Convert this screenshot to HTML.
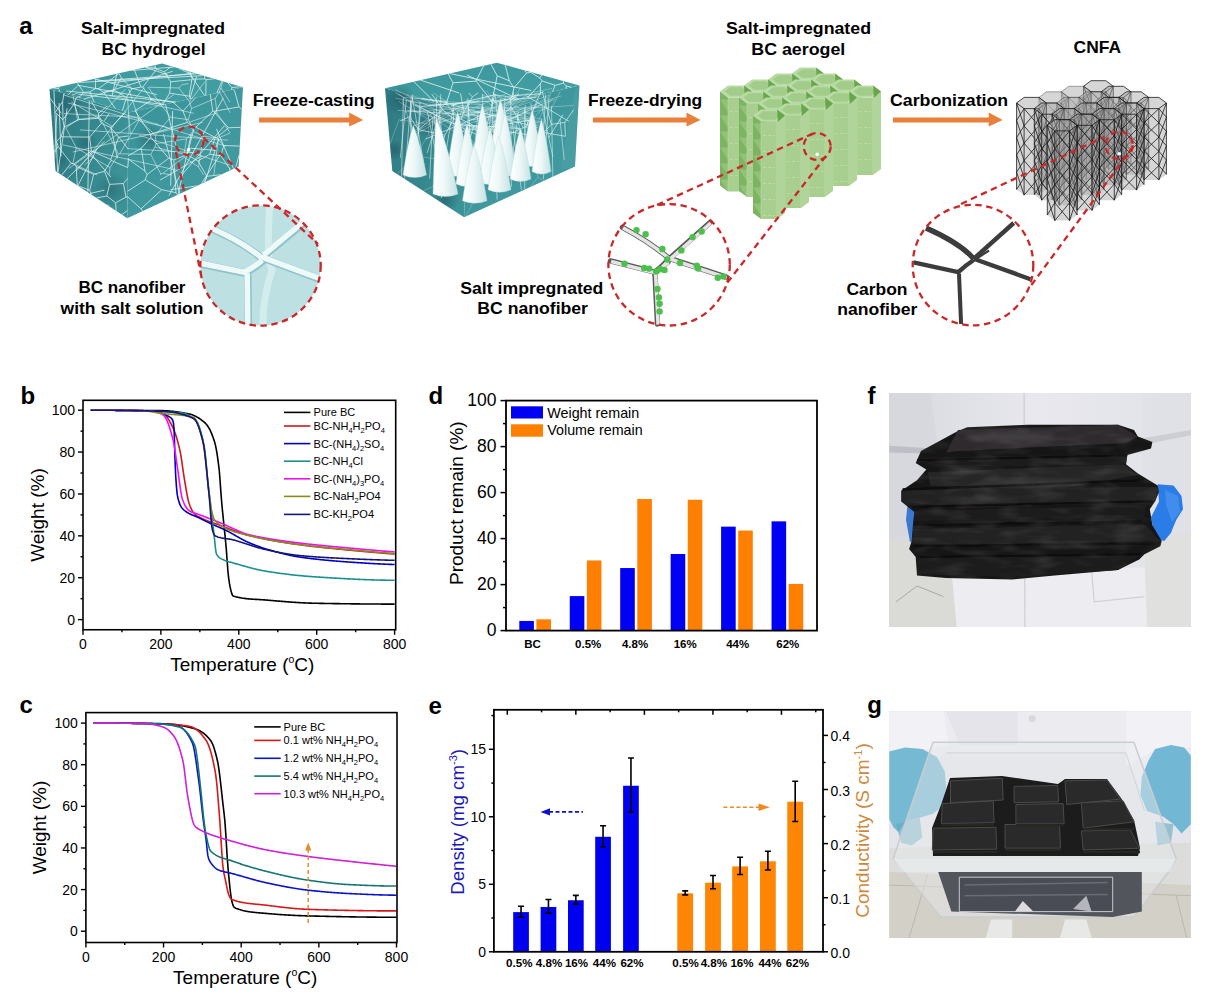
<!DOCTYPE html><html><head><meta charset="utf-8"><style>html,body{margin:0;padding:0;background:#fff;width:1210px;height:998px;overflow:hidden}svg{display:block}text{font-family:"Liberation Sans",sans-serif}</style></head><body>
<svg width="1210" height="998" viewBox="0 0 1210 998">
<rect width="1210" height="998" fill="#fff"/>
<text x="19.2" y="34" font-size="24" text-anchor="start" font-weight="bold" >a</text>
<text x="153.1" y="34" font-size="17" text-anchor="middle" font-weight="bold" textLength="144" lengthAdjust="spacingAndGlyphs">Salt-impregnated</text>
<text x="153.6" y="55" font-size="17" text-anchor="middle" font-weight="bold" textLength="104" lengthAdjust="spacingAndGlyphs">BC hydrogel</text>
<text x="252.7" y="105.7" font-size="17" text-anchor="start" font-weight="bold" textLength="122" lengthAdjust="spacingAndGlyphs">Freeze-casting</text>
<text x="132" y="293" font-size="17" text-anchor="middle" font-weight="bold" textLength="107" lengthAdjust="spacingAndGlyphs">BC nanofiber</text>
<text x="60.6" y="314" font-size="17" text-anchor="start" font-weight="bold" textLength="142.8" lengthAdjust="spacingAndGlyphs">with salt solution</text>
<text x="588" y="105.7" font-size="17" text-anchor="start" font-weight="bold" textLength="114.2" lengthAdjust="spacingAndGlyphs">Freeze-drying</text>
<text x="460.3" y="293.7" font-size="17" text-anchor="start" font-weight="bold" textLength="143.1" lengthAdjust="spacingAndGlyphs">Salt impregnated</text>
<text x="477.3" y="314" font-size="17" text-anchor="start" font-weight="bold" textLength="110.7" lengthAdjust="spacingAndGlyphs">BC nanofiber</text>
<text x="726" y="34" font-size="17" text-anchor="start" font-weight="bold" textLength="145" lengthAdjust="spacingAndGlyphs">Salt-impregnated</text>
<text x="845.3" y="54.5" font-size="17" text-anchor="end" font-weight="bold" textLength="94" lengthAdjust="spacingAndGlyphs">BC aerogel</text>
<text x="1073.6" y="52.7" font-size="17" text-anchor="start" font-weight="bold" textLength="47.4" lengthAdjust="spacingAndGlyphs">CNFA</text>
<text x="890" y="105.5" font-size="17" text-anchor="start" font-weight="bold" textLength="118.2" lengthAdjust="spacingAndGlyphs">Carbonization</text>
<text x="846.4" y="294.5" font-size="17" text-anchor="start" font-weight="bold" textLength="61.1" lengthAdjust="spacingAndGlyphs">Carbon</text>
<text x="837.3" y="314.5" font-size="17" text-anchor="start" font-weight="bold" textLength="80" lengthAdjust="spacingAndGlyphs">nanofiber</text>
<path d="M259.1,117.5 L349.2,117.5 L349.2,112.4 L363.2,120 L349.2,126.6 L349.2,122.5 L259.1,122.5 Z" fill="#e8803a"/>
<path d="M593,117.5 L686.5,117.5 L686.5,112.4 L700.5,120 L686.5,126.6 L686.5,122.5 L593,122.5 Z" fill="#e8803a"/>
<path d="M893,117.5 L988.7,117.5 L988.7,112.4 L1002.7,120 L988.7,126.6 L988.7,122.5 L893,122.5 Z" fill="#e8803a"/>
<defs><linearGradient id="lf1" x1="0" y1="0" x2="1" y2="0.3"><stop offset="0" stop-color="#2f7a83"/><stop offset="0.6" stop-color="#35878e"/><stop offset="1" stop-color="#3b9297"/></linearGradient><linearGradient id="tf1" x1="0" y1="0" x2="1" y2="1"><stop offset="0" stop-color="#3b979b"/><stop offset="1" stop-color="#43a0a4"/></linearGradient><linearGradient id="rf1" x1="0" y1="0" x2="1" y2="1"><stop offset="0" stop-color="#38939a"/><stop offset="1" stop-color="#439ca0"/></linearGradient><radialGradient id="blob1"><stop offset="0" stop-color="#1a4f58" stop-opacity="0.85"/><stop offset="1" stop-color="#1a4f58" stop-opacity="0"/></radialGradient><clipPath id="bclip1"><polygon points="49.5,89.0 162.0,63.5 243.0,87.3 238.6,166.5 127.3,218.2 55.5,171.0"/></clipPath></defs>
<polygon points="49.5,89.0 162.0,63.5 243.0,87.3 128.5,112.5" fill="url(#tf1)"/>
<polygon points="49.5,89.0 128.5,112.5 127.3,218.2 55.5,171.0" fill="url(#lf1)"/>
<polygon points="128.5,112.5 243.0,87.3 238.6,166.5 127.3,218.2" fill="url(#rf1)"/>
<g clip-path="url(#bclip1)">
<circle cx="66" cy="104" r="18" fill="url(#blob1)" opacity="0.45"/>
<circle cx="112" cy="190" r="18" fill="url(#blob1)" opacity="0.45"/>
<circle cx="86" cy="143" r="12" fill="url(#blob1)" opacity="0.45"/>
<circle cx="60" cy="160" r="10" fill="url(#blob1)" opacity="0.45"/>
<circle cx="150" cy="140" r="16" fill="url(#blob1)" opacity="0.45"/>
<path d="M59.4,86.8L58.5,88.5M53.5,88.1L58.5,88.5M76.6,97.0L79.9,96.7M60.2,92.2L58.5,88.5M79.9,96.7L83.7,92.5M77.2,82.7L83.7,92.5M134.2,111.2L151.9,99.9M151.9,99.9L162.1,105.1M190.4,71.9L190.5,73.7M190.5,73.7L178.5,68.3M94.2,102.3L89.8,91.8M79.9,96.7L79.8,98.0M89.8,91.8L83.7,92.5M89.8,91.8L95.5,88.6M95.6,78.5L95.5,88.6M115.5,108.6L103.5,92.1M103.5,92.1L98.4,88.9M98.4,88.9L95.5,88.6M114.2,90.1L126.4,97.5M114.2,90.1L121.4,77.8M121.4,77.8L131.9,88.8M126.4,97.5L131.9,88.8M122.4,110.7L126.4,97.5M103.5,92.1L114.2,90.1M119.0,73.4L98.4,88.9M119.0,73.4L121.4,77.8M151.9,99.9L142.8,87.1M162.4,105.0L169.7,93.2M164.4,71.7L170.7,81.8M164.4,71.7L156.6,69.2M169.7,93.2L170.7,81.8M142.8,87.1L156.6,69.2M131.9,88.8L141.0,87.0M142.8,87.1L141.0,87.0M155.0,65.1L155.4,67.2M164.4,71.7L171.5,66.3M156.6,69.2L155.4,67.2M155.4,67.2L145.0,67.4M119.0,73.4L119.0,73.3M141.0,87.0L134.3,69.8M204.6,76.0L204.7,78.9M190.5,73.7L192.4,79.2M204.7,78.9L192.4,79.2M170.7,81.8L191.8,79.7M192.4,79.2L191.8,79.7M169.7,93.2L189.3,96.2M191.8,79.7L189.3,96.2M204.7,78.9L206.0,79.7M214.2,78.8L206.0,79.7M228.0,82.9L231.9,87.5M222.0,81.1L216.8,93.1M231.7,89.0L231.9,87.5M231.7,89.0L231.2,89.9M241.0,86.7L231.9,87.5M206.0,79.7L205.8,95.5M189.3,96.2L190.8,98.8M164.5,104.6L78.5,94.2M77.3,85.2L174.2,102.5M174.1,67.0L131.0,70.5M197.1,73.8L96.8,81.0M83.6,99.2L172.6,71.3M145.9,67.4L167.7,74.9M94.6,78.8L156.9,94.7M112.3,95.0L116.8,73.7M110.5,82.9L194.2,73.0M66.2,91.0L176.2,102.0M188.0,71.1L204.7,95.7M77.4,86.3L68.2,94.6M189.8,99.0L196.6,76.6M202.3,75.7L78.1,82.5" stroke="#e6f4f4" stroke-width="0.8" fill="none" opacity="0.95"/>
<path d="M56.5,141.5L58.1,146.5M54.1,152.5L58.1,146.5M107.0,106.1L98.5,113.3M98.5,113.3L91.4,101.5M101.4,123.3L98.8,118.3M101.4,123.3L89.6,137.1M98.8,118.3L79.1,119.6M89.6,137.1L61.0,136.8M79.1,119.6L64.1,127.0M61.0,136.8L64.1,127.0M98.5,113.3L98.8,118.3M76.4,97.0L74.4,103.5M74.4,103.5L79.1,119.6M128.2,136.0L118.8,137.2M126.1,111.8L110.8,127.6M110.8,127.6L118.5,137.1M118.5,137.1L118.8,137.2M128.1,148.7L118.8,137.2M101.4,123.3L110.8,127.6M55.3,112.4L62.9,119.9M55.3,112.4L62.6,101.5M62.6,101.5L63.0,119.5M62.9,119.9L63.0,119.5M56.5,141.5L61.0,136.8M64.1,127.0L62.9,119.9M64.1,93.3L62.6,101.5M74.4,103.5L63.0,119.5M123.4,183.5L127.8,178.3M123.4,183.5L126.0,197.1M126.0,197.1L127.5,197.2M127.4,210.4L122.5,214.3M122.5,214.3L121.1,214.1M58.1,146.5L71.2,163.2M71.2,163.2L61.7,175.1M89.6,137.1L91.4,150.9M71.2,163.2L74.1,164.0M91.4,150.9L74.1,164.0M118.5,137.1L110.9,159.5M91.4,150.9L110.9,159.5M127.9,167.7L111.1,160.4M110.9,159.5L111.1,160.4M126.0,197.1L115.6,202.8M115.6,202.8L116.2,210.9M104.5,171.3L93.7,174.3M104.5,171.3L109.6,184.4M93.7,174.3L89.7,190.3M109.6,184.4L106.8,196.0M106.8,196.0L96.6,198.0M89.7,190.3L91.5,194.7M74.1,164.0L76.2,166.5M76.2,166.5L93.7,174.3M111.1,160.4L104.5,171.3M123.4,183.5L109.6,184.4M76.2,166.5L77.3,185.3M77.8,185.7L89.7,190.3M115.6,202.8L106.8,196.0M89.8,193.5L104.5,190.1M97.4,148.1L77.8,185.7M61.0,156.4L59.1,103.0M117.4,158.2L110.8,126.8M61.4,113.4L50.2,98.4M108.8,205.7L107.3,205.0M110.9,177.0L88.9,151.7M104.4,120.7L109.0,113.8M54.6,158.9L56.7,114.4M53.9,90.3L57.7,172.4M104.4,141.3L67.2,178.7M87.9,192.3L89.3,100.8M57.9,172.6L67.1,108.4" stroke="#e6f4f4" stroke-width="0.8" fill="none" opacity="0.95"/>
<path d="M241.8,109.6L239.0,106.9M234.6,91.0L239.0,106.9M233.5,89.4L234.6,91.0M239.7,146.1L223.7,145.5M239.3,154.4L235.6,167.9M220.9,155.7L223.7,145.5M220.9,155.7L230.6,170.2M135.3,111.0L150.5,134.2M150.5,134.2L150.9,137.3M150.9,137.3L141.2,148.3M128.0,155.9L141.2,148.3M239.0,106.9L213.5,111.4M210.3,94.5L212.8,111.2M213.5,111.4L212.8,111.2M240.8,127.3L228.6,127.8M213.5,111.4L228.6,127.8M223.7,145.5L216.5,137.5M228.6,127.8L216.5,137.5M150.5,134.2L187.4,122.4M187.4,122.4L182.9,111.0M173.4,102.6L182.9,111.0M127.6,191.2L145.2,179.9M127.9,167.0L128.4,159.2M128.4,159.2L145.0,171.1M145.2,179.9L147.1,174.5M147.1,174.5L145.0,171.1M128.0,158.0L128.4,159.2M141.2,148.3L145.0,171.1M150.9,137.3L168.7,158.2M168.7,158.2L147.1,174.5M215.2,137.5L195.8,127.2M215.2,137.5L209.6,154.3M209.6,154.3L197.9,161.0M194.2,127.5L195.8,127.2M194.2,127.5L187.2,154.7M187.2,154.7L197.9,161.0M212.8,111.2L195.8,127.2M216.5,137.5L215.2,137.5M220.9,155.7L209.6,154.3M206.9,176.3L221.0,174.7M206.9,176.3L197.9,161.0M173.9,159.9L187.2,154.7M173.9,159.9L168.7,158.2M187.4,122.4L194.2,127.5M182.9,111.0L195.5,97.8M206.9,176.3L204.0,182.5M176.0,192.7L177.6,194.8M176.0,192.7L161.8,189.7M161.8,189.7L141.1,208.8M141.1,208.8L142.6,211.1M173.9,159.9L176.0,192.7M145.2,179.9L161.8,189.7M127.5,196.6L141.1,208.8M176.5,147.6L165.5,104.4M169.0,195.5L223.3,97.9M191.3,133.6L178.2,194.6M220.9,153.7L201.3,183.8M170.7,189.7L196.7,185.9M180.0,177.0L224.2,126.0M215.6,150.4L189.1,148.1M170.7,185.8L172.6,111.0M218.4,139.6L205.0,182.1M202.2,155.9L160.1,180.1M233.6,168.8L216.4,128.9M163.5,134.1L179.8,193.8" stroke="#e6f4f4" stroke-width="0.8" fill="none" opacity="0.95"/>
<path d="M219.4,91.7L220.9,88.0M219.4,91.7L230.0,112.8M220.9,88.0L230.0,102.1M223.1,80.6L220.9,88.0M72.7,93.9L77.5,119.6M65.9,127.9L77.5,119.6M125.4,89.2L99.5,116.7M128.6,89.0L139.2,120.1M139.2,120.1L119.7,153.8M99.5,116.7L118.5,154.1M119.7,153.8L118.5,154.1M77.5,119.6L99.5,116.7M155.4,135.1L139.2,120.1M155.4,135.1L170.6,117.2M170.6,117.2L148.0,87.2M184.3,157.3L184.0,154.3M184.3,157.3L162.6,173.4M184.0,154.3L154.8,147.1M162.6,173.4L160.7,173.9M160.7,173.9L150.8,154.5M154.8,147.1L150.8,154.5M186.6,138.9L184.0,154.3M186.6,138.9L193.0,131.3M193.0,131.3L203.4,136.2M203.4,136.2L198.5,167.0M198.5,167.0L184.3,157.3M203.6,175.0L198.5,167.0M172.0,175.0L162.6,173.4M156.1,143.7L154.8,147.1M156.1,143.7L186.6,138.9M155.4,135.1L156.1,143.7M119.7,153.8L150.8,154.5M215.3,98.4L191.6,108.5M215.3,98.4L216.9,112.9M216.9,112.9L189.7,122.0M191.6,108.5L188.3,119.7M189.7,122.0L188.3,119.7M170.6,117.2L188.3,119.7M193.0,131.3L189.7,122.0M218.4,138.0L230.0,133.1M218.4,138.0L213.9,175.0M229.4,175.0L230.0,167.5M203.4,136.2L218.4,138.0M216.9,112.9L230.0,132.7M160.4,175.0L160.7,173.9M219.4,91.7L215.3,98.4M189.4,101.5L178.9,88.0M189.4,101.5L204.5,82.3M188.6,83.7L182.1,84.5M178.9,88.0L182.1,84.5M148.6,87.2L178.9,88.0M191.6,108.5L189.4,101.5M109.0,175.0L110.1,167.6M97.3,175.0L72.8,163.5M110.1,167.6L76.3,147.8M72.8,163.5L76.3,147.8M118.5,154.1L110.1,167.6M65.9,127.9L76.3,147.8M139.2,135.2L229.7,165.2M84.5,164.9L94.5,156.3M174.2,94.4L69.1,168.3M63.1,94.7L225.7,146.2M155.9,123.1L157.3,124.0M71.2,101.9L113.4,127.1M126.9,148.6L196.6,153.0M138.3,117.3L63.9,113.6M193.8,113.2L108.6,95.5M167.6,127.6L67.8,103.0M73.0,94.6L77.8,93.4M228.2,140.2L80.0,129.9M127.5,98.4L130.2,133.8M76.9,170.7L144.2,87.6M176.5,170.1L62.8,144.8M202.6,122.3L72.9,152.0" stroke="#e6f4f4" stroke-width="0.75" fill="none" opacity="0.75"/>
</g>
<defs><linearGradient id="lf2" x1="0" y1="0" x2="1" y2="0.3"><stop offset="0" stop-color="#2f7a83"/><stop offset="0.6" stop-color="#35878e"/><stop offset="1" stop-color="#3b9297"/></linearGradient><linearGradient id="tf2" x1="0" y1="0" x2="1" y2="1"><stop offset="0" stop-color="#3b979b"/><stop offset="1" stop-color="#43a0a4"/></linearGradient><linearGradient id="rf2" x1="0" y1="0" x2="1" y2="1"><stop offset="0" stop-color="#38939a"/><stop offset="1" stop-color="#439ca0"/></linearGradient><radialGradient id="blob2"><stop offset="0" stop-color="#1a4f58" stop-opacity="0.85"/><stop offset="1" stop-color="#1a4f58" stop-opacity="0"/></radialGradient><clipPath id="bclip2"><polygon points="385.0,88.2 496.8,62.7 579.5,85.5 575.0,166.4 464.1,217.3 392.3,170.9"/></clipPath></defs>
<polygon points="385.0,88.2 496.8,62.7 579.5,85.5 467.7,111.0" fill="url(#tf2)"/>
<polygon points="385.0,88.2 467.7,111.0 464.1,217.3 392.3,170.9" fill="url(#lf2)"/>
<polygon points="467.7,111.0 579.5,85.5 575.0,166.4 464.1,217.3" fill="url(#rf2)"/>
<g clip-path="url(#bclip2)">
<circle cx="400" cy="100" r="16" fill="url(#blob2)" opacity="0.6"/>
<circle cx="430" cy="125" r="14" fill="url(#blob2)" opacity="0.6"/>
<circle cx="445" cy="200" r="14" fill="url(#blob2)" opacity="0.6"/>
<circle cx="395" cy="150" r="10" fill="url(#blob2)" opacity="0.6"/>
<polygon points="575.0,90.0 579.5,85.5 575.0,166.4 560.0,170.0" fill="#5aa6aa" opacity="0.35"/>
<path d="M566.1,88.6L566.3,85.9M566.3,85.9L571.5,87.3M434.1,101.7L413.8,81.6M491.7,105.5L492.9,103.2M492.9,103.2L508.3,99.0M516.2,99.9L511.8,97.7M508.3,99.0L511.8,97.7M445.8,105.0L453.0,82.8M453.0,82.8L448.2,73.8M513.9,87.9L509.3,80.8M513.9,87.9L526.7,72.9M505.2,65.0L509.3,80.8M524.4,70.3L526.7,72.9M566.3,85.9L563.3,83.2M563.3,83.2L563.6,81.1M497.2,75.8L490.8,64.1M497.2,75.8L492.0,101.6M492.0,101.6L476.0,81.1M476.0,81.1L483.7,65.7M509.3,80.8L497.2,75.8M513.9,87.9L511.8,97.7M492.9,103.2L492.0,101.6M453.0,82.8L476.0,81.1M526.7,72.9L531.0,72.5M531.0,72.5L531.1,72.2M531.0,72.5L539.7,77.9M539.7,77.9L541.8,75.1M540.4,94.4L540.3,83.8M552.6,91.6L555.2,85.3M555.2,85.3L542.1,80.9M540.3,83.8L542.1,80.9M527.9,97.3L540.3,83.8M563.3,83.2L555.2,85.3M539.7,77.9L542.1,80.9M451.0,105.3L494.8,94.7M420.5,80.1L459.1,93.0M531.2,90.5L449.5,73.5M467.0,75.1L518.9,99.3M421.5,98.3L447.7,102.6M518.9,93.6L508.4,101.7" stroke="#e6f4f4" stroke-width="0.85" fill="none" opacity="0.95"/>
<path d="M453.8,119.0L444.9,135.1M453.8,119.0L461.0,119.0M461.0,119.0L473.7,125.7M473.7,125.7L469.7,140.0M443.5,140.0L444.9,135.1M535.0,133.4L538.9,135.3M535.0,133.4L531.4,140.0M412.9,94.5L410.3,116.4M400.3,120.9L410.3,116.4M418.5,129.7L418.5,129.5M418.5,129.5L411.5,119.7M444.9,135.1L418.5,129.7M442.5,109.7L418.5,129.5M442.5,109.7L453.8,119.0M442.5,109.7L431.8,94.0M410.3,116.4L411.5,119.7M461.0,119.0L463.9,111.8M463.9,111.8L460.5,93.2M500.5,140.0L500.4,138.7M500.4,138.7L490.0,129.0M473.7,125.7L486.5,126.7M486.5,126.7L490.0,129.0M526.2,127.0L539.8,93.9M526.2,127.0L523.3,127.5M523.3,127.5L510.8,106.7M539.8,93.9L513.7,95.6M510.8,106.7L510.9,97.0M513.7,95.6L510.9,97.0M535.0,133.4L526.2,127.0M500.4,138.7L523.3,127.5M490.0,129.0L510.8,106.7M543.4,90.9L542.3,92.1M542.3,92.1L539.8,93.9M513.1,91.7L513.7,95.6M486.5,126.7L494.7,94.9M494.7,94.9L510.9,97.0M551.3,124.4L564.8,122.4M551.3,124.4L543.8,132.5M543.8,132.5L565.4,136.3M564.8,122.4L565.4,136.3M573.8,109.6L564.8,122.4M542.3,92.1L551.3,124.4M538.9,135.3L543.8,132.5M472.4,96.9L468.7,93.0M472.4,96.9L478.3,92.7M463.9,111.8L472.4,96.9M494.7,94.9L492.7,92.3M563.1,114.6L548.5,137.9M470.0,120.3L501.8,114.0M479.4,101.1L428.8,105.4M501.6,123.0L542.5,104.3M487.8,112.7L425.7,139.1M455.4,124.5L519.5,128.5M545.0,137.3L452.8,123.4M452.0,104.9L537.7,127.5M526.7,96.1L569.1,121.4M478.7,135.6L415.1,105.1M420.8,106.4L536.6,97.5M532.0,119.9L454.3,132.5" stroke="#e6f4f4" stroke-width="0.8" fill="none" opacity="0.85"/>
<path d="M532.1,157.8L524.2,152.1M524.2,152.1L551.4,91.9M530.6,186.8L538.0,177.3M543.7,180.8L538.0,177.3M532.1,157.8L538.0,177.3M489.1,172.8L512.3,156.1M489.1,172.8L475.3,128.2M512.3,156.1L496.9,117.0M475.3,128.2L496.9,117.0M465.5,216.7L489.1,172.8M524.2,152.1L512.3,156.1M467.3,124.0L475.3,128.2M507.3,102.0L496.9,117.0" stroke="#e6f4f4" stroke-width="0.6" fill="none" opacity="0.45"/>
<path d="M423.4,191.0L442.0,181.9M440.8,103.6L442.6,110.4M442.6,110.4L467.4,119.0M442.6,110.4L428.8,124.0M428.8,124.0L399.0,119.7M399.0,119.7L390.0,144.4M428.6,134.3L415.3,156.3M428.6,134.3L449.5,154.7M415.3,156.3L446.3,159.9M449.5,154.7L446.3,159.9M428.8,124.0L428.6,134.3M397.2,174.1L415.3,156.3M466.4,149.2L449.5,154.7M442.0,181.9L446.3,159.9" stroke="#e6f4f4" stroke-width="0.6" fill="none" opacity="0.45"/>
<defs><linearGradient id="cone" x1="0" y1="0" x2="1" y2="0"><stop offset="0" stop-color="#ffffff"/><stop offset="0.45" stop-color="#eef8f8"/><stop offset="1" stop-color="#c5e2e4"/></linearGradient></defs>
<path d="M539.9,107.4L482.4,107.4M404.7,97.2L481.9,105.0M403.8,112.0L482.9,106.8M473.3,111.4L483.9,112.9M465.6,99.8L483.0,105.1M495.0,94.5L502.0,99.6M517.3,108.9L499.4,108.0M552.0,88.4L501.3,99.0M485.6,98.5L499.3,102.2M540.1,95.6L499.1,106.0M475.7,107.2L531.2,113.2M539.0,100.2L532.3,112.4M397.6,110.4L530.6,118.4M461.2,110.8L531.9,119.4M495.1,93.8L533.3,116.7M518.2,99.1L456.6,118.2M414.3,104.6L458.2,115.6M538.7,92.7L457.3,119.8M463.5,105.1L458.2,121.2M573.5,105.4L458.9,113.3M523.3,108.3L504.6,117.5M481.3,111.0L504.3,116.0M395.2,98.1L505.5,121.3M561.3,95.9L507.0,113.9M543.2,91.8L504.6,112.7M549.4,107.9L465.6,129.3M441.5,99.8L467.2,125.1M550.6,94.7L466.8,124.6M395.5,92.7L466.4,133.3M555.2,99.5L466.8,130.7M549.6,96.1L491.2,132.0M501.9,105.7L490.0,134.9M520.5,88.1L488.2,129.5M433.5,92.9L488.2,130.2M503.2,109.3L489.4,131.7M470.0,104.3L414.3,134.9M462.6,105.0L412.6,133.7M436.5,108.9L413.2,132.8M491.3,95.6L413.2,126.0M402.7,100.7L413.1,133.8M398.6,101.4L436.0,124.0M526.3,100.6L436.3,122.9M505.7,94.0L436.2,124.7M429.4,111.8L437.0,127.6M447.9,98.6L435.0,118.5M398.0,93.9L475.4,146.1M519.1,94.0L472.3,146.4M517.0,100.0L474.2,149.0M444.4,99.7L475.7,146.5M526.9,94.0L472.8,147.7M411.7,110.4L498.1,137.3M395.0,89.5L497.5,139.7M503.3,111.5L500.2,137.9M505.1,110.1L497.0,144.0M466.3,106.8L497.9,141.8M486.3,90.5L521.5,136.4M481.9,97.3L522.3,131.9M553.3,98.0L520.0,131.8M405.8,94.7L519.4,128.8M492.5,98.6L518.6,129.8M560.4,91.2L540.9,128.5M415.4,97.8L542.6,119.2M407.2,110.3L542.1,121.6M481.4,94.0L543.0,128.5M407.8,100.6L540.1,123.0" stroke="#e8f6f6" stroke-width="0.6" opacity="0.55" fill="none"/>
<line x1="518.6" y1="112.0" x2="511.1" y2="166.6" stroke="#e8f6f6" stroke-width="0.7" opacity="0.8"/>
<line x1="468.0" y1="102.8" x2="472.4" y2="189.4" stroke="#e8f6f6" stroke-width="0.7" opacity="0.8"/>
<line x1="453.7" y1="104.4" x2="443.3" y2="168.3" stroke="#e8f6f6" stroke-width="0.7" opacity="0.8"/>
<line x1="551.5" y1="106.1" x2="552.9" y2="180.3" stroke="#e8f6f6" stroke-width="0.7" opacity="0.8"/>
<line x1="490.7" y1="114.5" x2="485.0" y2="165.8" stroke="#e8f6f6" stroke-width="0.7" opacity="0.8"/>
<line x1="541.9" y1="106.0" x2="552.9" y2="156.9" stroke="#e8f6f6" stroke-width="0.7" opacity="0.8"/>
<line x1="525.3" y1="105.2" x2="524.7" y2="194.1" stroke="#e8f6f6" stroke-width="0.7" opacity="0.8"/>
<line x1="420.9" y1="106.4" x2="414.9" y2="167.1" stroke="#e8f6f6" stroke-width="0.7" opacity="0.8"/>
<line x1="530.8" y1="103.1" x2="537.6" y2="150.7" stroke="#e8f6f6" stroke-width="0.7" opacity="0.8"/>
<line x1="559.9" y1="118.7" x2="564.2" y2="159.8" stroke="#e8f6f6" stroke-width="0.7" opacity="0.8"/>
<line x1="505.1" y1="97.3" x2="502.1" y2="151.7" stroke="#e8f6f6" stroke-width="0.7" opacity="0.8"/>
<line x1="411.2" y1="96.4" x2="403.6" y2="191.9" stroke="#e8f6f6" stroke-width="0.7" opacity="0.8"/>
<line x1="439.0" y1="115.1" x2="427.2" y2="152.9" stroke="#e8f6f6" stroke-width="0.7" opacity="0.8"/>
<line x1="409.7" y1="118.1" x2="417.4" y2="150.8" stroke="#e8f6f6" stroke-width="0.7" opacity="0.8"/>
<line x1="549.0" y1="98.3" x2="543.4" y2="179.2" stroke="#e8f6f6" stroke-width="0.7" opacity="0.8"/>
<line x1="432.8" y1="119.3" x2="429.6" y2="178.6" stroke="#e8f6f6" stroke-width="0.7" opacity="0.8"/>
<line x1="491.6" y1="99.9" x2="497.2" y2="199.6" stroke="#e8f6f6" stroke-width="0.7" opacity="0.8"/>
<line x1="495.3" y1="94.3" x2="502.7" y2="183.3" stroke="#e8f6f6" stroke-width="0.7" opacity="0.8"/>
<line x1="478.4" y1="110.3" x2="472.6" y2="165.2" stroke="#e8f6f6" stroke-width="0.7" opacity="0.8"/>
<line x1="482.5" y1="93.9" x2="484.6" y2="159.1" stroke="#e8f6f6" stroke-width="0.7" opacity="0.8"/>
<line x1="440.6" y1="117.2" x2="442.7" y2="162.2" stroke="#e8f6f6" stroke-width="0.7" opacity="0.8"/>
<line x1="511.8" y1="119.9" x2="521.4" y2="189.9" stroke="#e8f6f6" stroke-width="0.7" opacity="0.8"/>
<line x1="453.2" y1="108.3" x2="455.2" y2="154.4" stroke="#e8f6f6" stroke-width="0.7" opacity="0.8"/>
<line x1="510.8" y1="106.6" x2="511.4" y2="186.9" stroke="#e8f6f6" stroke-width="0.7" opacity="0.8"/>
<line x1="412.4" y1="98.0" x2="424.1" y2="165.0" stroke="#e8f6f6" stroke-width="0.7" opacity="0.8"/>
<line x1="440.8" y1="94.0" x2="436.3" y2="178.0" stroke="#e8f6f6" stroke-width="0.7" opacity="0.8"/>
<line x1="406.3" y1="100.1" x2="400.4" y2="157.7" stroke="#e8f6f6" stroke-width="0.7" opacity="0.8"/>
<line x1="526.7" y1="118.9" x2="536.7" y2="172.0" stroke="#e8f6f6" stroke-width="0.7" opacity="0.8"/>
<line x1="410.6" y1="101.8" x2="411.2" y2="169.0" stroke="#e8f6f6" stroke-width="0.7" opacity="0.8"/>
<line x1="517.0" y1="112.8" x2="526.5" y2="173.5" stroke="#e8f6f6" stroke-width="0.7" opacity="0.8"/>
<line x1="438.2" y1="117.5" x2="447.4" y2="156.3" stroke="#e8f6f6" stroke-width="0.7" opacity="0.8"/>
<line x1="433.8" y1="110.5" x2="441.5" y2="198.0" stroke="#e8f6f6" stroke-width="0.7" opacity="0.8"/>
<line x1="403.4" y1="97.3" x2="401.5" y2="177.5" stroke="#e8f6f6" stroke-width="0.7" opacity="0.8"/>
<line x1="524.5" y1="107.6" x2="525.0" y2="162.0" stroke="#e8f6f6" stroke-width="0.7" opacity="0.8"/>
<line x1="504.0" y1="108.3" x2="514.7" y2="159.5" stroke="#e8f6f6" stroke-width="0.7" opacity="0.8"/>
<line x1="420.0" y1="101.9" x2="415.8" y2="172.7" stroke="#e8f6f6" stroke-width="0.7" opacity="0.8"/>
<line x1="427.4" y1="111.8" x2="435.2" y2="150.3" stroke="#e8f6f6" stroke-width="0.7" opacity="0.8"/>
<line x1="545.6" y1="94.5" x2="541.0" y2="174.3" stroke="#e8f6f6" stroke-width="0.7" opacity="0.8"/>
<line x1="467.8" y1="98.0" x2="473.3" y2="192.0" stroke="#e8f6f6" stroke-width="0.7" opacity="0.8"/>
<line x1="436.4" y1="96.6" x2="436.9" y2="157.4" stroke="#e8f6f6" stroke-width="0.7" opacity="0.8"/>
<path d="M482.3,104.5 Q477.15,123.55 472,166 Q483.0,171 494,166 Q488.15,123.55 482.3,104.5 Z" fill="url(#cone)" stroke="#b8d8da" stroke-width="0.4"/>
<path d="M500.5,99 Q495.25,117.3 490,158 Q500.5,163 511,158 Q505.75,117.3 500.5,99 Z" fill="url(#cone)" stroke="#b8d8da" stroke-width="0.4"/>
<path d="M532.3,110 Q527.15,126.8 522,164 Q532.0,169 542,164 Q537.15,126.8 532.3,110 Z" fill="url(#cone)" stroke="#b8d8da" stroke-width="0.4"/>
<path d="M457.7,111.8 Q452.35,131.06 447,174 Q458.0,179 469,174 Q463.35,131.06 457.7,111.8 Z" fill="url(#cone)" stroke="#b8d8da" stroke-width="0.4"/>
<path d="M505,112 Q500.0,131.2 495,174 Q505.5,179 516,174 Q510.5,131.2 505,112 Z" fill="url(#cone)" stroke="#b8d8da" stroke-width="0.4"/>
<path d="M467,124 Q461.5,142.6 456,184 Q467.5,189 479,184 Q473.0,142.6 467,124 Z" fill="url(#cone)" stroke="#b8d8da" stroke-width="0.4"/>
<path d="M490,128 Q484.5,144.8 479,182 Q490.0,187 501,182 Q495.5,144.8 490,128 Z" fill="url(#cone)" stroke="#b8d8da" stroke-width="0.4"/>
<path d="M413.2,125.5 Q408.1,140.95 403,175 Q414.75,180 426.5,175 Q419.85,140.95 413.2,125.5 Z" fill="url(#cone)" stroke="#b8d8da" stroke-width="0.4"/>
<path d="M436,118 Q434.5,141.4 433,194 Q445.5,199 458,194 Q447.0,141.4 436,118 Z" fill="url(#cone)" stroke="#b8d8da" stroke-width="0.4"/>
<path d="M474,144.5 Q468.25,161.96 462.5,200.7 Q474.75,205.7 487,200.7 Q480.5,161.96 474,144.5 Z" fill="url(#cone)" stroke="#b8d8da" stroke-width="0.4"/>
<path d="M498.6,135.5 Q493.3,152.39000000000001 488,189.8 Q499.5,194.8 511,189.8 Q504.8,152.39000000000001 498.6,135.5 Z" fill="url(#cone)" stroke="#b8d8da" stroke-width="0.4"/>
<path d="M520.5,128.2 Q515.25,144.01 510,178.9 Q520.5,183.9 531,178.9 Q525.75,144.01 520.5,128.2 Z" fill="url(#cone)" stroke="#b8d8da" stroke-width="0.4"/>
<path d="M541.4,119 Q536.7,135.38 532,171.6 Q541.5,176.6 551,171.6 Q546.2,135.38 541.4,119 Z" fill="url(#cone)" stroke="#b8d8da" stroke-width="0.4"/>
</g>
<polygon points="792.0,73.5 800.0,79.5 800.0,158.5 792.0,152.5" fill="#7db462"/>
<polygon points="800.0,79.5 816.0,79.5 816.0,158.5 800.0,158.5" fill="#a8cf90"/>
<polygon points="816.0,79.5 824.0,73.5 824.0,152.5 816.0,158.5" fill="#b0d49a"/>
<path d="M792.0,81.5L800.0,81.5L800.0,93.5ZM792.0,97.5L800.0,97.5L800.0,109.5ZM792.0,113.5L800.0,113.5L800.0,125.5ZM792.0,129.5L800.0,129.5L800.0,141.5ZM792.0,145.5L800.0,145.5L800.0,157.5Z" fill="#9ac880" opacity="0.7"/>
<path d="M800.0,79.5V158.5M816.0,79.5V158.5" stroke="#c6e2b4" stroke-width="0.6" opacity="0.7"/>
<path d="M802.0,93.5h12.0M802.0,109.5h12.0M802.0,125.5h12.0M802.0,141.5h12.0M802.0,157.5h12.0" stroke="#cfe6c0" stroke-width="0.6" stroke-dasharray="3,2" opacity="0.8"/>
<polygon points="792.0,73.5 800.0,67.5 816.0,67.5 824.0,73.5 816.0,79.5 800.0,79.5" fill="#b9dba6"/>
<polygon points="796.5,73.5 802.2,69.2 813.8,69.2 819.5,73.5 813.8,77.8 802.2,77.8" fill="#a2cc89"/>
<polygon points="816.0,67.5 824.0,73.5 816.8,80.1" fill="#68a64c"/>
<polygon points="768.0,79.5 776.0,85.5 776.0,169.5 768.0,163.5" fill="#7db462"/>
<polygon points="776.0,85.5 792.0,85.5 792.0,169.5 776.0,169.5" fill="#a8cf90"/>
<polygon points="792.0,85.5 800.0,79.5 800.0,163.5 792.0,169.5" fill="#b0d49a"/>
<path d="M768.0,87.5L776.0,87.5L776.0,99.5ZM768.0,103.5L776.0,103.5L776.0,115.5ZM768.0,119.5L776.0,119.5L776.0,131.5ZM768.0,135.5L776.0,135.5L776.0,147.5ZM768.0,151.5L776.0,151.5L776.0,163.5Z" fill="#9ac880" opacity="0.7"/>
<path d="M776.0,85.5V169.5M792.0,85.5V169.5" stroke="#c6e2b4" stroke-width="0.6" opacity="0.7"/>
<path d="M778.0,99.5h12.0M778.0,115.5h12.0M778.0,131.5h12.0M778.0,147.5h12.0M778.0,163.5h12.0" stroke="#cfe6c0" stroke-width="0.6" stroke-dasharray="3,2" opacity="0.8"/>
<polygon points="768.0,79.5 776.0,73.5 792.0,73.5 800.0,79.5 792.0,85.5 776.0,85.5" fill="#b9dba6"/>
<polygon points="772.5,79.5 778.2,75.2 789.8,75.2 795.5,79.5 789.8,83.8 778.2,83.8" fill="#a2cc89"/>
<polygon points="792.0,73.5 800.0,79.5 792.8,86.1" fill="#68a64c"/>
<polygon points="811.0,79.5 819.0,85.5 819.0,164.0 811.0,158.0" fill="#7db462"/>
<polygon points="819.0,85.5 835.0,85.5 835.0,164.0 819.0,164.0" fill="#a8cf90"/>
<polygon points="835.0,85.5 843.0,79.5 843.0,158.0 835.0,164.0" fill="#b0d49a"/>
<path d="M811.0,87.5L819.0,87.5L819.0,99.5ZM811.0,103.5L819.0,103.5L819.0,115.5ZM811.0,119.5L819.0,119.5L819.0,131.5ZM811.0,135.5L819.0,135.5L819.0,147.5ZM811.0,151.5L819.0,151.5L819.0,163.5Z" fill="#9ac880" opacity="0.7"/>
<path d="M819.0,85.5V164.0M835.0,85.5V164.0" stroke="#c6e2b4" stroke-width="0.6" opacity="0.7"/>
<path d="M821.0,99.5h12.0M821.0,115.5h12.0M821.0,131.5h12.0M821.0,147.5h12.0" stroke="#cfe6c0" stroke-width="0.6" stroke-dasharray="3,2" opacity="0.8"/>
<polygon points="811.0,79.5 819.0,73.5 835.0,73.5 843.0,79.5 835.0,85.5 819.0,85.5" fill="#b9dba6"/>
<polygon points="815.5,79.5 821.2,75.2 832.8,75.2 838.5,79.5 832.8,83.8 821.2,83.8" fill="#a2cc89"/>
<polygon points="835.0,73.5 843.0,79.5 835.8,86.1" fill="#68a64c"/>
<polygon points="744.0,85.5 752.0,91.5 752.0,180.5 744.0,174.5" fill="#7db462"/>
<polygon points="752.0,91.5 768.0,91.5 768.0,180.5 752.0,180.5" fill="#a8cf90"/>
<polygon points="768.0,91.5 776.0,85.5 776.0,174.5 768.0,180.5" fill="#b0d49a"/>
<path d="M744.0,93.5L752.0,93.5L752.0,105.5ZM744.0,109.5L752.0,109.5L752.0,121.5ZM744.0,125.5L752.0,125.5L752.0,137.5ZM744.0,141.5L752.0,141.5L752.0,153.5ZM744.0,157.5L752.0,157.5L752.0,169.5Z" fill="#9ac880" opacity="0.7"/>
<path d="M752.0,91.5V180.5M768.0,91.5V180.5" stroke="#c6e2b4" stroke-width="0.6" opacity="0.7"/>
<path d="M754.0,105.5h12.0M754.0,121.5h12.0M754.0,137.5h12.0M754.0,153.5h12.0M754.0,169.5h12.0" stroke="#cfe6c0" stroke-width="0.6" stroke-dasharray="3,2" opacity="0.8"/>
<polygon points="744.0,85.5 752.0,79.5 768.0,79.5 776.0,85.5 768.0,91.5 752.0,91.5" fill="#b9dba6"/>
<polygon points="748.5,85.5 754.2,81.2 765.8,81.2 771.5,85.5 765.8,89.8 754.2,89.8" fill="#a2cc89"/>
<polygon points="768.0,79.5 776.0,85.5 768.8,92.1" fill="#68a64c"/>
<polygon points="787.0,85.5 795.0,91.5 795.0,175.0 787.0,169.0" fill="#7db462"/>
<polygon points="795.0,91.5 811.0,91.5 811.0,175.0 795.0,175.0" fill="#a8cf90"/>
<polygon points="811.0,91.5 819.0,85.5 819.0,169.0 811.0,175.0" fill="#b0d49a"/>
<path d="M787.0,93.5L795.0,93.5L795.0,105.5ZM787.0,109.5L795.0,109.5L795.0,121.5ZM787.0,125.5L795.0,125.5L795.0,137.5ZM787.0,141.5L795.0,141.5L795.0,153.5ZM787.0,157.5L795.0,157.5L795.0,169.5Z" fill="#9ac880" opacity="0.7"/>
<path d="M795.0,91.5V175.0M811.0,91.5V175.0" stroke="#c6e2b4" stroke-width="0.6" opacity="0.7"/>
<path d="M797.0,105.5h12.0M797.0,121.5h12.0M797.0,137.5h12.0M797.0,153.5h12.0M797.0,169.5h12.0" stroke="#cfe6c0" stroke-width="0.6" stroke-dasharray="3,2" opacity="0.8"/>
<polygon points="787.0,85.5 795.0,79.5 811.0,79.5 819.0,85.5 811.0,91.5 795.0,91.5" fill="#b9dba6"/>
<polygon points="791.5,85.5 797.2,81.2 808.8,81.2 814.5,85.5 808.8,89.8 797.2,89.8" fill="#a2cc89"/>
<polygon points="811.0,79.5 819.0,85.5 811.8,92.1" fill="#68a64c"/>
<polygon points="830.0,85.5 838.0,91.5 838.0,169.5 830.0,163.5" fill="#7db462"/>
<polygon points="838.0,91.5 854.0,91.5 854.0,169.5 838.0,169.5" fill="#a8cf90"/>
<polygon points="854.0,91.5 862.0,85.5 862.0,163.5 854.0,169.5" fill="#b0d49a"/>
<path d="M830.0,93.5L838.0,93.5L838.0,105.5ZM830.0,109.5L838.0,109.5L838.0,121.5ZM830.0,125.5L838.0,125.5L838.0,137.5ZM830.0,141.5L838.0,141.5L838.0,153.5ZM830.0,157.5L838.0,157.5L838.0,169.5Z" fill="#9ac880" opacity="0.7"/>
<path d="M838.0,91.5V169.5M854.0,91.5V169.5" stroke="#c6e2b4" stroke-width="0.6" opacity="0.7"/>
<path d="M840.0,105.5h12.0M840.0,121.5h12.0M840.0,137.5h12.0M840.0,153.5h12.0" stroke="#cfe6c0" stroke-width="0.6" stroke-dasharray="3,2" opacity="0.8"/>
<polygon points="830.0,85.5 838.0,79.5 854.0,79.5 862.0,85.5 854.0,91.5 838.0,91.5" fill="#b9dba6"/>
<polygon points="834.5,85.5 840.2,81.2 851.8,81.2 857.5,85.5 851.8,89.8 840.2,89.8" fill="#a2cc89"/>
<polygon points="854.0,79.5 862.0,85.5 854.8,92.1" fill="#68a64c"/>
<polygon points="720.0,91.5 728.0,97.5 728.0,191.5 720.0,185.5" fill="#7db462"/>
<polygon points="728.0,97.5 744.0,97.5 744.0,191.5 728.0,191.5" fill="#a8cf90"/>
<polygon points="744.0,97.5 752.0,91.5 752.0,185.5 744.0,191.5" fill="#b0d49a"/>
<path d="M720.0,99.5L728.0,99.5L728.0,111.5ZM720.0,115.5L728.0,115.5L728.0,127.5ZM720.0,131.5L728.0,131.5L728.0,143.5ZM720.0,147.5L728.0,147.5L728.0,159.5ZM720.0,163.5L728.0,163.5L728.0,175.5ZM720.0,179.5L728.0,179.5L728.0,191.5Z" fill="#9ac880" opacity="0.7"/>
<path d="M728.0,97.5V191.5M744.0,97.5V191.5" stroke="#c6e2b4" stroke-width="0.6" opacity="0.7"/>
<path d="M730.0,111.5h12.0M730.0,127.5h12.0M730.0,143.5h12.0M730.0,159.5h12.0M730.0,175.5h12.0" stroke="#cfe6c0" stroke-width="0.6" stroke-dasharray="3,2" opacity="0.8"/>
<polygon points="720.0,91.5 728.0,85.5 744.0,85.5 752.0,91.5 744.0,97.5 728.0,97.5" fill="#b9dba6"/>
<polygon points="724.5,91.5 730.2,87.2 741.8,87.2 747.5,91.5 741.8,95.8 730.2,95.8" fill="#a2cc89"/>
<polygon points="744.0,85.5 752.0,91.5 744.8,98.1" fill="#68a64c"/>
<polygon points="763.0,91.5 771.0,97.5 771.0,186.0 763.0,180.0" fill="#7db462"/>
<polygon points="771.0,97.5 787.0,97.5 787.0,186.0 771.0,186.0" fill="#a8cf90"/>
<polygon points="787.0,97.5 795.0,91.5 795.0,180.0 787.0,186.0" fill="#b0d49a"/>
<path d="M763.0,99.5L771.0,99.5L771.0,111.5ZM763.0,115.5L771.0,115.5L771.0,127.5ZM763.0,131.5L771.0,131.5L771.0,143.5ZM763.0,147.5L771.0,147.5L771.0,159.5ZM763.0,163.5L771.0,163.5L771.0,175.5Z" fill="#9ac880" opacity="0.7"/>
<path d="M771.0,97.5V186.0M787.0,97.5V186.0" stroke="#c6e2b4" stroke-width="0.6" opacity="0.7"/>
<path d="M773.0,111.5h12.0M773.0,127.5h12.0M773.0,143.5h12.0M773.0,159.5h12.0M773.0,175.5h12.0" stroke="#cfe6c0" stroke-width="0.6" stroke-dasharray="3,2" opacity="0.8"/>
<polygon points="763.0,91.5 771.0,85.5 787.0,85.5 795.0,91.5 787.0,97.5 771.0,97.5" fill="#b9dba6"/>
<polygon points="767.5,91.5 773.2,87.2 784.8,87.2 790.5,91.5 784.8,95.8 773.2,95.8" fill="#a2cc89"/>
<polygon points="787.0,85.5 795.0,91.5 787.8,98.1" fill="#68a64c"/>
<polygon points="806.0,91.5 814.0,97.5 814.0,180.5 806.0,174.5" fill="#7db462"/>
<polygon points="814.0,97.5 830.0,97.5 830.0,180.5 814.0,180.5" fill="#a8cf90"/>
<polygon points="830.0,97.5 838.0,91.5 838.0,174.5 830.0,180.5" fill="#b0d49a"/>
<path d="M806.0,99.5L814.0,99.5L814.0,111.5ZM806.0,115.5L814.0,115.5L814.0,127.5ZM806.0,131.5L814.0,131.5L814.0,143.5ZM806.0,147.5L814.0,147.5L814.0,159.5ZM806.0,163.5L814.0,163.5L814.0,175.5Z" fill="#9ac880" opacity="0.7"/>
<path d="M814.0,97.5V180.5M830.0,97.5V180.5" stroke="#c6e2b4" stroke-width="0.6" opacity="0.7"/>
<path d="M816.0,111.5h12.0M816.0,127.5h12.0M816.0,143.5h12.0M816.0,159.5h12.0M816.0,175.5h12.0" stroke="#cfe6c0" stroke-width="0.6" stroke-dasharray="3,2" opacity="0.8"/>
<polygon points="806.0,91.5 814.0,85.5 830.0,85.5 838.0,91.5 830.0,97.5 814.0,97.5" fill="#b9dba6"/>
<polygon points="810.5,91.5 816.2,87.2 827.8,87.2 833.5,91.5 827.8,95.8 816.2,95.8" fill="#a2cc89"/>
<polygon points="830.0,85.5 838.0,91.5 830.8,98.1" fill="#68a64c"/>
<polygon points="849.0,91.5 857.0,97.5 857.0,175.0 849.0,169.0" fill="#7db462"/>
<polygon points="857.0,97.5 873.0,97.5 873.0,175.0 857.0,175.0" fill="#a8cf90"/>
<polygon points="873.0,97.5 881.0,91.5 881.0,169.0 873.0,175.0" fill="#b0d49a"/>
<path d="M849.0,99.5L857.0,99.5L857.0,111.5ZM849.0,115.5L857.0,115.5L857.0,127.5ZM849.0,131.5L857.0,131.5L857.0,143.5ZM849.0,147.5L857.0,147.5L857.0,159.5ZM849.0,163.5L857.0,163.5L857.0,175.5Z" fill="#9ac880" opacity="0.7"/>
<path d="M857.0,97.5V175.0M873.0,97.5V175.0" stroke="#c6e2b4" stroke-width="0.6" opacity="0.7"/>
<path d="M859.0,111.5h12.0M859.0,127.5h12.0M859.0,143.5h12.0M859.0,159.5h12.0" stroke="#cfe6c0" stroke-width="0.6" stroke-dasharray="3,2" opacity="0.8"/>
<polygon points="849.0,91.5 857.0,85.5 873.0,85.5 881.0,91.5 873.0,97.5 857.0,97.5" fill="#b9dba6"/>
<polygon points="853.5,91.5 859.2,87.2 870.8,87.2 876.5,91.5 870.8,95.8 859.2,95.8" fill="#a2cc89"/>
<polygon points="873.0,85.5 881.0,91.5 873.8,98.1" fill="#68a64c"/>
<polygon points="739.0,97.5 747.0,103.5 747.0,197.0 739.0,191.0" fill="#7db462"/>
<polygon points="747.0,103.5 763.0,103.5 763.0,197.0 747.0,197.0" fill="#a8cf90"/>
<polygon points="763.0,103.5 771.0,97.5 771.0,191.0 763.0,197.0" fill="#b0d49a"/>
<path d="M739.0,105.5L747.0,105.5L747.0,117.5ZM739.0,121.5L747.0,121.5L747.0,133.5ZM739.0,137.5L747.0,137.5L747.0,149.5ZM739.0,153.5L747.0,153.5L747.0,165.5ZM739.0,169.5L747.0,169.5L747.0,181.5ZM739.0,185.5L747.0,185.5L747.0,197.5Z" fill="#9ac880" opacity="0.7"/>
<path d="M747.0,103.5V197.0M763.0,103.5V197.0" stroke="#c6e2b4" stroke-width="0.6" opacity="0.7"/>
<path d="M749.0,117.5h12.0M749.0,133.5h12.0M749.0,149.5h12.0M749.0,165.5h12.0M749.0,181.5h12.0" stroke="#cfe6c0" stroke-width="0.6" stroke-dasharray="3,2" opacity="0.8"/>
<polygon points="739.0,97.5 747.0,91.5 763.0,91.5 771.0,97.5 763.0,103.5 747.0,103.5" fill="#b9dba6"/>
<polygon points="743.5,97.5 749.2,93.2 760.8,93.2 766.5,97.5 760.8,101.8 749.2,101.8" fill="#a2cc89"/>
<polygon points="763.0,91.5 771.0,97.5 763.8,104.1" fill="#68a64c"/>
<polygon points="782.0,97.5 790.0,103.5 790.0,191.5 782.0,185.5" fill="#7db462"/>
<polygon points="790.0,103.5 806.0,103.5 806.0,191.5 790.0,191.5" fill="#a8cf90"/>
<polygon points="806.0,103.5 814.0,97.5 814.0,185.5 806.0,191.5" fill="#b0d49a"/>
<path d="M782.0,105.5L790.0,105.5L790.0,117.5ZM782.0,121.5L790.0,121.5L790.0,133.5ZM782.0,137.5L790.0,137.5L790.0,149.5ZM782.0,153.5L790.0,153.5L790.0,165.5ZM782.0,169.5L790.0,169.5L790.0,181.5Z" fill="#9ac880" opacity="0.7"/>
<path d="M790.0,103.5V191.5M806.0,103.5V191.5" stroke="#c6e2b4" stroke-width="0.6" opacity="0.7"/>
<path d="M792.0,117.5h12.0M792.0,133.5h12.0M792.0,149.5h12.0M792.0,165.5h12.0M792.0,181.5h12.0" stroke="#cfe6c0" stroke-width="0.6" stroke-dasharray="3,2" opacity="0.8"/>
<polygon points="782.0,97.5 790.0,91.5 806.0,91.5 814.0,97.5 806.0,103.5 790.0,103.5" fill="#b9dba6"/>
<polygon points="786.5,97.5 792.2,93.2 803.8,93.2 809.5,97.5 803.8,101.8 792.2,101.8" fill="#a2cc89"/>
<polygon points="806.0,91.5 814.0,97.5 806.8,104.1" fill="#68a64c"/>
<polygon points="825.0,97.5 833.0,103.5 833.0,186.0 825.0,180.0" fill="#7db462"/>
<polygon points="833.0,103.5 849.0,103.5 849.0,186.0 833.0,186.0" fill="#a8cf90"/>
<polygon points="849.0,103.5 857.0,97.5 857.0,180.0 849.0,186.0" fill="#b0d49a"/>
<path d="M825.0,105.5L833.0,105.5L833.0,117.5ZM825.0,121.5L833.0,121.5L833.0,133.5ZM825.0,137.5L833.0,137.5L833.0,149.5ZM825.0,153.5L833.0,153.5L833.0,165.5ZM825.0,169.5L833.0,169.5L833.0,181.5Z" fill="#9ac880" opacity="0.7"/>
<path d="M833.0,103.5V186.0M849.0,103.5V186.0" stroke="#c6e2b4" stroke-width="0.6" opacity="0.7"/>
<path d="M835.0,117.5h12.0M835.0,133.5h12.0M835.0,149.5h12.0M835.0,165.5h12.0M835.0,181.5h12.0" stroke="#cfe6c0" stroke-width="0.6" stroke-dasharray="3,2" opacity="0.8"/>
<polygon points="825.0,97.5 833.0,91.5 849.0,91.5 857.0,97.5 849.0,103.5 833.0,103.5" fill="#b9dba6"/>
<polygon points="829.5,97.5 835.2,93.2 846.8,93.2 852.5,97.5 846.8,101.8 835.2,101.8" fill="#a2cc89"/>
<polygon points="849.0,91.5 857.0,97.5 849.8,104.1" fill="#68a64c"/>
<polygon points="758.0,103.5 766.0,109.5 766.0,202.5 758.0,196.5" fill="#7db462"/>
<polygon points="766.0,109.5 782.0,109.5 782.0,202.5 766.0,202.5" fill="#a8cf90"/>
<polygon points="782.0,109.5 790.0,103.5 790.0,196.5 782.0,202.5" fill="#b0d49a"/>
<path d="M758.0,111.5L766.0,111.5L766.0,123.5ZM758.0,127.5L766.0,127.5L766.0,139.5ZM758.0,143.5L766.0,143.5L766.0,155.5ZM758.0,159.5L766.0,159.5L766.0,171.5ZM758.0,175.5L766.0,175.5L766.0,187.5ZM758.0,191.5L766.0,191.5L766.0,203.5Z" fill="#9ac880" opacity="0.7"/>
<path d="M766.0,109.5V202.5M782.0,109.5V202.5" stroke="#c6e2b4" stroke-width="0.6" opacity="0.7"/>
<path d="M768.0,123.5h12.0M768.0,139.5h12.0M768.0,155.5h12.0M768.0,171.5h12.0M768.0,187.5h12.0" stroke="#cfe6c0" stroke-width="0.6" stroke-dasharray="3,2" opacity="0.8"/>
<polygon points="758.0,103.5 766.0,97.5 782.0,97.5 790.0,103.5 782.0,109.5 766.0,109.5" fill="#b9dba6"/>
<polygon points="762.5,103.5 768.2,99.2 779.8,99.2 785.5,103.5 779.8,107.8 768.2,107.8" fill="#a2cc89"/>
<polygon points="782.0,97.5 790.0,103.5 782.8,110.1" fill="#68a64c"/>
<polygon points="801.0,103.5 809.0,109.5 809.0,197.0 801.0,191.0" fill="#7db462"/>
<polygon points="809.0,109.5 825.0,109.5 825.0,197.0 809.0,197.0" fill="#a8cf90"/>
<polygon points="825.0,109.5 833.0,103.5 833.0,191.0 825.0,197.0" fill="#b0d49a"/>
<path d="M801.0,111.5L809.0,111.5L809.0,123.5ZM801.0,127.5L809.0,127.5L809.0,139.5ZM801.0,143.5L809.0,143.5L809.0,155.5ZM801.0,159.5L809.0,159.5L809.0,171.5ZM801.0,175.5L809.0,175.5L809.0,187.5Z" fill="#9ac880" opacity="0.7"/>
<path d="M809.0,109.5V197.0M825.0,109.5V197.0" stroke="#c6e2b4" stroke-width="0.6" opacity="0.7"/>
<path d="M811.0,123.5h12.0M811.0,139.5h12.0M811.0,155.5h12.0M811.0,171.5h12.0M811.0,187.5h12.0" stroke="#cfe6c0" stroke-width="0.6" stroke-dasharray="3,2" opacity="0.8"/>
<polygon points="801.0,103.5 809.0,97.5 825.0,97.5 833.0,103.5 825.0,109.5 809.0,109.5" fill="#b9dba6"/>
<polygon points="805.5,103.5 811.2,99.2 822.8,99.2 828.5,103.5 822.8,107.8 811.2,107.8" fill="#a2cc89"/>
<polygon points="825.0,97.5 833.0,103.5 825.8,110.1" fill="#68a64c"/>
<polygon points="777.0,109.5 785.0,115.5 785.0,208.0 777.0,202.0" fill="#7db462"/>
<polygon points="785.0,115.5 801.0,115.5 801.0,208.0 785.0,208.0" fill="#a8cf90"/>
<polygon points="801.0,115.5 809.0,109.5 809.0,202.0 801.0,208.0" fill="#b0d49a"/>
<path d="M777.0,117.5L785.0,117.5L785.0,129.5ZM777.0,133.5L785.0,133.5L785.0,145.5ZM777.0,149.5L785.0,149.5L785.0,161.5ZM777.0,165.5L785.0,165.5L785.0,177.5ZM777.0,181.5L785.0,181.5L785.0,193.5ZM777.0,197.5L785.0,197.5L785.0,209.5Z" fill="#9ac880" opacity="0.7"/>
<path d="M785.0,115.5V208.0M801.0,115.5V208.0" stroke="#c6e2b4" stroke-width="0.6" opacity="0.7"/>
<path d="M787.0,129.5h12.0M787.0,145.5h12.0M787.0,161.5h12.0M787.0,177.5h12.0M787.0,193.5h12.0" stroke="#cfe6c0" stroke-width="0.6" stroke-dasharray="3,2" opacity="0.8"/>
<polygon points="777.0,109.5 785.0,103.5 801.0,103.5 809.0,109.5 801.0,115.5 785.0,115.5" fill="#b9dba6"/>
<polygon points="781.5,109.5 787.2,105.2 798.8,105.2 804.5,109.5 798.8,113.8 787.2,113.8" fill="#a2cc89"/>
<polygon points="801.0,103.5 809.0,109.5 801.8,116.1" fill="#68a64c"/>
<polygon points="753.0,115.5 761.0,121.5 761.0,219.0 753.0,213.0" fill="#7db462"/>
<polygon points="761.0,121.5 777.0,121.5 777.0,219.0 761.0,219.0" fill="#a8cf90"/>
<polygon points="777.0,121.5 785.0,115.5 785.0,213.0 777.0,219.0" fill="#b0d49a"/>
<path d="M753.0,123.5L761.0,123.5L761.0,135.5ZM753.0,139.5L761.0,139.5L761.0,151.5ZM753.0,155.5L761.0,155.5L761.0,167.5ZM753.0,171.5L761.0,171.5L761.0,183.5ZM753.0,187.5L761.0,187.5L761.0,199.5ZM753.0,203.5L761.0,203.5L761.0,215.5Z" fill="#9ac880" opacity="0.7"/>
<path d="M761.0,121.5V219.0M777.0,121.5V219.0" stroke="#c6e2b4" stroke-width="0.6" opacity="0.7"/>
<path d="M763.0,135.5h12.0M763.0,151.5h12.0M763.0,167.5h12.0M763.0,183.5h12.0M763.0,199.5h12.0M763.0,215.5h12.0" stroke="#cfe6c0" stroke-width="0.6" stroke-dasharray="3,2" opacity="0.8"/>
<polygon points="753.0,115.5 761.0,109.5 777.0,109.5 785.0,115.5 777.0,121.5 761.0,121.5" fill="#b9dba6"/>
<polygon points="757.5,115.5 763.2,111.2 774.8,111.2 780.5,115.5 774.8,119.8 763.2,119.8" fill="#a2cc89"/>
<polygon points="777.0,109.5 785.0,115.5 777.8,122.1" fill="#68a64c"/>
<polygon points="1083.6,86.3 1091.0,80.7 1105.9,80.7 1113.3,86.3 1113.3,158.9 1105.9,164.5 1091.0,164.5 1083.6,158.9" fill="#a4a4a4" opacity="0.45"/>
<path d="M1083.6,86.3L1091.0,80.7L1105.9,80.7L1113.3,86.3L1105.9,91.8L1091.0,91.8ZM1083.6,86.3V158.9M1091.0,91.8V164.5M1105.9,91.8V164.5M1113.3,86.3V158.9M1083.6,86.3L1091.0,106.4M1091.0,91.8L1083.6,100.8M1083.6,100.8L1091.0,120.9M1091.0,106.4L1083.6,115.3M1083.6,115.3L1091.0,135.4M1091.0,120.9L1083.6,129.9M1083.6,129.9L1091.0,150.0M1091.0,135.4L1083.6,144.4M1083.6,144.4L1091.0,164.5M1091.0,150.0L1083.6,158.9M1091.0,91.8L1105.9,106.4M1105.9,91.8L1091.0,106.4M1091.0,106.4L1105.9,120.9M1105.9,106.4L1091.0,120.9M1091.0,120.9L1105.9,135.4M1105.9,120.9L1091.0,135.4M1091.0,135.4L1105.9,150.0M1105.9,135.4L1091.0,150.0M1091.0,150.0L1105.9,164.5M1105.9,150.0L1091.0,164.5M1105.9,91.8L1113.3,100.8M1113.3,86.3L1105.9,106.4M1105.9,106.4L1113.3,115.3M1113.3,100.8L1105.9,120.9M1105.9,120.9L1113.3,129.9M1113.3,115.3L1105.9,135.4M1105.9,135.4L1113.3,144.4M1113.3,129.9L1105.9,150.0M1105.9,150.0L1113.3,158.9M1113.3,144.4L1105.9,164.5" stroke="#111" stroke-width="0.85" fill="none" opacity="0.9"/>
<polygon points="1101.2,91.8 1108.7,86.3 1123.6,86.3 1131.0,91.8 1131.0,164.1 1123.6,169.6 1108.7,169.6 1101.2,164.1" fill="#a4a4a4" opacity="0.45"/>
<path d="M1101.2,91.8L1108.7,86.3L1123.6,86.3L1131.0,91.8L1123.6,97.4L1108.7,97.4ZM1101.2,91.8V164.1M1108.7,97.4V169.6M1123.6,97.4V169.6M1131.0,91.8V164.1M1101.2,91.8L1108.7,111.9M1108.7,97.4L1101.2,106.3M1101.2,106.3L1108.7,126.3M1108.7,111.9L1101.2,120.7M1101.2,120.7L1108.7,140.8M1108.7,126.3L1101.2,135.2M1101.2,135.2L1108.7,155.2M1108.7,140.8L1101.2,149.6M1101.2,149.6L1108.7,169.6M1108.7,155.2L1101.2,164.1M1108.7,97.4L1123.6,111.9M1123.6,97.4L1108.7,111.9M1108.7,111.9L1123.6,126.3M1123.6,111.9L1108.7,126.3M1108.7,126.3L1123.6,140.8M1123.6,126.3L1108.7,140.8M1108.7,140.8L1123.6,155.2M1123.6,140.8L1108.7,155.2M1108.7,155.2L1123.6,169.6M1123.6,155.2L1108.7,169.6M1123.6,97.4L1131.0,106.3M1131.0,91.8L1123.6,111.9M1123.6,111.9L1131.0,120.7M1131.0,106.3L1123.6,126.3M1123.6,126.3L1131.0,135.2M1131.0,120.7L1123.6,140.8M1123.6,140.8L1131.0,149.6M1131.0,135.2L1123.6,155.2M1123.6,155.2L1131.0,164.1M1131.0,149.6L1123.6,169.6" stroke="#111" stroke-width="0.85" fill="none" opacity="0.9"/>
<polygon points="1061.3,91.8 1068.7,86.3 1083.6,86.3 1091.0,91.8 1091.0,169.1 1083.6,174.7 1068.7,174.7 1061.3,169.1" fill="#a4a4a4" opacity="0.45"/>
<path d="M1061.3,91.8L1068.7,86.3L1083.6,86.3L1091.0,91.8L1083.6,97.4L1068.7,97.4ZM1061.3,91.8V169.1M1068.7,97.4V174.7M1083.6,97.4V174.7M1091.0,91.8V169.1M1061.3,91.8L1068.7,112.9M1068.7,97.4L1061.3,107.3M1061.3,107.3L1068.7,128.3M1068.7,112.9L1061.3,122.8M1061.3,122.8L1068.7,143.8M1068.7,128.3L1061.3,138.2M1061.3,138.2L1068.7,159.2M1068.7,143.8L1061.3,153.7M1061.3,153.7L1068.7,174.7M1068.7,159.2L1061.3,169.1M1068.7,97.4L1083.6,112.9M1083.6,97.4L1068.7,112.9M1068.7,112.9L1083.6,128.3M1083.6,112.9L1068.7,128.3M1068.7,128.3L1083.6,143.8M1083.6,128.3L1068.7,143.8M1068.7,143.8L1083.6,159.2M1083.6,143.8L1068.7,159.2M1068.7,159.2L1083.6,174.7M1083.6,159.2L1068.7,174.7M1083.6,97.4L1091.0,107.3M1091.0,91.8L1083.6,112.9M1083.6,112.9L1091.0,122.8M1091.0,107.3L1083.6,128.3M1083.6,128.3L1091.0,138.2M1091.0,122.8L1083.6,143.8M1083.6,143.8L1091.0,153.7M1091.0,138.2L1083.6,159.2M1083.6,159.2L1091.0,169.1M1091.0,153.7L1083.6,174.7" stroke="#111" stroke-width="0.6" fill="none" opacity="0.6"/>
<polygon points="1118.9,97.4 1126.4,91.8 1141.2,91.8 1148.7,97.4 1148.7,169.2 1141.2,174.8 1126.4,174.8 1118.9,169.2" fill="#a4a4a4" opacity="0.45"/>
<path d="M1118.9,97.4L1126.4,91.8L1141.2,91.8L1148.7,97.4L1141.2,103.0L1126.4,103.0ZM1118.9,97.4V169.2M1126.4,103.0V174.8M1141.2,103.0V174.8M1148.7,97.4V169.2M1118.9,97.4L1126.4,117.4M1126.4,103.0L1118.9,111.8M1118.9,111.8L1126.4,131.7M1126.4,117.4L1118.9,126.1M1118.9,126.1L1126.4,146.1M1126.4,131.7L1118.9,140.5M1118.9,140.5L1126.4,160.4M1126.4,146.1L1118.9,154.8M1118.9,154.8L1126.4,174.8M1126.4,160.4L1118.9,169.2M1126.4,103.0L1141.2,117.4M1141.2,103.0L1126.4,117.4M1126.4,117.4L1141.2,131.7M1141.2,117.4L1126.4,131.7M1126.4,131.7L1141.2,146.1M1141.2,131.7L1126.4,146.1M1126.4,146.1L1141.2,160.4M1141.2,146.1L1126.4,160.4M1126.4,160.4L1141.2,174.8M1141.2,160.4L1126.4,174.8M1141.2,103.0L1148.7,111.8M1148.7,97.4L1141.2,117.4M1141.2,117.4L1148.7,126.1M1148.7,111.8L1141.2,131.7M1141.2,131.7L1148.7,140.5M1148.7,126.1L1141.2,146.1M1141.2,146.1L1148.7,154.8M1148.7,140.5L1141.2,160.4M1141.2,160.4L1148.7,169.2M1148.7,154.8L1141.2,174.8" stroke="#111" stroke-width="0.85" fill="none" opacity="0.9"/>
<polygon points="1038.9,97.4 1046.4,91.8 1061.3,91.8 1068.7,97.4 1068.7,179.3 1061.3,184.9 1046.4,184.9 1038.9,179.3" fill="#a4a4a4" opacity="0.45"/>
<path d="M1038.9,97.4L1046.4,91.8L1061.3,91.8L1068.7,97.4L1061.3,103.0L1046.4,103.0ZM1038.9,97.4V179.3M1046.4,103.0V184.9M1061.3,103.0V184.9M1068.7,97.4V179.3M1038.9,97.4L1046.4,119.4M1046.4,103.0L1038.9,113.8M1038.9,113.8L1046.4,135.8M1046.4,119.4L1038.9,130.2M1038.9,130.2L1046.4,152.1M1046.4,135.8L1038.9,146.5M1038.9,146.5L1046.4,168.5M1046.4,152.1L1038.9,162.9M1038.9,162.9L1046.4,184.9M1046.4,168.5L1038.9,179.3M1046.4,103.0L1061.3,119.4M1061.3,103.0L1046.4,119.4M1046.4,119.4L1061.3,135.8M1061.3,119.4L1046.4,135.8M1046.4,135.8L1061.3,152.1M1061.3,135.8L1046.4,152.1M1046.4,152.1L1061.3,168.5M1061.3,152.1L1046.4,168.5M1046.4,168.5L1061.3,184.9M1061.3,168.5L1046.4,184.9M1061.3,103.0L1068.7,113.8M1068.7,97.4L1061.3,119.4M1061.3,119.4L1068.7,130.2M1068.7,113.8L1061.3,135.8M1061.3,135.8L1068.7,146.5M1068.7,130.2L1061.3,152.1M1061.3,152.1L1068.7,162.9M1068.7,146.5L1061.3,168.5M1061.3,168.5L1068.7,179.3M1068.7,162.9L1061.3,184.9" stroke="#111" stroke-width="0.6" fill="none" opacity="0.6"/>
<polygon points="1078.9,97.4 1086.4,91.8 1101.3,91.8 1108.7,97.4 1108.7,174.2 1101.3,179.8 1086.4,179.8 1078.9,174.2" fill="#a4a4a4" opacity="0.45"/>
<path d="M1078.9,97.4L1086.4,91.8L1101.3,91.8L1108.7,97.4L1101.3,103.0L1086.4,103.0ZM1078.9,97.4V174.2M1086.4,103.0V179.8M1101.3,103.0V179.8M1108.7,97.4V174.2M1078.9,97.4L1086.4,118.4M1086.4,103.0L1078.9,112.8M1078.9,112.8L1086.4,133.7M1086.4,118.4L1078.9,128.1M1078.9,128.1L1086.4,149.1M1086.4,133.7L1078.9,143.5M1078.9,143.5L1086.4,164.5M1086.4,149.1L1078.9,158.9M1078.9,158.9L1086.4,179.8M1086.4,164.5L1078.9,174.2M1086.4,103.0L1101.3,118.4M1101.3,103.0L1086.4,118.4M1086.4,118.4L1101.3,133.7M1101.3,118.4L1086.4,133.7M1086.4,133.7L1101.3,149.1M1101.3,133.7L1086.4,149.1M1086.4,149.1L1101.3,164.5M1101.3,149.1L1086.4,164.5M1086.4,164.5L1101.3,179.8M1101.3,164.5L1086.4,179.8M1101.3,103.0L1108.7,112.8M1108.7,97.4L1101.3,118.4M1101.3,118.4L1108.7,128.1M1108.7,112.8L1101.3,133.7M1101.3,133.7L1108.7,143.5M1108.7,128.1L1101.3,149.1M1101.3,149.1L1108.7,158.9M1108.7,143.5L1101.3,164.5M1101.3,164.5L1108.7,174.2M1108.7,158.9L1101.3,179.8" stroke="#111" stroke-width="0.6" fill="none" opacity="0.6"/>
<polygon points="1016.6,103.0 1024.1,97.4 1038.9,97.4 1046.4,103.0 1046.4,189.5 1038.9,195.1 1024.1,195.1 1016.6,189.5" fill="#a4a4a4" opacity="0.45"/>
<path d="M1016.6,103.0L1024.1,97.4L1038.9,97.4L1046.4,103.0L1038.9,108.6L1024.1,108.6ZM1016.6,103.0V189.5M1024.1,108.6V195.1M1038.9,108.6V195.1M1046.4,103.0V189.5M1016.6,103.0L1024.1,125.9M1024.1,108.6L1016.6,120.3M1016.6,120.3L1024.1,143.2M1024.1,125.9L1016.6,137.6M1016.6,137.6L1024.1,160.5M1024.1,143.2L1016.6,154.9M1016.6,154.9L1024.1,177.8M1024.1,160.5L1016.6,172.2M1016.6,172.2L1024.1,195.1M1024.1,177.8L1016.6,189.5M1024.1,108.6L1038.9,125.9M1038.9,108.6L1024.1,125.9M1024.1,125.9L1038.9,143.2M1038.9,125.9L1024.1,143.2M1024.1,143.2L1038.9,160.5M1038.9,143.2L1024.1,160.5M1024.1,160.5L1038.9,177.8M1038.9,160.5L1024.1,177.8M1024.1,177.8L1038.9,195.1M1038.9,177.8L1024.1,195.1M1038.9,108.6L1046.4,120.3M1046.4,103.0L1038.9,125.9M1038.9,125.9L1046.4,137.6M1046.4,120.3L1038.9,143.2M1038.9,143.2L1046.4,154.9M1046.4,137.6L1038.9,160.5M1038.9,160.5L1046.4,172.2M1046.4,154.9L1038.9,177.8M1038.9,177.8L1046.4,189.5M1046.4,172.2L1038.9,195.1" stroke="#111" stroke-width="0.85" fill="none" opacity="0.9"/>
<polygon points="1056.6,103.0 1064.0,97.4 1078.9,97.4 1086.4,103.0 1086.4,184.4 1078.9,190.0 1064.0,190.0 1056.6,184.4" fill="#a4a4a4" opacity="0.45"/>
<path d="M1056.6,103.0L1064.0,97.4L1078.9,97.4L1086.4,103.0L1078.9,108.6L1064.0,108.6ZM1056.6,103.0V184.4M1064.0,108.6V190.0M1078.9,108.6V190.0M1086.4,103.0V184.4M1056.6,103.0L1064.0,124.9M1064.0,108.6L1056.6,119.3M1056.6,119.3L1064.0,141.1M1064.0,124.9L1056.6,135.6M1056.6,135.6L1064.0,157.4M1064.0,141.1L1056.6,151.9M1056.6,151.9L1064.0,173.7M1064.0,157.4L1056.6,168.1M1056.6,168.1L1064.0,190.0M1064.0,173.7L1056.6,184.4M1064.0,108.6L1078.9,124.9M1078.9,108.6L1064.0,124.9M1064.0,124.9L1078.9,141.1M1078.9,124.9L1064.0,141.1M1064.0,141.1L1078.9,157.4M1078.9,141.1L1064.0,157.4M1064.0,157.4L1078.9,173.7M1078.9,157.4L1064.0,173.7M1064.0,173.7L1078.9,190.0M1078.9,173.7L1064.0,190.0M1078.9,108.6L1086.4,119.3M1086.4,103.0L1078.9,124.9M1078.9,124.9L1086.4,135.6M1086.4,119.3L1078.9,141.1M1078.9,141.1L1086.4,151.9M1086.4,135.6L1078.9,157.4M1078.9,157.4L1086.4,168.1M1086.4,151.9L1078.9,173.7M1078.9,173.7L1086.4,184.4M1086.4,168.1L1078.9,190.0" stroke="#111" stroke-width="0.6" fill="none" opacity="0.6"/>
<polygon points="1096.6,103.0 1104.0,97.4 1118.9,97.4 1126.4,103.0 1126.4,179.4 1118.9,184.9 1104.0,184.9 1096.6,179.4" fill="#a4a4a4" opacity="0.45"/>
<path d="M1096.6,103.0L1104.0,97.4L1118.9,97.4L1126.4,103.0L1118.9,108.6L1104.0,108.6ZM1096.6,103.0V179.4M1104.0,108.6V184.9M1118.9,108.6V184.9M1126.4,103.0V179.4M1096.6,103.0L1104.0,123.9M1104.0,108.6L1096.6,118.3M1096.6,118.3L1104.0,139.1M1104.0,123.9L1096.6,133.5M1096.6,133.5L1104.0,154.4M1104.0,139.1L1096.6,148.8M1096.6,148.8L1104.0,169.7M1104.0,154.4L1096.6,164.1M1096.6,164.1L1104.0,184.9M1104.0,169.7L1096.6,179.4M1104.0,108.6L1118.9,123.9M1118.9,108.6L1104.0,123.9M1104.0,123.9L1118.9,139.1M1118.9,123.9L1104.0,139.1M1104.0,139.1L1118.9,154.4M1118.9,139.1L1104.0,154.4M1104.0,154.4L1118.9,169.7M1118.9,154.4L1104.0,169.7M1104.0,169.7L1118.9,184.9M1118.9,169.7L1104.0,184.9M1118.9,108.6L1126.4,118.3M1126.4,103.0L1118.9,123.9M1118.9,123.9L1126.4,133.5M1126.4,118.3L1118.9,139.1M1118.9,139.1L1126.4,148.8M1126.4,133.5L1118.9,154.4M1118.9,154.4L1126.4,164.1M1126.4,148.8L1118.9,169.7M1118.9,169.7L1126.4,179.4M1126.4,164.1L1118.9,184.9" stroke="#111" stroke-width="0.85" fill="none" opacity="0.9"/>
<polygon points="1136.6,103.0 1144.0,97.4 1158.9,97.4 1166.4,103.0 1166.4,174.3 1158.9,179.9 1144.0,179.9 1136.6,174.3" fill="#a4a4a4" opacity="0.45"/>
<path d="M1136.6,103.0L1144.0,97.4L1158.9,97.4L1166.4,103.0L1158.9,108.6L1144.0,108.6ZM1136.6,103.0V174.3M1144.0,108.6V179.9M1158.9,108.6V179.9M1166.4,103.0V174.3M1136.6,103.0L1144.0,122.8M1144.0,108.6L1136.6,117.3M1136.6,117.3L1144.0,137.1M1144.0,122.8L1136.6,131.5M1136.6,131.5L1144.0,151.4M1144.0,137.1L1136.6,145.8M1136.6,145.8L1144.0,165.6M1144.0,151.4L1136.6,160.0M1136.6,160.0L1144.0,179.9M1144.0,165.6L1136.6,174.3M1144.0,108.6L1158.9,122.8M1158.9,108.6L1144.0,122.8M1144.0,122.8L1158.9,137.1M1158.9,122.8L1144.0,137.1M1144.0,137.1L1158.9,151.4M1158.9,137.1L1144.0,151.4M1144.0,151.4L1158.9,165.6M1158.9,151.4L1144.0,165.6M1144.0,165.6L1158.9,179.9M1158.9,165.6L1144.0,179.9M1158.9,108.6L1166.4,117.3M1166.4,103.0L1158.9,122.8M1158.9,122.8L1166.4,131.5M1166.4,117.3L1158.9,137.1M1158.9,137.1L1166.4,145.8M1166.4,131.5L1158.9,151.4M1158.9,151.4L1166.4,160.0M1166.4,145.8L1158.9,165.6M1158.9,165.6L1166.4,174.3M1166.4,160.0L1158.9,179.9" stroke="#111" stroke-width="0.85" fill="none" opacity="0.9"/>
<polygon points="1034.3,108.6 1041.7,103.0 1056.6,103.0 1064.1,108.6 1064.1,194.6 1056.6,200.2 1041.7,200.2 1034.3,194.6" fill="#a4a4a4" opacity="0.45"/>
<path d="M1034.3,108.6L1041.7,103.0L1056.6,103.0L1064.1,108.6L1056.6,114.2L1041.7,114.2ZM1034.3,108.6V194.6M1041.7,114.2V200.2M1056.6,114.2V200.2M1064.1,108.6V194.6M1034.3,108.6L1041.7,131.4M1041.7,114.2L1034.3,125.8M1034.3,125.8L1041.7,148.6M1041.7,131.4L1034.3,143.0M1034.3,143.0L1041.7,165.8M1041.7,148.6L1034.3,160.2M1034.3,160.2L1041.7,183.0M1041.7,165.8L1034.3,177.4M1034.3,177.4L1041.7,200.2M1041.7,183.0L1034.3,194.6M1041.7,114.2L1056.6,131.4M1056.6,114.2L1041.7,131.4M1041.7,131.4L1056.6,148.6M1056.6,131.4L1041.7,148.6M1041.7,148.6L1056.6,165.8M1056.6,148.6L1041.7,165.8M1041.7,165.8L1056.6,183.0M1056.6,165.8L1041.7,183.0M1041.7,183.0L1056.6,200.2M1056.6,183.0L1041.7,200.2M1056.6,114.2L1064.1,125.8M1064.1,108.6L1056.6,131.4M1056.6,131.4L1064.1,143.0M1064.1,125.8L1056.6,148.6M1056.6,148.6L1064.1,160.2M1064.1,143.0L1056.6,165.8M1056.6,165.8L1064.1,177.4M1064.1,160.2L1056.6,183.0M1056.6,183.0L1064.1,194.6M1064.1,177.4L1056.6,200.2" stroke="#111" stroke-width="0.85" fill="none" opacity="0.9"/>
<polygon points="1074.3,108.6 1081.7,103.0 1096.6,103.0 1104.0,108.6 1104.0,189.5 1096.6,195.1 1081.7,195.1 1074.3,189.5" fill="#a4a4a4" opacity="0.45"/>
<path d="M1074.3,108.6L1081.7,103.0L1096.6,103.0L1104.0,108.6L1096.6,114.2L1081.7,114.2ZM1074.3,108.6V189.5M1081.7,114.2V195.1M1096.6,114.2V195.1M1104.0,108.6V189.5M1074.3,108.6L1081.7,130.4M1081.7,114.2L1074.3,124.8M1074.3,124.8L1081.7,146.5M1081.7,130.4L1074.3,141.0M1074.3,141.0L1081.7,162.7M1081.7,146.5L1074.3,157.2M1074.3,157.2L1081.7,178.9M1081.7,162.7L1074.3,173.3M1074.3,173.3L1081.7,195.1M1081.7,178.9L1074.3,189.5M1081.7,114.2L1096.6,130.4M1096.6,114.2L1081.7,130.4M1081.7,130.4L1096.6,146.5M1096.6,130.4L1081.7,146.5M1081.7,146.5L1096.6,162.7M1096.6,146.5L1081.7,162.7M1081.7,162.7L1096.6,178.9M1096.6,162.7L1081.7,178.9M1081.7,178.9L1096.6,195.1M1096.6,178.9L1081.7,195.1M1096.6,114.2L1104.0,124.8M1104.0,108.6L1096.6,130.4M1096.6,130.4L1104.0,141.0M1104.0,124.8L1096.6,146.5M1096.6,146.5L1104.0,157.2M1104.0,141.0L1096.6,162.7M1096.6,162.7L1104.0,173.3M1104.0,157.2L1096.6,178.9M1096.6,178.9L1104.0,189.5M1104.0,173.3L1096.6,195.1" stroke="#111" stroke-width="0.85" fill="none" opacity="0.9"/>
<polygon points="1114.3,108.6 1121.7,103.0 1136.6,103.0 1144.0,108.6 1144.0,184.5 1136.6,190.1 1121.7,190.1 1114.3,184.5" fill="#a4a4a4" opacity="0.45"/>
<path d="M1114.3,108.6L1121.7,103.0L1136.6,103.0L1144.0,108.6L1136.6,114.2L1121.7,114.2ZM1114.3,108.6V184.5M1121.7,114.2V190.1M1136.6,114.2V190.1M1144.0,108.6V184.5M1114.3,108.6L1121.7,129.3M1121.7,114.2L1114.3,123.8M1114.3,123.8L1121.7,144.5M1121.7,129.3L1114.3,138.9M1114.3,138.9L1121.7,159.7M1121.7,144.5L1114.3,154.1M1114.3,154.1L1121.7,174.9M1121.7,159.7L1114.3,169.3M1114.3,169.3L1121.7,190.1M1121.7,174.9L1114.3,184.5M1121.7,114.2L1136.6,129.3M1136.6,114.2L1121.7,129.3M1121.7,129.3L1136.6,144.5M1136.6,129.3L1121.7,144.5M1121.7,144.5L1136.6,159.7M1136.6,144.5L1121.7,159.7M1121.7,159.7L1136.6,174.9M1136.6,159.7L1121.7,174.9M1121.7,174.9L1136.6,190.1M1136.6,174.9L1121.7,190.1M1136.6,114.2L1144.0,123.8M1144.0,108.6L1136.6,129.3M1136.6,129.3L1144.0,138.9M1144.0,123.8L1136.6,144.5M1136.6,144.5L1144.0,154.1M1144.0,138.9L1136.6,159.7M1136.6,159.7L1144.0,169.3M1144.0,154.1L1136.6,174.9M1136.6,174.9L1144.0,184.5M1144.0,169.3L1136.6,190.1" stroke="#111" stroke-width="0.85" fill="none" opacity="0.9"/>
<polygon points="1052.0,114.2 1059.4,108.6 1074.3,108.6 1081.7,114.2 1081.7,199.7 1074.3,205.3 1059.4,205.3 1052.0,199.7" fill="#a4a4a4" opacity="0.45"/>
<path d="M1052.0,114.2L1059.4,108.6L1074.3,108.6L1081.7,114.2L1074.3,119.7L1059.4,119.7ZM1052.0,114.2V199.7M1059.4,119.7V205.3M1074.3,119.7V205.3M1081.7,114.2V199.7M1052.0,114.2L1059.4,136.9M1059.4,119.7L1052.0,131.3M1052.0,131.3L1059.4,154.0M1059.4,136.9L1052.0,148.4M1052.0,148.4L1059.4,171.1M1059.4,154.0L1052.0,165.5M1052.0,165.5L1059.4,188.2M1059.4,171.1L1052.0,182.6M1052.0,182.6L1059.4,205.3M1059.4,188.2L1052.0,199.7M1059.4,119.7L1074.3,136.9M1074.3,119.7L1059.4,136.9M1059.4,136.9L1074.3,154.0M1074.3,136.9L1059.4,154.0M1059.4,154.0L1074.3,171.1M1074.3,154.0L1059.4,171.1M1059.4,171.1L1074.3,188.2M1074.3,171.1L1059.4,188.2M1059.4,188.2L1074.3,205.3M1074.3,188.2L1059.4,205.3M1074.3,119.7L1081.7,131.3M1081.7,114.2L1074.3,136.9M1074.3,136.9L1081.7,148.4M1081.7,131.3L1074.3,154.0M1074.3,154.0L1081.7,165.5M1081.7,148.4L1074.3,171.1M1074.3,171.1L1081.7,182.6M1081.7,165.5L1074.3,188.2M1074.3,188.2L1081.7,199.7M1081.7,182.6L1074.3,205.3" stroke="#111" stroke-width="0.85" fill="none" opacity="0.9"/>
<polygon points="1091.9,114.2 1099.4,108.6 1114.3,108.6 1121.7,114.2 1121.7,194.7 1114.3,200.2 1099.4,200.2 1091.9,194.7" fill="#a4a4a4" opacity="0.45"/>
<path d="M1091.9,114.2L1099.4,108.6L1114.3,108.6L1121.7,114.2L1114.3,119.7L1099.4,119.7ZM1091.9,114.2V194.7M1099.4,119.7V200.2M1114.3,119.7V200.2M1121.7,114.2V194.7M1091.9,114.2L1099.4,135.8M1099.4,119.7L1091.9,130.3M1091.9,130.3L1099.4,151.9M1099.4,135.8L1091.9,146.4M1091.9,146.4L1099.4,168.0M1099.4,151.9L1091.9,162.5M1091.9,162.5L1099.4,184.1M1099.4,168.0L1091.9,178.6M1091.9,178.6L1099.4,200.2M1099.4,184.1L1091.9,194.7M1099.4,119.7L1114.3,135.8M1114.3,119.7L1099.4,135.8M1099.4,135.8L1114.3,151.9M1114.3,135.8L1099.4,151.9M1099.4,151.9L1114.3,168.0M1114.3,151.9L1099.4,168.0M1099.4,168.0L1114.3,184.1M1114.3,168.0L1099.4,184.1M1099.4,184.1L1114.3,200.2M1114.3,184.1L1099.4,200.2M1114.3,119.7L1121.7,130.3M1121.7,114.2L1114.3,135.8M1114.3,135.8L1121.7,146.4M1121.7,130.3L1114.3,151.9M1114.3,151.9L1121.7,162.5M1121.7,146.4L1114.3,168.0M1114.3,168.0L1121.7,178.6M1121.7,162.5L1114.3,184.1M1114.3,184.1L1121.7,194.7M1121.7,178.6L1114.3,200.2" stroke="#111" stroke-width="0.85" fill="none" opacity="0.9"/>
<polygon points="1069.6,119.7 1077.1,114.2 1092.0,114.2 1099.4,119.7 1099.4,204.8 1092.0,210.4 1077.1,210.4 1069.6,204.8" fill="#a4a4a4" opacity="0.45"/>
<path d="M1069.6,119.7L1077.1,114.2L1092.0,114.2L1099.4,119.7L1092.0,125.3L1077.1,125.3ZM1069.6,119.7V204.8M1077.1,125.3V210.4M1092.0,125.3V210.4M1099.4,119.7V204.8M1069.6,119.7L1077.1,142.3M1077.1,125.3L1069.6,136.8M1069.6,136.8L1077.1,159.4M1077.1,142.3L1069.6,153.8M1069.6,153.8L1077.1,176.4M1077.1,159.4L1069.6,170.8M1069.6,170.8L1077.1,193.4M1077.1,176.4L1069.6,187.8M1069.6,187.8L1077.1,210.4M1077.1,193.4L1069.6,204.8M1077.1,125.3L1092.0,142.3M1092.0,125.3L1077.1,142.3M1077.1,142.3L1092.0,159.4M1092.0,142.3L1077.1,159.4M1077.1,159.4L1092.0,176.4M1092.0,159.4L1077.1,176.4M1077.1,176.4L1092.0,193.4M1092.0,176.4L1077.1,193.4M1077.1,193.4L1092.0,210.4M1092.0,193.4L1077.1,210.4M1092.0,125.3L1099.4,136.8M1099.4,119.7L1092.0,142.3M1092.0,142.3L1099.4,153.8M1099.4,136.8L1092.0,159.4M1092.0,159.4L1099.4,170.8M1099.4,153.8L1092.0,176.4M1092.0,176.4L1099.4,187.8M1099.4,170.8L1092.0,193.4M1092.0,193.4L1099.4,204.8M1099.4,187.8L1092.0,210.4" stroke="#111" stroke-width="0.85" fill="none" opacity="0.9"/>
<polygon points="1047.3,125.3 1054.8,119.7 1069.6,119.7 1077.1,125.3 1077.1,215.0 1069.6,220.6 1054.8,220.6 1047.3,215.0" fill="#a4a4a4" opacity="0.45"/>
<path d="M1047.3,125.3L1054.8,119.7L1069.6,119.7L1077.1,125.3L1069.6,130.9L1054.8,130.9ZM1047.3,125.3V215.0M1054.8,130.9V220.6M1069.6,130.9V220.6M1077.1,125.3V215.0M1047.3,125.3L1054.8,148.8M1054.8,130.9L1047.3,143.3M1047.3,143.3L1054.8,166.8M1054.8,148.8L1047.3,161.2M1047.3,161.2L1054.8,184.7M1054.8,166.8L1047.3,179.1M1047.3,179.1L1054.8,202.7M1054.8,184.7L1047.3,197.1M1047.3,197.1L1054.8,220.6M1054.8,202.7L1047.3,215.0M1054.8,130.9L1069.6,148.8M1069.6,130.9L1054.8,148.8M1054.8,148.8L1069.6,166.8M1069.6,148.8L1054.8,166.8M1054.8,166.8L1069.6,184.7M1069.6,166.8L1054.8,184.7M1054.8,184.7L1069.6,202.7M1069.6,184.7L1054.8,202.7M1054.8,202.7L1069.6,220.6M1069.6,202.7L1054.8,220.6M1069.6,130.9L1077.1,143.3M1077.1,125.3L1069.6,148.8M1069.6,148.8L1077.1,161.2M1077.1,143.3L1069.6,166.8M1069.6,166.8L1077.1,179.1M1077.1,161.2L1069.6,184.7M1069.6,184.7L1077.1,197.1M1077.1,179.1L1069.6,202.7M1069.6,202.7L1077.1,215.0M1077.1,197.1L1069.6,220.6" stroke="#111" stroke-width="0.85" fill="none" opacity="0.9"/>
<defs><clipPath id="c1"><circle cx="260.5" cy="265.5" r="60"/></clipPath></defs>
<circle cx="260.5" cy="265.5" r="60" fill="#bde0e3"/>
<g clip-path="url(#c1)">
<path d="M270,200 Q266,260 272,270 Q262,300 263,330" stroke="#d3ecee" stroke-width="7" fill="none"/>
<path d="M205,226 Q240,240 262.7,259" stroke="#8fc3c8" stroke-width="7.5" fill="none" stroke-linecap="round"/>
<path d="M306,221 L264,256" stroke="#8fc3c8" stroke-width="7.5" fill="none" stroke-linecap="round"/>
<path d="M262.7,258 L322,280" stroke="#8fc3c8" stroke-width="7.5" fill="none" stroke-linecap="round"/>
<path d="M196,263 Q230,270 244.5,273 Q255,268 262.7,261" stroke="#8fc3c8" stroke-width="7.5" fill="none" stroke-linecap="round"/>
<path d="M247.8,274 L248.4,330" stroke="#8fc3c8" stroke-width="7.5" fill="none" stroke-linecap="round"/>
<path d="M205,226 Q240,240 262.7,259" stroke="#eefafa" stroke-width="5.5" fill="none" transform="translate(-0.6,-0.8)"/>
<path d="M306,221 L264,256" stroke="#eefafa" stroke-width="5.5" fill="none" transform="translate(-0.6,-0.8)"/>
<path d="M262.7,258 L322,280" stroke="#eefafa" stroke-width="5.5" fill="none" transform="translate(-0.6,-0.8)"/>
<path d="M196,263 Q230,270 244.5,273 Q255,268 262.7,261" stroke="#eefafa" stroke-width="5.5" fill="none" transform="translate(-0.6,-0.8)"/>
<path d="M247.8,274 L248.4,330" stroke="#eefafa" stroke-width="5.5" fill="none" transform="translate(-0.6,-0.8)"/>
</g>
<circle cx="669.1" cy="264.8" r="60.5" fill="#fff"/>
<path d="M622.4,227.3 Q650,242 668.7,258.1" stroke="#5a5a5a" stroke-width="5.4" fill="none" stroke-linecap="round"/>
<path d="M710.1,222.4 L669,259 L654.7,273.6" stroke="#5a5a5a" stroke-width="5.4" fill="none" stroke-linecap="round"/>
<path d="M668.7,258.1 L726.2,277.1" stroke="#5a5a5a" stroke-width="5.4" fill="none" stroke-linecap="round"/>
<path d="M610.5,260.9 L654.7,272.1 L668,262" stroke="#5a5a5a" stroke-width="5.4" fill="none" stroke-linecap="round"/>
<path d="M655,273.6 L657.5,324" stroke="#5a5a5a" stroke-width="5.4" fill="none" stroke-linecap="round"/>
<path d="M622.4,227.3 Q650,242 668.7,258.1" stroke="#e4e4e4" stroke-width="3.6" fill="none" transform="translate(0.6,0.6)"/>
<path d="M710.1,222.4 L669,259 L654.7,273.6" stroke="#e4e4e4" stroke-width="3.6" fill="none" transform="translate(0.6,0.6)"/>
<path d="M668.7,258.1 L726.2,277.1" stroke="#e4e4e4" stroke-width="3.6" fill="none" transform="translate(0.6,0.6)"/>
<path d="M610.5,260.9 L654.7,272.1 L668,262" stroke="#e4e4e4" stroke-width="3.6" fill="none" transform="translate(0.6,0.6)"/>
<path d="M655,273.6 L657.5,324" stroke="#e4e4e4" stroke-width="3.6" fill="none" transform="translate(0.6,0.6)"/>
<circle cx="636.5" cy="230.1" r="3.2" fill="#4cbf4c"/>
<circle cx="645.6" cy="234.3" r="3.2" fill="#4cbf4c"/>
<circle cx="662.4" cy="249.0" r="3.2" fill="#4cbf4c"/>
<circle cx="667.3" cy="259.5" r="3.2" fill="#4cbf4c"/>
<circle cx="692.6" cy="237.1" r="3.2" fill="#4cbf4c"/>
<circle cx="701.7" cy="231.5" r="3.2" fill="#4cbf4c"/>
<circle cx="681.4" cy="250.4" r="3.2" fill="#4cbf4c"/>
<circle cx="680.0" cy="263.0" r="3.2" fill="#4cbf4c"/>
<circle cx="696.8" cy="265.8" r="3.2" fill="#4cbf4c"/>
<circle cx="698.2" cy="268.6" r="3.2" fill="#4cbf4c"/>
<circle cx="717.8" cy="277.8" r="3.2" fill="#4cbf4c"/>
<circle cx="723.4" cy="276.4" r="3.2" fill="#4cbf4c"/>
<circle cx="644.2" cy="267.9" r="3.2" fill="#4cbf4c"/>
<circle cx="660.3" cy="269.3" r="3.2" fill="#4cbf4c"/>
<circle cx="664.5" cy="270.0" r="3.2" fill="#4cbf4c"/>
<circle cx="657.5" cy="289.0" r="3.2" fill="#4cbf4c"/>
<circle cx="658.9" cy="297.4" r="3.2" fill="#4cbf4c"/>
<circle cx="659.6" cy="303.7" r="3.2" fill="#4cbf4c"/>
<circle cx="659.6" cy="311.4" r="3.2" fill="#4cbf4c"/>
<circle cx="624.5" cy="263.7" r="3.2" fill="#4cbf4c"/>
<circle cx="649.1" cy="268.6" r="3.2" fill="#4cbf4c"/>
<circle cx="656.1" cy="271.4" r="3.2" fill="#4cbf4c"/>
<path d="M926,228 Q960,243 973.7,258.8" stroke="#3c3c3c" stroke-width="5.2" fill="none"/>
<path d="M1013.7,223 L973.7,258.8" stroke="#3c3c3c" stroke-width="4.4" fill="none"/>
<path d="M973.7,258.8 L1030.5,279.2" stroke="#3c3c3c" stroke-width="4.4" fill="none"/>
<path d="M913.4,262.3 L958.3,272.1 Q966,265 973.7,260" stroke="#3c3c3c" stroke-width="4.4" fill="none"/>
<path d="M959,273.6 L961.1,324" stroke="#3c3c3c" stroke-width="4.0" fill="none"/>
<path d="M989,250.5 L976,259" stroke="#3c3c3c" stroke-width="2.2" fill="none"/>
<circle cx="260.5" cy="265.5" r="60.2" stroke="#cc2626" stroke-width="2.3" fill="none" stroke-dasharray="6.5,4.5"/>
<circle cx="669.1" cy="264.8" r="60.7" stroke="#cc2626" stroke-width="2.3" fill="none" stroke-dasharray="6.5,4.5"/>
<circle cx="973" cy="265.1" r="60.3" stroke="#cc2626" stroke-width="2.3" fill="none" stroke-dasharray="6.5,4.5"/>
<circle cx="189.2" cy="140.9" r="14.2" stroke="#cc2626" stroke-width="2.3" fill="none" stroke-dasharray="6.5,4.5"/>
<circle cx="817.2" cy="146.5" r="13.5" stroke="#cc2626" stroke-width="2.3" fill="none" stroke-dasharray="6.5,4.5"/>
<circle cx="1119.2" cy="145.2" r="13.6" stroke="#cc2626" stroke-width="2.3" fill="none" stroke-dasharray="6.5,4.5"/>
<path d="M176,152 L200.9,274 M203.3,137.6 L318,244" stroke="#cc2626" stroke-width="2.3" fill="none" stroke-dasharray="6.5,4.5"/>
<path d="M657,205 L812,134 M826,156 L727,283" stroke="#cc2626" stroke-width="2.3" fill="none" stroke-dasharray="6.5,4.5"/>
<path d="M961,204 L1104,137 M1132.8,146.9 L1030,287" stroke="#cc2626" stroke-width="2.3" fill="none" stroke-dasharray="6.5,4.5"/>
<circle cx="188.5" cy="149.7" r="1.8" fill="#fff"/>
<circle cx="817.2" cy="154.2" r="1.8" fill="#fff"/>
<circle cx="1119.2" cy="153.7" r="1.8" fill="#fff"/>
<g>
<path d="M90.79,410.20L91.57,410.20L92.35,410.20L93.13,410.20L93.91,410.20L94.69,410.20L95.46,410.20L96.24,410.20L97.02,410.20L97.80,410.20L98.58,410.20L99.36,410.21L100.14,410.21L100.92,410.21L101.70,410.21L102.47,410.21L103.25,410.21L104.03,410.21L104.81,410.21L105.59,410.22L106.37,410.22L107.15,410.22L107.93,410.22L108.71,410.22L109.49,410.23L110.27,410.23L111.04,410.23L111.82,410.23L112.60,410.24L113.38,410.24L114.16,410.24L114.94,410.24L115.72,410.25L116.50,410.25L117.28,410.25L118.06,410.26L118.83,410.26L119.61,410.26L120.39,410.27L121.17,410.27L121.95,410.27L122.73,410.28L123.51,410.28L124.29,410.29L125.07,410.29L125.84,410.29L126.62,410.30L127.40,410.30L128.18,410.31L128.96,410.31L129.74,410.32L130.52,410.32L131.30,410.33L132.08,410.33L132.86,410.34L133.63,410.34L134.41,410.35L135.19,410.36L135.97,410.36L136.75,410.37L137.53,410.37L138.31,410.38L139.09,410.39L139.87,410.39L140.65,410.40L141.43,410.41L142.20,410.41L142.98,410.42L143.76,410.43L144.54,410.44L145.32,410.44L146.10,410.45L146.88,410.46L147.66,410.47L148.44,410.47L149.22,410.48L149.99,410.49L150.77,410.50L151.55,410.51L152.33,410.52L153.11,410.52L153.89,410.53L154.67,410.54L155.45,410.55L156.23,410.56L157.00,410.57L157.78,410.58L158.56,410.59L159.34,410.60L160.12,410.61L160.90,410.62L161.68,410.63L162.46,410.65L163.24,410.67L164.02,410.70L164.80,410.74L165.57,410.77L166.35,410.82L167.13,410.87L167.91,410.92L168.69,410.98L169.47,411.04L170.25,411.11L171.03,411.18L171.81,411.26L172.58,411.34L173.36,411.42L174.14,411.51L174.92,411.61L175.70,411.71L176.48,411.81L177.26,411.91L178.04,412.03L178.82,412.14L179.60,412.26L180.38,412.38L181.15,412.51L181.93,412.64L182.71,412.77L183.49,412.91L184.27,413.05L185.05,413.20L185.83,413.34L186.61,413.50L187.39,413.65L188.17,413.81L188.94,413.97L189.72,414.14L190.50,414.35L191.28,414.57L192.06,414.83L192.84,415.10L193.62,415.41L194.40,415.74L195.18,416.10L195.95,416.48L196.73,416.89L197.51,417.33L198.29,417.79L199.07,418.28L199.85,418.80L200.63,419.34L201.41,419.91L202.19,420.51L202.97,421.14L203.75,421.79L204.52,422.47L205.30,423.18L206.08,423.97L206.86,424.89L207.64,425.95L208.42,427.15L209.20,428.48L209.98,429.97L210.76,431.60L211.54,433.39L212.31,435.33L213.09,437.42L213.87,439.68L214.65,442.12L215.43,445.15L216.21,448.95L216.99,453.47L217.77,458.69L218.55,464.56L219.33,471.24L220.10,480.95L220.88,492.12L221.66,502.02L222.44,510.41L223.22,518.17L224.00,525.64L224.78,533.16L225.56,541.05L226.34,549.66L227.12,560.28L227.89,571.00L228.67,578.11L229.45,583.43L230.23,587.58L231.01,590.77L231.79,593.63L232.57,595.57L233.35,596.06L234.13,596.30L234.91,596.52L235.68,596.74L236.46,596.94L237.24,597.13L238.02,597.31L238.80,597.48L239.58,597.63L240.36,597.78L241.14,597.92L241.92,598.05L242.70,598.18L243.47,598.29L244.25,598.40L245.03,598.50L245.81,598.59L246.59,598.67L247.37,598.76L248.15,598.83L248.93,598.90L249.71,598.97L250.49,599.03L251.26,599.08L252.04,599.14L252.82,599.19L253.60,599.24L254.38,599.29L255.16,599.33L255.94,599.37L256.72,599.42L257.50,599.46L258.27,599.50L259.05,599.55L259.83,599.59L260.61,599.63L261.39,599.68L262.17,599.73L262.95,599.78L263.73,599.84L264.51,599.89L265.29,599.96L266.06,600.02L266.84,600.09L267.62,600.16L268.40,600.23L269.18,600.29L269.96,600.36L270.74,600.43L271.52,600.50L272.30,600.57L273.08,600.63L273.86,600.70L274.63,600.77L275.41,600.83L276.19,600.90L276.97,600.97L277.75,601.03L278.53,601.10L279.31,601.17L280.09,601.23L280.87,601.29L281.64,601.36L282.42,601.42L283.20,601.48L283.98,601.55L284.76,601.61L285.54,601.67L286.32,601.73L287.10,601.79L287.88,601.85L288.66,601.91L289.44,601.97L290.21,602.02L290.99,602.08L291.77,602.13L292.55,602.19L293.33,602.24L294.11,602.29L294.89,602.35L295.67,602.40L296.45,602.45L297.23,602.50L298.00,602.54L298.78,602.59L299.56,602.63L300.34,602.68L301.12,602.72L301.90,602.76L302.68,602.80L303.46,602.84L304.24,602.88L305.01,602.92L305.79,602.95L306.57,602.99L307.35,603.02L308.13,603.05L308.91,603.08L309.69,603.11L310.47,603.13L311.25,603.16L312.03,603.18L312.81,603.20L313.58,603.22L314.36,603.24L315.14,603.26L315.92,603.27L316.70,603.29L317.48,603.30L318.26,603.32L319.04,603.33L319.82,603.35L320.60,603.36L321.37,603.38L322.15,603.39L322.93,603.40L323.71,603.42L324.49,603.43L325.27,603.45L326.05,603.46L326.83,603.47L327.61,603.49L328.38,603.50L329.16,603.51L329.94,603.53L330.72,603.54L331.50,603.55L332.28,603.56L333.06,603.58L333.84,603.59L334.62,603.60L335.40,603.61L336.18,603.63L336.95,603.64L337.73,603.65L338.51,603.66L339.29,603.67L340.07,603.68L340.85,603.70L341.63,603.71L342.41,603.72L343.19,603.73L343.97,603.74L344.74,603.75L345.52,603.76L346.30,603.77L347.08,603.78L347.86,603.79L348.64,603.80L349.42,603.81L350.20,603.82L350.98,603.83L351.76,603.84L352.53,603.85L353.31,603.86L354.09,603.87L354.87,603.87L355.65,603.88L356.43,603.89L357.21,603.90L357.99,603.91L358.77,603.92L359.55,603.92L360.32,603.93L361.10,603.94L361.88,603.95L362.66,603.95L363.44,603.96L364.22,603.97L365.00,603.97L365.78,603.98L366.56,603.99L367.34,603.99L368.11,604.00L368.89,604.01L369.67,604.01L370.45,604.02L371.23,604.02L372.01,604.03L372.79,604.03L373.57,604.04L374.35,604.04L375.13,604.05L375.90,604.05L376.68,604.06L377.46,604.06L378.24,604.06L379.02,604.07L379.80,604.07L380.58,604.07L381.36,604.08L382.14,604.08L382.92,604.08L383.69,604.09L384.47,604.09L385.25,604.09L386.03,604.09L386.81,604.09L387.59,604.10L388.37,604.10L389.15,604.10L389.93,604.10L390.71,604.10L391.48,604.10L392.26,604.10L393.04,604.10L393.82,604.10L394.60,604.10" fill="none" stroke="#000000" stroke-width="1.6" stroke-linejoin="round"/>
<path d="M90.79,410.20L91.57,410.20L92.35,410.20L93.13,410.20L93.91,410.20L94.69,410.20L95.46,410.20L96.24,410.21L97.02,410.21L97.80,410.21L98.58,410.21L99.36,410.21L100.14,410.22L100.92,410.22L101.70,410.22L102.47,410.23L103.25,410.23L104.03,410.23L104.81,410.24L105.59,410.24L106.37,410.25L107.15,410.25L107.93,410.26L108.71,410.26L109.49,410.27L110.27,410.28L111.04,410.28L111.82,410.29L112.60,410.30L113.38,410.30L114.16,410.31L114.94,410.32L115.72,410.33L116.50,410.34L117.28,410.35L118.06,410.36L118.83,410.37L119.61,410.38L120.39,410.39L121.17,410.40L121.95,410.41L122.73,410.43L123.51,410.44L124.29,410.45L125.07,410.46L125.84,410.48L126.62,410.49L127.40,410.51L128.18,410.52L128.96,410.54L129.74,410.55L130.52,410.57L131.30,410.58L132.08,410.60L132.86,410.62L133.63,410.64L134.41,410.66L135.19,410.67L135.97,410.69L136.75,410.71L137.53,410.73L138.31,410.75L139.09,410.78L139.87,410.80L140.65,410.82L141.43,410.84L142.20,410.87L142.98,410.89L143.76,410.91L144.54,410.94L145.32,410.96L146.10,410.99L146.88,411.02L147.66,411.04L148.44,411.07L149.22,411.10L149.99,411.13L150.77,411.16L151.55,411.19L152.33,411.22L153.11,411.25L153.89,411.29L154.67,411.37L155.45,411.47L156.23,411.59L157.00,411.75L157.78,411.92L158.56,412.13L159.34,412.35L160.12,412.60L160.90,412.87L161.68,413.16L162.46,413.47L163.24,413.80L164.02,414.17L164.80,414.70L165.57,415.40L166.35,416.25L167.13,417.25L167.91,418.37L168.69,419.61L169.47,420.94L170.25,422.36L171.03,423.85L171.81,425.39L172.58,426.98L173.36,428.63L174.14,430.46L174.92,432.51L175.70,434.77L176.48,437.24L177.26,439.91L178.04,442.78L178.82,445.85L179.60,449.12L180.38,452.70L181.15,457.18L181.93,462.36L182.71,467.86L183.49,473.35L184.27,478.46L185.05,483.00L185.83,487.54L186.61,492.03L187.39,496.24L188.17,499.95L188.94,502.96L189.72,505.21L190.50,507.19L191.28,508.95L192.06,510.47L192.84,511.76L193.62,512.79L194.40,513.62L195.18,514.35L195.95,514.99L196.73,515.56L197.51,516.08L198.29,516.55L199.07,516.99L199.85,517.41L200.63,517.83L201.41,518.22L202.19,518.60L202.97,518.97L203.75,519.32L204.52,519.67L205.30,520.00L206.08,520.32L206.86,520.63L207.64,520.93L208.42,521.22L209.20,521.51L209.98,521.79L210.76,522.07L211.54,522.35L212.31,522.62L213.09,522.89L213.87,523.16L214.65,523.43L215.43,523.70L216.21,523.97L216.99,524.24L217.77,524.52L218.55,524.81L219.33,525.10L220.10,525.39L220.88,525.68L221.66,525.98L222.44,526.27L223.22,526.57L224.00,526.87L224.78,527.17L225.56,527.47L226.34,527.77L227.12,528.07L227.89,528.37L228.67,528.67L229.45,528.97L230.23,529.27L231.01,529.56L231.79,529.86L232.57,530.15L233.35,530.44L234.13,530.73L234.91,531.01L235.68,531.30L236.46,531.58L237.24,531.86L238.02,532.13L238.80,532.40L239.58,532.67L240.36,532.93L241.14,533.19L241.92,533.44L242.70,533.69L243.47,533.93L244.25,534.17L245.03,534.40L245.81,534.62L246.59,534.84L247.37,535.06L248.15,535.27L248.93,535.47L249.71,535.66L250.49,535.85L251.26,536.04L252.04,536.22L252.82,536.41L253.60,536.59L254.38,536.77L255.16,536.94L255.94,537.12L256.72,537.29L257.50,537.47L258.27,537.64L259.05,537.81L259.83,537.97L260.61,538.14L261.39,538.30L262.17,538.46L262.95,538.62L263.73,538.78L264.51,538.94L265.29,539.10L266.06,539.25L266.84,539.40L267.62,539.55L268.40,539.70L269.18,539.85L269.96,540.00L270.74,540.14L271.52,540.28L272.30,540.43L273.08,540.57L273.86,540.71L274.63,540.85L275.41,540.98L276.19,541.12L276.97,541.25L277.75,541.38L278.53,541.52L279.31,541.65L280.09,541.78L280.87,541.90L281.64,542.03L282.42,542.16L283.20,542.28L283.98,542.41L284.76,542.53L285.54,542.65L286.32,542.77L287.10,542.89L287.88,543.01L288.66,543.13L289.44,543.24L290.21,543.36L290.99,543.47L291.77,543.59L292.55,543.70L293.33,543.81L294.11,543.93L294.89,544.04L295.67,544.15L296.45,544.26L297.23,544.37L298.00,544.47L298.78,544.58L299.56,544.69L300.34,544.79L301.12,544.90L301.90,545.00L302.68,545.11L303.46,545.21L304.24,545.31L305.01,545.41L305.79,545.51L306.57,545.61L307.35,545.70L308.13,545.80L308.91,545.90L309.69,545.99L310.47,546.09L311.25,546.18L312.03,546.27L312.81,546.36L313.58,546.46L314.36,546.55L315.14,546.64L315.92,546.73L316.70,546.81L317.48,546.90L318.26,546.99L319.04,547.08L319.82,547.16L320.60,547.25L321.37,547.33L322.15,547.42L322.93,547.50L323.71,547.59L324.49,547.67L325.27,547.75L326.05,547.83L326.83,547.91L327.61,548.00L328.38,548.08L329.16,548.16L329.94,548.24L330.72,548.32L331.50,548.39L332.28,548.47L333.06,548.55L333.84,548.63L334.62,548.71L335.40,548.79L336.18,548.86L336.95,548.94L337.73,549.02L338.51,549.09L339.29,549.17L340.07,549.25L340.85,549.32L341.63,549.40L342.41,549.48L343.19,549.55L343.97,549.63L344.74,549.70L345.52,549.78L346.30,549.85L347.08,549.93L347.86,550.00L348.64,550.08L349.42,550.15L350.20,550.23L350.98,550.30L351.76,550.38L352.53,550.45L353.31,550.53L354.09,550.60L354.87,550.67L355.65,550.75L356.43,550.82L357.21,550.89L357.99,550.97L358.77,551.04L359.55,551.11L360.32,551.18L361.10,551.25L361.88,551.32L362.66,551.40L363.44,551.47L364.22,551.54L365.00,551.61L365.78,551.68L366.56,551.75L367.34,551.82L368.11,551.88L368.89,551.95L369.67,552.02L370.45,552.09L371.23,552.16L372.01,552.23L372.79,552.29L373.57,552.36L374.35,552.43L375.13,552.49L375.90,552.56L376.68,552.63L377.46,552.69L378.24,552.76L379.02,552.82L379.80,552.89L380.58,552.95L381.36,553.02L382.14,553.08L382.92,553.14L383.69,553.21L384.47,553.27L385.25,553.33L386.03,553.39L386.81,553.46L387.59,553.52L388.37,553.58L389.15,553.64L389.93,553.70L390.71,553.76L391.48,553.82L392.26,553.88L393.04,553.94L393.82,554.00L394.60,554.06" fill="none" stroke="#d01818" stroke-width="1.6" stroke-linejoin="round"/>
<path d="M90.79,410.20L91.57,410.20L92.35,410.20L93.13,410.20L93.91,410.20L94.69,410.20L95.46,410.20L96.24,410.21L97.02,410.21L97.80,410.21L98.58,410.21L99.36,410.21L100.14,410.22L100.92,410.22L101.70,410.22L102.47,410.23L103.25,410.23L104.03,410.23L104.81,410.24L105.59,410.24L106.37,410.25L107.15,410.25L107.93,410.26L108.71,410.27L109.49,410.27L110.27,410.28L111.04,410.29L111.82,410.29L112.60,410.30L113.38,410.31L114.16,410.32L114.94,410.33L115.72,410.33L116.50,410.34L117.28,410.35L118.06,410.36L118.83,410.37L119.61,410.38L120.39,410.40L121.17,410.41L121.95,410.42L122.73,410.43L123.51,410.44L124.29,410.46L125.07,410.47L125.84,410.48L126.62,410.50L127.40,410.51L128.18,410.53L128.96,410.54L129.74,410.56L130.52,410.57L131.30,410.59L132.08,410.61L132.86,410.63L133.63,410.64L134.41,410.66L135.19,410.68L135.97,410.70L136.75,410.72L137.53,410.74L138.31,410.76L139.09,410.78L139.87,410.80L140.65,410.83L141.43,410.85L142.20,410.87L142.98,410.89L143.76,410.92L144.54,410.94L145.32,410.97L146.10,410.99L146.88,411.02L147.66,411.05L148.44,411.07L149.22,411.10L149.99,411.13L150.77,411.16L151.55,411.19L152.33,411.22L153.11,411.25L153.89,411.29L154.67,411.37L155.45,411.47L156.23,411.60L157.00,411.76L157.78,411.94L158.56,412.14L159.34,412.37L160.12,412.62L160.90,412.89L161.68,413.18L162.46,413.49L163.24,413.81L164.02,414.15L164.80,414.51L165.57,414.88L166.35,415.26L167.13,415.66L167.91,416.07L168.69,416.47L169.47,416.87L170.25,417.33L171.03,417.94L171.81,418.78L172.58,419.94L173.36,422.34L174.14,430.09L174.92,456.86L175.70,475.88L176.48,487.09L177.26,494.64L178.04,498.53L178.82,501.36L179.60,503.65L180.38,505.47L181.15,506.89L181.93,507.97L182.71,508.81L183.49,509.56L184.27,510.25L185.05,510.89L185.83,511.48L186.61,512.02L187.39,512.52L188.17,512.99L188.94,513.42L189.72,513.82L190.50,514.20L191.28,514.56L192.06,514.90L192.84,515.23L193.62,515.54L194.40,515.86L195.18,516.17L195.95,516.48L196.73,516.81L197.51,517.14L198.29,517.49L199.07,517.86L199.85,518.25L200.63,518.65L201.41,519.05L202.19,519.45L202.97,519.84L203.75,520.23L204.52,520.62L205.30,521.00L206.08,521.38L206.86,521.76L207.64,522.13L208.42,522.50L209.20,522.87L209.98,523.24L210.76,523.60L211.54,523.96L212.31,524.32L213.09,524.68L213.87,525.03L214.65,525.37L215.43,525.70L216.21,526.04L216.99,526.37L217.77,526.70L218.55,527.02L219.33,527.35L220.10,527.68L220.88,528.02L221.66,528.35L222.44,528.70L223.22,529.05L224.00,529.40L224.78,529.77L225.56,530.14L226.34,530.53L227.12,530.92L227.89,531.33L228.67,531.74L229.45,532.16L230.23,532.59L231.01,533.02L231.79,533.46L232.57,533.90L233.35,534.34L234.13,534.79L234.91,535.24L235.68,535.69L236.46,536.13L237.24,536.58L238.02,537.03L238.80,537.48L239.58,537.92L240.36,538.35L241.14,538.79L241.92,539.22L242.70,539.64L243.47,540.05L244.25,540.46L245.03,540.85L245.81,541.24L246.59,541.62L247.37,541.98L248.15,542.34L248.93,542.68L249.71,543.01L250.49,543.33L251.26,543.64L252.04,543.96L252.82,544.27L253.60,544.57L254.38,544.87L255.16,545.17L255.94,545.46L256.72,545.75L257.50,546.03L258.27,546.32L259.05,546.59L259.83,546.87L260.61,547.14L261.39,547.41L262.17,547.67L262.95,547.93L263.73,548.19L264.51,548.44L265.29,548.69L266.06,548.94L266.84,549.18L267.62,549.42L268.40,549.66L269.18,549.89L269.96,550.12L270.74,550.35L271.52,550.58L272.30,550.80L273.08,551.01L273.86,551.23L274.63,551.44L275.41,551.65L276.19,551.86L276.97,552.07L277.75,552.28L278.53,552.49L279.31,552.70L280.09,552.90L280.87,553.10L281.64,553.30L282.42,553.50L283.20,553.70L283.98,553.89L284.76,554.09L285.54,554.28L286.32,554.46L287.10,554.65L287.88,554.83L288.66,555.00L289.44,555.18L290.21,555.35L290.99,555.51L291.77,555.67L292.55,555.83L293.33,555.99L294.11,556.14L294.89,556.28L295.67,556.42L296.45,556.56L297.23,556.69L298.00,556.81L298.78,556.93L299.56,557.05L300.34,557.16L301.12,557.27L301.90,557.38L302.68,557.49L303.46,557.60L304.24,557.70L305.01,557.81L305.79,557.91L306.57,558.01L307.35,558.11L308.13,558.21L308.91,558.31L309.69,558.40L310.47,558.50L311.25,558.59L312.03,558.69L312.81,558.78L313.58,558.87L314.36,558.96L315.14,559.05L315.92,559.14L316.70,559.22L317.48,559.31L318.26,559.39L319.04,559.47L319.82,559.56L320.60,559.64L321.37,559.72L322.15,559.80L322.93,559.87L323.71,559.95L324.49,560.03L325.27,560.10L326.05,560.18L326.83,560.25L327.61,560.32L328.38,560.39L329.16,560.47L329.94,560.54L330.72,560.60L331.50,560.67L332.28,560.74L333.06,560.81L333.84,560.87L334.62,560.94L335.40,561.00L336.18,561.07L336.95,561.13L337.73,561.20L338.51,561.26L339.29,561.32L340.07,561.38L340.85,561.44L341.63,561.50L342.41,561.56L343.19,561.62L343.97,561.68L344.74,561.73L345.52,561.79L346.30,561.85L347.08,561.90L347.86,561.96L348.64,562.01L349.42,562.07L350.20,562.12L350.98,562.18L351.76,562.23L352.53,562.29L353.31,562.34L354.09,562.39L354.87,562.45L355.65,562.50L356.43,562.55L357.21,562.60L357.99,562.66L358.77,562.71L359.55,562.76L360.32,562.81L361.10,562.86L361.88,562.91L362.66,562.96L363.44,563.01L364.22,563.06L365.00,563.10L365.78,563.15L366.56,563.20L367.34,563.25L368.11,563.29L368.89,563.34L369.67,563.38L370.45,563.43L371.23,563.47L372.01,563.52L372.79,563.56L373.57,563.60L374.35,563.64L375.13,563.69L375.90,563.73L376.68,563.77L377.46,563.81L378.24,563.85L379.02,563.89L379.80,563.92L380.58,563.96L381.36,564.00L382.14,564.04L382.92,564.07L383.69,564.11L384.47,564.14L385.25,564.18L386.03,564.21L386.81,564.24L387.59,564.27L388.37,564.30L389.15,564.33L389.93,564.36L390.71,564.39L391.48,564.42L392.26,564.45L393.04,564.48L393.82,564.50L394.60,564.53" fill="none" stroke="#0000c0" stroke-width="1.6" stroke-linejoin="round"/>
<path d="M90.79,410.20L91.57,410.20L92.35,410.20L93.13,410.20L93.91,410.20L94.69,410.20L95.46,410.20L96.24,410.21L97.02,410.21L97.80,410.21L98.58,410.21L99.36,410.22L100.14,410.22L100.92,410.22L101.70,410.22L102.47,410.23L103.25,410.23L104.03,410.24L104.81,410.24L105.59,410.25L106.37,410.25L107.15,410.26L107.93,410.26L108.71,410.27L109.49,410.28L110.27,410.28L111.04,410.29L111.82,410.30L112.60,410.31L113.38,410.31L114.16,410.32L114.94,410.33L115.72,410.34L116.50,410.35L117.28,410.36L118.06,410.37L118.83,410.38L119.61,410.39L120.39,410.41L121.17,410.42L121.95,410.43L122.73,410.44L123.51,410.46L124.29,410.47L125.07,410.48L125.84,410.50L126.62,410.51L127.40,410.53L128.18,410.54L128.96,410.56L129.74,410.57L130.52,410.59L131.30,410.61L132.08,410.63L132.86,410.64L133.63,410.66L134.41,410.68L135.19,410.70L135.97,410.72L136.75,410.74L137.53,410.76L138.31,410.78L139.09,410.81L139.87,410.83L140.65,410.85L141.43,410.87L142.20,410.90L142.98,410.92L143.76,410.95L144.54,410.97L145.32,411.00L146.10,411.02L146.88,411.05L147.66,411.08L148.44,411.11L149.22,411.13L149.99,411.16L150.77,411.19L151.55,411.22L152.33,411.25L153.11,411.28L153.89,411.31L154.67,411.35L155.45,411.38L156.23,411.41L157.00,411.45L157.78,411.48L158.56,411.52L159.34,411.55L160.12,411.59L160.90,411.62L161.68,411.66L162.46,411.70L163.24,411.74L164.02,411.78L164.80,411.82L165.57,411.86L166.35,411.90L167.13,411.94L167.91,411.98L168.69,412.02L169.47,412.07L170.25,412.11L171.03,412.15L171.81,412.20L172.58,412.25L173.36,412.29L174.14,412.34L174.92,412.39L175.70,412.43L176.48,412.48L177.26,412.53L178.04,412.58L178.82,412.63L179.60,412.69L180.38,412.74L181.15,412.83L181.93,412.95L182.71,413.10L183.49,413.28L184.27,413.50L185.05,413.74L185.83,414.03L186.61,414.34L187.39,414.69L188.17,415.07L188.94,415.48L189.72,415.92L190.50,416.40L191.28,416.91L192.06,417.46L192.84,418.03L193.62,418.64L194.40,419.29L195.18,419.96L195.95,420.67L196.73,421.58L197.51,422.84L198.29,424.44L199.07,426.37L199.85,428.62L200.63,431.17L201.41,434.01L202.19,437.12L202.97,440.49L203.75,444.11L204.52,448.29L205.30,454.64L206.08,462.70L206.86,471.60L207.64,480.52L208.42,488.61L209.20,495.09L209.98,500.85L210.76,507.10L211.54,513.56L212.31,520.12L213.09,526.68L213.87,533.12L214.65,540.44L215.43,548.02L216.21,553.25L216.99,554.87L217.77,555.95L218.55,556.83L219.33,557.55L220.10,558.14L220.88,558.62L221.66,559.03L222.44,559.39L223.22,559.74L224.00,560.10L224.78,560.43L225.56,560.72L226.34,561.00L227.12,561.25L227.89,561.48L228.67,561.70L229.45,561.91L230.23,562.12L231.01,562.32L231.79,562.53L232.57,562.74L233.35,562.96L234.13,563.19L234.91,563.41L235.68,563.64L236.46,563.86L237.24,564.09L238.02,564.31L238.80,564.54L239.58,564.76L240.36,564.99L241.14,565.21L241.92,565.44L242.70,565.66L243.47,565.88L244.25,566.10L245.03,566.32L245.81,566.54L246.59,566.76L247.37,566.97L248.15,567.19L248.93,567.40L249.71,567.61L250.49,567.81L251.26,568.02L252.04,568.22L252.82,568.42L253.60,568.61L254.38,568.81L255.16,569.00L255.94,569.18L256.72,569.37L257.50,569.55L258.27,569.72L259.05,569.89L259.83,570.06L260.61,570.22L261.39,570.38L262.17,570.53L262.95,570.68L263.73,570.83L264.51,570.97L265.29,571.10L266.06,571.23L266.84,571.35L267.62,571.48L268.40,571.60L269.18,571.72L269.96,571.84L270.74,571.96L271.52,572.08L272.30,572.20L273.08,572.32L273.86,572.43L274.63,572.55L275.41,572.66L276.19,572.77L276.97,572.88L277.75,572.99L278.53,573.10L279.31,573.21L280.09,573.31L280.87,573.42L281.64,573.52L282.42,573.63L283.20,573.73L283.98,573.83L284.76,573.93L285.54,574.03L286.32,574.12L287.10,574.22L287.88,574.31L288.66,574.41L289.44,574.50L290.21,574.59L290.99,574.68L291.77,574.77L292.55,574.86L293.33,574.94L294.11,575.03L294.89,575.11L295.67,575.19L296.45,575.28L297.23,575.36L298.00,575.44L298.78,575.51L299.56,575.59L300.34,575.66L301.12,575.74L301.90,575.81L302.68,575.88L303.46,575.95L304.24,576.02L305.01,576.09L305.79,576.16L306.57,576.22L307.35,576.29L308.13,576.35L308.91,576.41L309.69,576.47L310.47,576.53L311.25,576.59L312.03,576.64L312.81,576.70L313.58,576.75L314.36,576.81L315.14,576.86L315.92,576.91L316.70,576.96L317.48,577.01L318.26,577.06L319.04,577.11L319.82,577.16L320.60,577.21L321.37,577.26L322.15,577.31L322.93,577.35L323.71,577.40L324.49,577.45L325.27,577.50L326.05,577.55L326.83,577.60L327.61,577.65L328.38,577.70L329.16,577.75L329.94,577.79L330.72,577.84L331.50,577.89L332.28,577.94L333.06,577.98L333.84,578.03L334.62,578.08L335.40,578.12L336.18,578.17L336.95,578.22L337.73,578.26L338.51,578.31L339.29,578.35L340.07,578.40L340.85,578.44L341.63,578.49L342.41,578.53L343.19,578.57L343.97,578.62L344.74,578.66L345.52,578.70L346.30,578.75L347.08,578.79L347.86,578.83L348.64,578.87L349.42,578.91L350.20,578.95L350.98,578.99L351.76,579.03L352.53,579.07L353.31,579.11L354.09,579.14L354.87,579.18L355.65,579.22L356.43,579.26L357.21,579.29L357.99,579.33L358.77,579.36L359.55,579.40L360.32,579.43L361.10,579.46L361.88,579.50L362.66,579.53L363.44,579.56L364.22,579.59L365.00,579.62L365.78,579.65L366.56,579.68L367.34,579.71L368.11,579.73L368.89,579.76L369.67,579.79L370.45,579.81L371.23,579.84L372.01,579.86L372.79,579.89L373.57,579.91L374.35,579.93L375.13,579.95L375.90,579.98L376.68,580.00L377.46,580.02L378.24,580.03L379.02,580.05L379.80,580.07L380.58,580.09L381.36,580.10L382.14,580.12L382.92,580.13L383.69,580.14L384.47,580.15L385.25,580.17L386.03,580.18L386.81,580.19L387.59,580.19L388.37,580.20L389.15,580.21L389.93,580.22L390.71,580.22L391.48,580.23L392.26,580.23L393.04,580.23L393.82,580.23L394.60,580.23" fill="none" stroke="#1a9090" stroke-width="1.6" stroke-linejoin="round"/>
<path d="M90.79,410.20L91.57,410.20L92.35,410.20L93.13,410.20L93.91,410.20L94.69,410.20L95.46,410.20L96.24,410.20L97.02,410.21L97.80,410.21L98.58,410.21L99.36,410.21L100.14,410.21L100.92,410.22L101.70,410.22L102.47,410.22L103.25,410.23L104.03,410.23L104.81,410.23L105.59,410.24L106.37,410.24L107.15,410.25L107.93,410.25L108.71,410.26L109.49,410.26L110.27,410.27L111.04,410.28L111.82,410.28L112.60,410.29L113.38,410.30L114.16,410.31L114.94,410.31L115.72,410.32L116.50,410.33L117.28,410.34L118.06,410.35L118.83,410.36L119.61,410.37L120.39,410.38L121.17,410.39L121.95,410.40L122.73,410.41L123.51,410.43L124.29,410.44L125.07,410.45L125.84,410.47L126.62,410.48L127.40,410.49L128.18,410.51L128.96,410.52L129.74,410.54L130.52,410.56L131.30,410.57L132.08,410.59L132.86,410.61L133.63,410.62L134.41,410.64L135.19,410.66L135.97,410.68L136.75,410.70L137.53,410.72L138.31,410.74L139.09,410.76L139.87,410.79L140.65,410.81L141.43,410.83L142.20,410.86L142.98,410.88L143.76,410.90L144.54,410.93L145.32,410.96L146.10,410.98L146.88,411.01L147.66,411.04L148.44,411.07L149.22,411.09L149.99,411.12L150.77,411.15L151.55,411.18L152.33,411.22L153.11,411.25L153.89,411.30L154.67,411.40L155.45,411.55L156.23,411.74L157.00,411.97L157.78,412.25L158.56,412.56L159.34,412.91L160.12,413.29L160.90,413.71L161.68,414.16L162.46,414.65L163.24,415.17L164.02,415.75L164.80,416.61L165.57,417.76L166.35,419.18L167.13,420.86L167.91,422.77L168.69,424.90L169.47,427.21L170.25,429.71L171.03,432.35L171.81,435.14L172.58,438.03L173.36,441.16L174.14,445.26L174.92,450.16L175.70,455.54L176.48,461.09L177.26,466.49L178.04,471.63L178.82,477.29L179.60,483.20L180.38,488.88L181.15,493.87L181.93,497.67L182.71,500.05L183.49,502.02L184.27,503.80L185.05,505.38L185.83,506.78L186.61,507.98L187.39,509.01L188.17,509.85L188.94,510.52L189.72,511.04L190.50,511.49L191.28,511.90L192.06,512.25L192.84,512.58L193.62,512.87L194.40,513.13L195.18,513.38L195.95,513.62L196.73,513.86L197.51,514.10L198.29,514.35L199.07,514.61L199.85,514.90L200.63,515.20L201.41,515.50L202.19,515.80L202.97,516.10L203.75,516.40L204.52,516.70L205.30,517.00L206.08,517.29L206.86,517.59L207.64,517.88L208.42,518.18L209.20,518.48L209.98,518.77L210.76,519.07L211.54,519.36L212.31,519.66L213.09,519.96L213.87,520.26L214.65,520.56L215.43,520.86L216.21,521.16L216.99,521.46L217.77,521.77L218.55,522.08L219.33,522.38L220.10,522.70L220.88,523.02L221.66,523.35L222.44,523.69L223.22,524.03L224.00,524.37L224.78,524.72L225.56,525.07L226.34,525.43L227.12,525.79L227.89,526.15L228.67,526.51L229.45,526.87L230.23,527.23L231.01,527.59L231.79,527.96L232.57,528.32L233.35,528.68L234.13,529.03L234.91,529.39L235.68,529.74L236.46,530.08L237.24,530.42L238.02,530.76L238.80,531.09L239.58,531.42L240.36,531.73L241.14,532.04L241.92,532.35L242.70,532.64L243.47,532.93L244.25,533.20L245.03,533.47L245.81,533.72L246.59,533.97L247.37,534.20L248.15,534.42L248.93,534.63L249.71,534.82L250.49,535.01L251.26,535.19L252.04,535.38L252.82,535.55L253.60,535.73L254.38,535.91L255.16,536.08L255.94,536.24L256.72,536.41L257.50,536.57L258.27,536.74L259.05,536.89L259.83,537.05L260.61,537.21L261.39,537.36L262.17,537.51L262.95,537.66L263.73,537.80L264.51,537.94L265.29,538.09L266.06,538.23L266.84,538.36L267.62,538.50L268.40,538.63L269.18,538.76L269.96,538.90L270.74,539.02L271.52,539.15L272.30,539.28L273.08,539.40L273.86,539.52L274.63,539.64L275.41,539.76L276.19,539.88L276.97,540.00L277.75,540.11L278.53,540.23L279.31,540.34L280.09,540.45L280.87,540.56L281.64,540.67L282.42,540.78L283.20,540.89L283.98,541.00L284.76,541.10L285.54,541.21L286.32,541.31L287.10,541.42L287.88,541.52L288.66,541.62L289.44,541.72L290.21,541.82L290.99,541.92L291.77,542.02L292.55,542.12L293.33,542.22L294.11,542.32L294.89,542.42L295.67,542.52L296.45,542.62L297.23,542.71L298.00,542.81L298.78,542.91L299.56,543.01L300.34,543.11L301.12,543.20L301.90,543.30L302.68,543.39L303.46,543.48L304.24,543.58L305.01,543.67L305.79,543.76L306.57,543.85L307.35,543.94L308.13,544.03L308.91,544.11L309.69,544.20L310.47,544.29L311.25,544.37L312.03,544.46L312.81,544.54L313.58,544.62L314.36,544.70L315.14,544.79L315.92,544.87L316.70,544.95L317.48,545.03L318.26,545.11L319.04,545.19L319.82,545.27L320.60,545.34L321.37,545.42L322.15,545.50L322.93,545.58L323.71,545.65L324.49,545.73L325.27,545.80L326.05,545.88L326.83,545.95L327.61,546.03L328.38,546.10L329.16,546.18L329.94,546.25L330.72,546.32L331.50,546.40L332.28,546.47L333.06,546.54L333.84,546.62L334.62,546.69L335.40,546.76L336.18,546.83L336.95,546.90L337.73,546.98L338.51,547.05L339.29,547.12L340.07,547.19L340.85,547.26L341.63,547.34L342.41,547.41L343.19,547.48L343.97,547.55L344.74,547.62L345.52,547.70L346.30,547.77L347.08,547.84L347.86,547.91L348.64,547.99L349.42,548.06L350.20,548.13L350.98,548.20L351.76,548.27L352.53,548.35L353.31,548.42L354.09,548.49L354.87,548.56L355.65,548.63L356.43,548.70L357.21,548.78L357.99,548.85L358.77,548.92L359.55,548.99L360.32,549.06L361.10,549.13L361.88,549.20L362.66,549.27L363.44,549.34L364.22,549.41L365.00,549.47L365.78,549.54L366.56,549.61L367.34,549.68L368.11,549.75L368.89,549.82L369.67,549.89L370.45,549.95L371.23,550.02L372.01,550.09L372.79,550.16L373.57,550.22L374.35,550.29L375.13,550.36L375.90,550.42L376.68,550.49L377.46,550.56L378.24,550.62L379.02,550.69L379.80,550.75L380.58,550.82L381.36,550.88L382.14,550.95L382.92,551.01L383.69,551.08L384.47,551.14L385.25,551.21L386.03,551.27L386.81,551.34L387.59,551.40L388.37,551.46L389.15,551.53L389.93,551.59L390.71,551.65L391.48,551.72L392.26,551.78L393.04,551.84L393.82,551.90L394.60,551.96" fill="none" stroke="#ee10ee" stroke-width="1.6" stroke-linejoin="round"/>
<path d="M90.79,410.20L91.57,410.20L92.35,410.20L93.13,410.20L93.91,410.20L94.69,410.20L95.46,410.20L96.24,410.20L97.02,410.21L97.80,410.21L98.58,410.21L99.36,410.21L100.14,410.21L100.92,410.21L101.70,410.22L102.47,410.22L103.25,410.22L104.03,410.22L104.81,410.23L105.59,410.23L106.37,410.23L107.15,410.24L107.93,410.24L108.71,410.25L109.49,410.25L110.27,410.26L111.04,410.26L111.82,410.26L112.60,410.27L113.38,410.28L114.16,410.28L114.94,410.29L115.72,410.29L116.50,410.30L117.28,410.31L118.06,410.31L118.83,410.32L119.61,410.33L120.39,410.33L121.17,410.34L121.95,410.35L122.73,410.36L123.51,410.36L124.29,410.37L125.07,410.38L125.84,410.39L126.62,410.40L127.40,410.41L128.18,410.42L128.96,410.43L129.74,410.44L130.52,410.45L131.30,410.46L132.08,410.47L132.86,410.48L133.63,410.49L134.41,410.50L135.19,410.52L135.97,410.53L136.75,410.54L137.53,410.55L138.31,410.56L139.09,410.58L139.87,410.59L140.65,410.60L141.43,410.62L142.20,410.64L142.98,410.68L143.76,410.73L144.54,410.79L145.32,410.86L146.10,410.95L146.88,411.04L147.66,411.15L148.44,411.26L149.22,411.38L149.99,411.50L150.77,411.63L151.55,411.76L152.33,411.90L153.11,412.04L153.89,412.18L154.67,412.32L155.45,412.46L156.23,412.60L157.00,412.73L157.78,412.87L158.56,412.99L159.34,413.12L160.12,413.23L160.90,413.34L161.68,413.44L162.46,413.54L163.24,413.63L164.02,413.71L164.80,413.79L165.57,413.87L166.35,413.94L167.13,414.01L167.91,414.07L168.69,414.13L169.47,414.19L170.25,414.25L171.03,414.31L171.81,414.37L172.58,414.42L173.36,414.48L174.14,414.54L174.92,414.60L175.70,414.66L176.48,414.72L177.26,414.79L178.04,414.85L178.82,414.92L179.60,415.00L180.38,415.08L181.15,415.16L181.93,415.25L182.71,415.35L183.49,415.45L184.27,415.56L185.05,415.67L185.83,415.79L186.61,415.92L187.39,416.06L188.17,416.21L188.94,416.37L189.72,416.53L190.50,416.71L191.28,416.90L192.06,417.10L192.84,417.31L193.62,417.53L194.40,417.95L195.18,418.74L195.95,419.88L196.73,421.35L197.51,423.10L198.29,425.13L199.07,427.41L199.85,429.91L200.63,432.60L201.41,435.46L202.19,438.48L202.97,441.61L203.75,445.67L204.52,451.22L205.30,457.83L206.08,465.10L206.86,472.62L207.64,479.97L208.42,486.73L209.20,492.75L209.98,498.98L210.76,505.00L211.54,510.18L212.31,513.85L213.09,516.39L213.87,518.52L214.65,520.15L215.43,521.18L216.21,521.86L216.99,522.51L217.77,523.14L218.55,523.74L219.33,524.32L220.10,524.87L220.88,525.40L221.66,525.91L222.44,526.39L223.22,526.86L224.00,527.31L224.78,527.73L225.56,528.14L226.34,528.53L227.12,528.91L227.89,529.26L228.67,529.61L229.45,529.93L230.23,530.25L231.01,530.55L231.79,530.83L232.57,531.11L233.35,531.37L234.13,531.63L234.91,531.87L235.68,532.11L236.46,532.33L237.24,532.55L238.02,532.77L238.80,532.97L239.58,533.17L240.36,533.37L241.14,533.57L241.92,533.76L242.70,533.95L243.47,534.13L244.25,534.32L245.03,534.50L245.81,534.69L246.59,534.88L247.37,535.07L248.15,535.26L248.93,535.46L249.71,535.66L250.49,535.86L251.26,536.06L252.04,536.26L252.82,536.45L253.60,536.64L254.38,536.83L255.16,537.02L255.94,537.20L256.72,537.38L257.50,537.56L258.27,537.74L259.05,537.91L259.83,538.09L260.61,538.26L261.39,538.42L262.17,538.59L262.95,538.75L263.73,538.92L264.51,539.08L265.29,539.23L266.06,539.39L266.84,539.54L267.62,539.70L268.40,539.85L269.18,539.99L269.96,540.14L270.74,540.29L271.52,540.43L272.30,540.57L273.08,540.71L273.86,540.85L274.63,540.98L275.41,541.12L276.19,541.25L276.97,541.38L277.75,541.51L278.53,541.64L279.31,541.77L280.09,541.90L280.87,542.02L281.64,542.14L282.42,542.27L283.20,542.39L283.98,542.51L284.76,542.62L285.54,542.74L286.32,542.86L287.10,542.97L287.88,543.09L288.66,543.20L289.44,543.31L290.21,543.42L290.99,543.53L291.77,543.64L292.55,543.75L293.33,543.86L294.11,543.96L294.89,544.07L295.67,544.17L296.45,544.28L297.23,544.38L298.00,544.48L298.78,544.58L299.56,544.69L300.34,544.79L301.12,544.88L301.90,544.98L302.68,545.08L303.46,545.18L304.24,545.27L305.01,545.36L305.79,545.46L306.57,545.55L307.35,545.64L308.13,545.73L308.91,545.82L309.69,545.90L310.47,545.99L311.25,546.08L312.03,546.16L312.81,546.25L313.58,546.33L314.36,546.41L315.14,546.50L315.92,546.58L316.70,546.66L317.48,546.74L318.26,546.82L319.04,546.90L319.82,546.97L320.60,547.05L321.37,547.13L322.15,547.21L322.93,547.28L323.71,547.36L324.49,547.43L325.27,547.51L326.05,547.58L326.83,547.65L327.61,547.73L328.38,547.80L329.16,547.87L329.94,547.95L330.72,548.02L331.50,548.09L332.28,548.16L333.06,548.23L333.84,548.31L334.62,548.38L335.40,548.45L336.18,548.52L336.95,548.59L337.73,548.66L338.51,548.73L339.29,548.80L340.07,548.87L340.85,548.94L341.63,549.01L342.41,549.09L343.19,549.16L343.97,549.23L344.74,549.30L345.52,549.37L346.30,549.44L347.08,549.52L347.86,549.59L348.64,549.66L349.42,549.73L350.20,549.81L350.98,549.88L351.76,549.95L352.53,550.02L353.31,550.09L354.09,550.17L354.87,550.24L355.65,550.31L356.43,550.38L357.21,550.45L357.99,550.52L358.77,550.59L359.55,550.66L360.32,550.73L361.10,550.80L361.88,550.87L362.66,550.94L363.44,551.01L364.22,551.08L365.00,551.15L365.78,551.22L366.56,551.29L367.34,551.36L368.11,551.42L368.89,551.49L369.67,551.56L370.45,551.63L371.23,551.70L372.01,551.76L372.79,551.83L373.57,551.90L374.35,551.97L375.13,552.03L375.90,552.10L376.68,552.17L377.46,552.23L378.24,552.30L379.02,552.36L379.80,552.43L380.58,552.49L381.36,552.56L382.14,552.62L382.92,552.69L383.69,552.75L384.47,552.82L385.25,552.88L386.03,552.95L386.81,553.01L387.59,553.07L388.37,553.14L389.15,553.20L389.93,553.26L390.71,553.33L391.48,553.39L392.26,553.45L393.04,553.52L393.82,553.58L394.60,553.64" fill="none" stroke="#8a8a20" stroke-width="1.6" stroke-linejoin="round"/>
<path d="M90.79,410.20L91.57,410.20L92.35,410.20L93.13,410.20L93.91,410.20L94.69,410.20L95.46,410.20L96.24,410.21L97.02,410.21L97.80,410.21L98.58,410.21L99.36,410.21L100.14,410.22L100.92,410.22L101.70,410.22L102.47,410.23L103.25,410.23L104.03,410.23L104.81,410.24L105.59,410.24L106.37,410.25L107.15,410.25L107.93,410.26L108.71,410.26L109.49,410.27L110.27,410.28L111.04,410.28L111.82,410.29L112.60,410.29L113.38,410.30L114.16,410.31L114.94,410.32L115.72,410.32L116.50,410.33L117.28,410.34L118.06,410.35L118.83,410.36L119.61,410.37L120.39,410.38L121.17,410.39L121.95,410.40L122.73,410.41L123.51,410.42L124.29,410.43L125.07,410.44L125.84,410.45L126.62,410.46L127.40,410.47L128.18,410.48L128.96,410.50L129.74,410.51L130.52,410.52L131.30,410.54L132.08,410.55L132.86,410.56L133.63,410.58L134.41,410.59L135.19,410.60L135.97,410.62L136.75,410.63L137.53,410.65L138.31,410.67L139.09,410.68L139.87,410.70L140.65,410.71L141.43,410.73L142.20,410.75L142.98,410.77L143.76,410.78L144.54,410.80L145.32,410.82L146.10,410.84L146.88,410.86L147.66,410.88L148.44,410.90L149.22,410.92L149.99,410.94L150.77,410.96L151.55,410.98L152.33,411.00L153.11,411.02L153.89,411.04L154.67,411.06L155.45,411.08L156.23,411.11L157.00,411.13L157.78,411.15L158.56,411.18L159.34,411.20L160.12,411.22L160.90,411.25L161.68,411.27L162.46,411.31L163.24,411.34L164.02,411.38L164.80,411.43L165.57,411.48L166.35,411.54L167.13,411.60L167.91,411.67L168.69,411.75L169.47,411.83L170.25,411.92L171.03,412.02L171.81,412.12L172.58,412.23L173.36,412.35L174.14,412.47L174.92,412.61L175.70,412.75L176.48,412.90L177.26,413.05L178.04,413.22L178.82,413.39L179.60,413.58L180.38,413.77L181.15,413.97L181.93,414.18L182.71,414.40L183.49,414.63L184.27,414.87L185.05,415.12L185.83,415.38L186.61,415.65L187.39,415.93L188.17,416.22L188.94,416.52L189.72,416.83L190.50,417.16L191.28,417.50L192.06,417.84L192.84,418.20L193.62,418.58L194.40,419.11L195.18,419.94L195.95,421.06L196.73,422.45L197.51,424.10L198.29,425.98L199.07,428.10L199.85,430.43L200.63,432.96L201.41,435.68L202.19,438.57L202.97,441.61L203.75,445.53L204.52,450.84L205.30,457.26L206.08,464.48L206.86,472.22L207.64,480.17L208.42,488.05L209.20,495.98L209.98,505.67L210.76,515.75L211.54,524.33L212.31,529.56L213.09,532.22L213.87,534.26L214.65,535.46L215.43,535.91L216.21,536.28L216.99,536.60L217.77,536.90L218.55,537.16L219.33,537.40L220.10,537.60L220.88,537.79L221.66,537.95L222.44,538.10L223.22,538.23L224.00,538.36L224.78,538.47L225.56,538.57L226.34,538.68L227.12,538.78L227.89,538.88L228.67,538.99L229.45,539.11L230.23,539.24L231.01,539.38L231.79,539.54L232.57,539.72L233.35,539.92L234.13,540.13L234.91,540.34L235.68,540.55L236.46,540.77L237.24,541.00L238.02,541.23L238.80,541.46L239.58,541.70L240.36,541.94L241.14,542.18L241.92,542.42L242.70,542.67L243.47,542.92L244.25,543.17L245.03,543.42L245.81,543.68L246.59,543.93L247.37,544.19L248.15,544.44L248.93,544.70L249.71,544.95L250.49,545.20L251.26,545.46L252.04,545.71L252.82,545.96L253.60,546.20L254.38,546.45L255.16,546.69L255.94,546.93L256.72,547.17L257.50,547.40L258.27,547.63L259.05,547.86L259.83,548.08L260.61,548.30L261.39,548.51L262.17,548.71L262.95,548.92L263.73,549.11L264.51,549.30L265.29,549.48L266.06,549.66L266.84,549.83L267.62,550.01L268.40,550.18L269.18,550.35L269.96,550.52L270.74,550.69L271.52,550.86L272.30,551.03L273.08,551.19L273.86,551.36L274.63,551.52L275.41,551.68L276.19,551.85L276.97,552.01L277.75,552.16L278.53,552.32L279.31,552.48L280.09,552.63L280.87,552.78L281.64,552.93L282.42,553.07L283.20,553.22L283.98,553.36L284.76,553.50L285.54,553.64L286.32,553.77L287.10,553.90L287.88,554.03L288.66,554.16L289.44,554.28L290.21,554.40L290.99,554.52L291.77,554.63L292.55,554.74L293.33,554.85L294.11,554.95L294.89,555.05L295.67,555.14L296.45,555.24L297.23,555.32L298.00,555.41L298.78,555.49L299.56,555.56L300.34,555.64L301.12,555.71L301.90,555.78L302.68,555.85L303.46,555.92L304.24,555.99L305.01,556.06L305.79,556.12L306.57,556.19L307.35,556.25L308.13,556.31L308.91,556.38L309.69,556.44L310.47,556.50L311.25,556.56L312.03,556.61L312.81,556.67L313.58,556.73L314.36,556.78L315.14,556.84L315.92,556.89L316.70,556.95L317.48,557.00L318.26,557.05L319.04,557.10L319.82,557.15L320.60,557.20L321.37,557.25L322.15,557.30L322.93,557.35L323.71,557.39L324.49,557.44L325.27,557.49L326.05,557.53L326.83,557.58L327.61,557.62L328.38,557.66L329.16,557.71L329.94,557.75L330.72,557.79L331.50,557.83L332.28,557.87L333.06,557.91L333.84,557.95L334.62,557.99L335.40,558.03L336.18,558.07L336.95,558.11L337.73,558.15L338.51,558.19L339.29,558.22L340.07,558.26L340.85,558.30L341.63,558.34L342.41,558.37L343.19,558.41L343.97,558.45L344.74,558.48L345.52,558.52L346.30,558.56L347.08,558.59L347.86,558.63L348.64,558.66L349.42,558.70L350.20,558.74L350.98,558.77L351.76,558.81L352.53,558.84L353.31,558.88L354.09,558.91L354.87,558.95L355.65,558.98L356.43,559.01L357.21,559.05L357.99,559.08L358.77,559.12L359.55,559.15L360.32,559.18L361.10,559.22L361.88,559.25L362.66,559.28L363.44,559.31L364.22,559.34L365.00,559.38L365.78,559.41L366.56,559.44L367.34,559.47L368.11,559.50L368.89,559.53L369.67,559.56L370.45,559.59L371.23,559.62L372.01,559.65L372.79,559.68L373.57,559.70L374.35,559.73L375.13,559.76L375.90,559.79L376.68,559.82L377.46,559.84L378.24,559.87L379.02,559.89L379.80,559.92L380.58,559.95L381.36,559.97L382.14,560.00L382.92,560.02L383.69,560.04L384.47,560.07L385.25,560.09L386.03,560.11L386.81,560.14L387.59,560.16L388.37,560.18L389.15,560.20L389.93,560.22L390.71,560.24L391.48,560.26L392.26,560.28L393.04,560.30L393.82,560.32L394.60,560.34" fill="none" stroke="#15157a" stroke-width="1.6" stroke-linejoin="round"/>
<rect x="83" y="400.3" width="312.7" height="229.45" fill="none" stroke="#000" stroke-width="1.6"/>
<line x1="78" y1="619.60" x2="83" y2="619.60" stroke="#000" stroke-width="1.4"/>
<text x="75" y="624.60" font-size="14" text-anchor="end" font-weight="normal" fill="#000" >0</text>
<line x1="80.5" y1="598.66" x2="83" y2="598.66" stroke="#000" stroke-width="1.4"/>
<line x1="78" y1="577.72" x2="83" y2="577.72" stroke="#000" stroke-width="1.4"/>
<text x="75" y="582.72" font-size="14" text-anchor="end" font-weight="normal" fill="#000" >20</text>
<line x1="80.5" y1="556.78" x2="83" y2="556.78" stroke="#000" stroke-width="1.4"/>
<line x1="78" y1="535.84" x2="83" y2="535.84" stroke="#000" stroke-width="1.4"/>
<text x="75" y="540.84" font-size="14" text-anchor="end" font-weight="normal" fill="#000" >40</text>
<line x1="80.5" y1="514.90" x2="83" y2="514.90" stroke="#000" stroke-width="1.4"/>
<line x1="78" y1="493.96" x2="83" y2="493.96" stroke="#000" stroke-width="1.4"/>
<text x="75" y="498.96" font-size="14" text-anchor="end" font-weight="normal" fill="#000" >60</text>
<line x1="80.5" y1="473.02" x2="83" y2="473.02" stroke="#000" stroke-width="1.4"/>
<line x1="78" y1="452.08" x2="83" y2="452.08" stroke="#000" stroke-width="1.4"/>
<text x="75" y="457.08" font-size="14" text-anchor="end" font-weight="normal" fill="#000" >80</text>
<line x1="80.5" y1="431.14" x2="83" y2="431.14" stroke="#000" stroke-width="1.4"/>
<line x1="78" y1="410.20" x2="83" y2="410.20" stroke="#000" stroke-width="1.4"/>
<text x="75" y="415.20" font-size="14" text-anchor="end" font-weight="normal" fill="#000" >100</text>
<line x1="83.00" y1="629.75" x2="83.00" y2="634.75" stroke="#000" stroke-width="1.4"/>
<text x="83.00" y="649.25" font-size="14" text-anchor="middle" font-weight="normal" fill="#000" >0</text>
<line x1="121.95" y1="629.75" x2="121.95" y2="632.25" stroke="#000" stroke-width="1.4"/>
<line x1="160.90" y1="629.75" x2="160.90" y2="634.75" stroke="#000" stroke-width="1.4"/>
<text x="160.90" y="649.25" font-size="14" text-anchor="middle" font-weight="normal" fill="#000" >200</text>
<line x1="199.85" y1="629.75" x2="199.85" y2="632.25" stroke="#000" stroke-width="1.4"/>
<line x1="238.80" y1="629.75" x2="238.80" y2="634.75" stroke="#000" stroke-width="1.4"/>
<text x="238.80" y="649.25" font-size="14" text-anchor="middle" font-weight="normal" fill="#000" >400</text>
<line x1="277.75" y1="629.75" x2="277.75" y2="632.25" stroke="#000" stroke-width="1.4"/>
<line x1="316.70" y1="629.75" x2="316.70" y2="634.75" stroke="#000" stroke-width="1.4"/>
<text x="316.70" y="649.25" font-size="14" text-anchor="middle" font-weight="normal" fill="#000" >600</text>
<line x1="355.65" y1="629.75" x2="355.65" y2="632.25" stroke="#000" stroke-width="1.4"/>
<line x1="394.60" y1="629.75" x2="394.60" y2="634.75" stroke="#000" stroke-width="1.4"/>
<text x="394.60" y="649.25" font-size="14" text-anchor="middle" font-weight="normal" fill="#000" >800</text>
<text x="242.3" y="671.05" font-size="19" text-anchor="middle">Temperature (<tspan font-size="10.5" dy="-8">o</tspan><tspan dy="8">C)</tspan></text>
<text transform="translate(43.5,515.025) rotate(-90)" x="0" y="0" font-size="19" text-anchor="middle">Weight (%)</text>
<text x="20.5" y="403.5" font-size="24" text-anchor="start" font-weight="bold" fill="#000" >b</text>
<line x1="284" y1="412.4" x2="310.4" y2="412.4" stroke="#000000" stroke-width="1.6"/>
<text x="313.6" y="416.4" font-size="11">Pure BC</text>
<line x1="284" y1="426" x2="310.4" y2="426" stroke="#d01818" stroke-width="1.6"/>
<text x="313.6" y="430" font-size="11">BC-NH<tspan font-size="7.5" dy="3">4</tspan><tspan dy="-3">​</tspan>H<tspan font-size="7.5" dy="3">2</tspan><tspan dy="-3">​</tspan>PO<tspan font-size="7.5" dy="3">4</tspan><tspan dy="-3">​</tspan></text>
<line x1="284" y1="443.6" x2="310.4" y2="443.6" stroke="#0000c0" stroke-width="1.6"/>
<text x="313.6" y="447.6" font-size="11">BC-(NH<tspan font-size="7.5" dy="3">4</tspan><tspan dy="-3">​</tspan>)<tspan font-size="7.5" dy="3">2</tspan><tspan dy="-3">​</tspan>SO<tspan font-size="7.5" dy="3">4</tspan><tspan dy="-3">​</tspan></text>
<line x1="284" y1="461.2" x2="310.4" y2="461.2" stroke="#1a9090" stroke-width="1.6"/>
<text x="313.6" y="465.2" font-size="11">BC-NH<tspan font-size="7.5" dy="3">4</tspan><tspan dy="-3">​</tspan>Cl</text>
<line x1="284" y1="478.8" x2="310.4" y2="478.8" stroke="#ee10ee" stroke-width="1.6"/>
<text x="313.6" y="482.8" font-size="11">BC-(NH<tspan font-size="7.5" dy="3">4</tspan><tspan dy="-3">​</tspan>)<tspan font-size="7.5" dy="3">3</tspan><tspan dy="-3">​</tspan>PO<tspan font-size="7.5" dy="3">4</tspan><tspan dy="-3">​</tspan></text>
<line x1="284" y1="496.4" x2="310.4" y2="496.4" stroke="#8a8a20" stroke-width="1.6"/>
<text x="313.6" y="500.4" font-size="11">BC-NaH<tspan font-size="7.5" dy="3">2</tspan><tspan dy="-3">​</tspan>PO4</text>
<line x1="284" y1="514.4" x2="310.4" y2="514.4" stroke="#15157a" stroke-width="1.6"/>
<text x="313.6" y="518.4" font-size="11">BC-KH<tspan font-size="7.5" dy="3">2</tspan><tspan dy="-3">​</tspan>PO4</text>
</g>
<g>
<path d="M93.67,723.10L94.44,723.10L95.22,723.10L95.99,723.10L96.77,723.10L97.55,723.10L98.32,723.10L99.10,723.10L99.88,723.10L100.65,723.11L101.43,723.11L102.21,723.11L102.98,723.11L103.76,723.11L104.54,723.11L105.31,723.12L106.09,723.12L106.87,723.12L107.64,723.12L108.42,723.12L109.20,723.13L109.97,723.13L110.75,723.13L111.52,723.14L112.30,723.14L113.08,723.14L113.85,723.15L114.63,723.15L115.41,723.15L116.18,723.16L116.96,723.16L117.74,723.17L118.51,723.17L119.29,723.18L120.07,723.18L120.84,723.19L121.62,723.19L122.40,723.20L123.17,723.20L123.95,723.21L124.73,723.21L125.50,723.22L126.28,723.23L127.05,723.23L127.83,723.24L128.61,723.25L129.38,723.25L130.16,723.26L130.94,723.27L131.71,723.27L132.49,723.28L133.27,723.29L134.04,723.30L134.82,723.30L135.60,723.31L136.37,723.32L137.15,723.33L137.93,723.34L138.70,723.35L139.48,723.36L140.25,723.36L141.03,723.37L141.81,723.38L142.58,723.39L143.36,723.40L144.14,723.41L144.91,723.42L145.69,723.43L146.47,723.44L147.24,723.45L148.02,723.47L148.80,723.48L149.57,723.49L150.35,723.50L151.13,723.51L151.90,723.52L152.68,723.54L153.46,723.55L154.23,723.56L155.01,723.57L155.79,723.59L156.56,723.60L157.34,723.61L158.11,723.63L158.89,723.64L159.67,723.65L160.44,723.67L161.22,723.68L162.00,723.70L162.77,723.71L163.55,723.72L164.33,723.74L165.10,723.77L165.88,723.80L166.66,723.83L167.43,723.88L168.21,723.92L168.99,723.98L169.76,724.04L170.54,724.10L171.31,724.18L172.09,724.25L172.87,724.34L173.64,724.42L174.42,724.52L175.20,724.62L175.97,724.72L176.75,724.83L177.53,724.95L178.30,725.07L179.08,725.20L179.86,725.33L180.63,725.46L181.41,725.61L182.19,725.75L182.96,725.90L183.74,726.06L184.52,726.22L185.29,726.38L186.07,726.55L186.84,726.73L187.62,726.91L188.40,727.09L189.17,727.28L189.95,727.47L190.73,727.67L191.50,727.87L192.28,728.08L193.06,728.29L193.83,728.50L194.61,728.72L195.39,728.95L196.16,729.21L196.94,729.50L197.72,729.82L198.49,730.18L199.27,730.56L200.05,730.98L200.82,731.43L201.60,731.91L202.38,732.43L203.15,732.99L203.93,733.59L204.70,734.23L205.48,734.91L206.26,735.63L207.03,736.39L207.81,737.19L208.59,738.04L209.36,738.94L210.14,739.88L210.92,740.91L211.69,742.24L212.47,743.88L213.25,745.82L214.02,748.06L214.80,750.56L215.58,753.31L216.35,756.30L217.13,759.50L217.91,763.05L218.68,767.68L219.46,773.30L220.23,779.65L221.01,786.49L221.79,793.55L222.56,800.60L223.34,807.38L224.12,813.82L224.89,821.37L225.67,832.10L226.45,844.85L227.22,857.45L228.00,867.73L228.78,876.08L229.55,884.07L230.33,891.27L231.11,897.23L231.88,901.53L232.66,904.10L233.44,906.09L234.21,907.38L234.99,907.85L235.76,908.18L236.54,908.49L237.32,908.78L238.09,909.06L238.87,909.33L239.65,909.58L240.42,909.82L241.20,910.05L241.98,910.26L242.75,910.47L243.53,910.66L244.31,910.84L245.08,911.01L245.86,911.17L246.64,911.32L247.41,911.46L248.19,911.59L248.97,911.72L249.74,911.83L250.52,911.94L251.29,912.05L252.07,912.15L252.85,912.24L253.62,912.32L254.40,912.41L255.18,912.49L255.95,912.56L256.73,912.63L257.51,912.70L258.28,912.77L259.06,912.83L259.84,912.89L260.61,912.96L261.39,913.02L262.17,913.08L262.94,913.14L263.72,913.21L264.50,913.27L265.27,913.34L266.05,913.41L266.82,913.48L267.60,913.55L268.38,913.62L269.15,913.68L269.93,913.75L270.71,913.82L271.48,913.88L272.26,913.95L273.04,914.01L273.81,914.07L274.59,914.13L275.37,914.19L276.14,914.25L276.92,914.31L277.70,914.37L278.47,914.43L279.25,914.48L280.02,914.54L280.80,914.59L281.58,914.65L282.35,914.70L283.13,914.75L283.91,914.80L284.68,914.85L285.46,914.90L286.24,914.95L287.01,914.99L287.79,915.04L288.57,915.08L289.34,915.13L290.12,915.17L290.90,915.21L291.67,915.25L292.45,915.29L293.23,915.33L294.00,915.37L294.78,915.41L295.56,915.44L296.33,915.48L297.11,915.51L297.88,915.55L298.66,915.58L299.44,915.61L300.21,915.64L300.99,915.67L301.77,915.70L302.54,915.73L303.32,915.76L304.10,915.78L304.87,915.81L305.65,915.83L306.43,915.85L307.20,915.88L307.98,915.90L308.76,915.92L309.53,915.94L310.31,915.96L311.09,915.98L311.86,916.00L312.64,916.02L313.41,916.04L314.19,916.06L314.97,916.08L315.74,916.10L316.52,916.11L317.30,916.13L318.07,916.15L318.85,916.17L319.63,916.19L320.40,916.21L321.18,916.23L321.96,916.25L322.73,916.27L323.51,916.28L324.29,916.30L325.06,916.32L325.84,916.34L326.62,916.36L327.39,916.37L328.17,916.39L328.94,916.41L329.72,916.43L330.50,916.44L331.27,916.46L332.05,916.48L332.83,916.49L333.60,916.51L334.38,916.53L335.16,916.54L335.93,916.56L336.71,916.58L337.49,916.59L338.26,916.61L339.04,916.62L339.82,916.64L340.59,916.66L341.37,916.67L342.15,916.69L342.92,916.70L343.70,916.72L344.47,916.73L345.25,916.74L346.03,916.76L346.80,916.77L347.58,916.79L348.36,916.80L349.13,916.81L349.91,916.83L350.69,916.84L351.46,916.85L352.24,916.87L353.02,916.88L353.79,916.89L354.57,916.90L355.35,916.92L356.12,916.93L356.90,916.94L357.68,916.95L358.45,916.96L359.23,916.97L360.00,916.99L360.78,917.00L361.56,917.01L362.33,917.02L363.11,917.03L363.89,917.04L364.66,917.05L365.44,917.06L366.22,917.07L366.99,917.08L367.77,917.09L368.55,917.09L369.32,917.10L370.10,917.11L370.88,917.12L371.65,917.13L372.43,917.14L373.21,917.14L373.98,917.15L374.76,917.16L375.53,917.16L376.31,917.17L377.09,917.18L377.86,917.18L378.64,917.19L379.42,917.19L380.19,917.20L380.97,917.21L381.75,917.21L382.52,917.21L383.30,917.22L384.08,917.22L384.85,917.23L385.63,917.23L386.41,917.23L387.18,917.24L387.96,917.24L388.74,917.24L389.51,917.25L390.29,917.25L391.06,917.25L391.84,917.25L392.62,917.25L393.39,917.26L394.17,917.26L394.95,917.26L395.72,917.26L396.50,917.26" fill="none" stroke="#000000" stroke-width="1.6" stroke-linejoin="round"/>
<path d="M93.67,723.10L94.44,723.10L95.22,723.10L95.99,723.10L96.77,723.10L97.55,723.10L98.32,723.10L99.10,723.10L99.88,723.11L100.65,723.11L101.43,723.11L102.21,723.11L102.98,723.11L103.76,723.12L104.54,723.12L105.31,723.12L106.09,723.13L106.87,723.13L107.64,723.13L108.42,723.14L109.20,723.14L109.97,723.14L110.75,723.15L111.52,723.15L112.30,723.16L113.08,723.16L113.85,723.17L114.63,723.17L115.41,723.18L116.18,723.19L116.96,723.19L117.74,723.20L118.51,723.20L119.29,723.21L120.07,723.22L120.84,723.23L121.62,723.23L122.40,723.24L123.17,723.25L123.95,723.26L124.73,723.26L125.50,723.27L126.28,723.28L127.05,723.29L127.83,723.30L128.61,723.31L129.38,723.32L130.16,723.33L130.94,723.34L131.71,723.35L132.49,723.36L133.27,723.37L134.04,723.38L134.82,723.39L135.60,723.40L136.37,723.41L137.15,723.42L137.93,723.43L138.70,723.44L139.48,723.46L140.25,723.47L141.03,723.48L141.81,723.49L142.58,723.51L143.36,723.52L144.14,723.53L144.91,723.55L145.69,723.56L146.47,723.57L147.24,723.59L148.02,723.60L148.80,723.62L149.57,723.63L150.35,723.65L151.13,723.66L151.90,723.68L152.68,723.69L153.46,723.71L154.23,723.72L155.01,723.74L155.79,723.76L156.56,723.77L157.34,723.79L158.11,723.81L158.89,723.82L159.67,723.84L160.44,723.86L161.22,723.88L162.00,723.90L162.77,723.91L163.55,723.93L164.33,723.95L165.10,723.97L165.88,724.00L166.66,724.03L167.43,724.06L168.21,724.09L168.99,724.13L169.76,724.17L170.54,724.21L171.31,724.25L172.09,724.30L172.87,724.35L173.64,724.41L174.42,724.46L175.20,724.53L175.97,724.59L176.75,724.66L177.53,724.73L178.30,724.81L179.08,724.89L179.86,724.97L180.63,725.06L181.41,725.15L182.19,725.24L182.96,725.34L183.74,725.44L184.52,725.55L185.29,725.66L186.07,725.78L186.84,725.90L187.62,726.03L188.40,726.16L189.17,726.29L189.95,726.43L190.73,726.60L191.50,726.83L192.28,727.11L193.06,727.45L193.83,727.84L194.61,728.28L195.39,728.78L196.16,729.32L196.94,729.92L197.72,730.57L198.49,731.26L199.27,732.00L200.05,732.79L200.82,733.63L201.60,734.50L202.38,735.43L203.15,736.39L203.93,737.40L204.70,738.44L205.48,739.53L206.26,740.66L207.03,741.98L207.81,743.55L208.59,745.37L209.36,747.44L210.14,749.77L210.92,752.37L211.69,755.23L212.47,758.37L213.25,761.78L214.02,765.48L214.80,769.45L215.58,773.79L216.35,779.76L217.13,787.49L217.91,796.48L218.68,806.20L219.46,816.15L220.23,826.58L221.01,839.33L221.79,852.29L222.56,862.98L223.34,869.48L224.12,874.00L224.89,877.69L225.67,881.26L226.45,885.12L227.22,888.96L228.00,892.32L228.78,894.78L229.55,896.58L230.33,898.09L231.11,899.11L231.88,899.51L232.66,899.81L233.44,900.09L234.21,900.36L234.99,900.62L235.76,900.86L236.54,901.09L237.32,901.31L238.09,901.52L238.87,901.71L239.65,901.90L240.42,902.07L241.20,902.24L241.98,902.40L242.75,902.55L243.53,902.69L244.31,902.82L245.08,902.95L245.86,903.07L246.64,903.18L247.41,903.29L248.19,903.39L248.97,903.48L249.74,903.57L250.52,903.66L251.29,903.74L252.07,903.82L252.85,903.90L253.62,903.97L254.40,904.05L255.18,904.12L255.95,904.19L256.73,904.25L257.51,904.32L258.28,904.39L259.06,904.46L259.84,904.53L260.61,904.60L261.39,904.68L262.17,904.75L262.94,904.83L263.72,904.92L264.50,905.00L265.27,905.09L266.05,905.19L266.82,905.29L267.60,905.38L268.38,905.48L269.15,905.58L269.93,905.68L270.71,905.78L271.48,905.87L272.26,905.97L273.04,906.07L273.81,906.17L274.59,906.27L275.37,906.36L276.14,906.46L276.92,906.56L277.70,906.65L278.47,906.75L279.25,906.84L280.02,906.94L280.80,907.03L281.58,907.12L282.35,907.21L283.13,907.30L283.91,907.39L284.68,907.48L285.46,907.57L286.24,907.66L287.01,907.74L287.79,907.83L288.57,907.91L289.34,907.99L290.12,908.07L290.90,908.15L291.67,908.22L292.45,908.30L293.23,908.37L294.00,908.44L294.78,908.51L295.56,908.58L296.33,908.64L297.11,908.70L297.88,908.77L298.66,908.82L299.44,908.88L300.21,908.94L300.99,908.99L301.77,909.04L302.54,909.08L303.32,909.13L304.10,909.17L304.87,909.21L305.65,909.25L306.43,909.28L307.20,909.31L307.98,909.34L308.76,909.36L309.53,909.39L310.31,909.41L311.09,909.44L311.86,909.46L312.64,909.49L313.41,909.51L314.19,909.54L314.97,909.56L315.74,909.59L316.52,909.61L317.30,909.63L318.07,909.66L318.85,909.68L319.63,909.70L320.40,909.72L321.18,909.75L321.96,909.77L322.73,909.79L323.51,909.81L324.29,909.84L325.06,909.86L325.84,909.88L326.62,909.90L327.39,909.92L328.17,909.94L328.94,909.96L329.72,909.98L330.50,910.00L331.27,910.02L332.05,910.04L332.83,910.06L333.60,910.08L334.38,910.10L335.16,910.12L335.93,910.14L336.71,910.16L337.49,910.18L338.26,910.19L339.04,910.21L339.82,910.23L340.59,910.25L341.37,910.27L342.15,910.28L342.92,910.30L343.70,910.32L344.47,910.33L345.25,910.35L346.03,910.37L346.80,910.38L347.58,910.40L348.36,910.41L349.13,910.43L349.91,910.44L350.69,910.46L351.46,910.47L352.24,910.49L353.02,910.50L353.79,910.52L354.57,910.53L355.35,910.54L356.12,910.56L356.90,910.57L357.68,910.58L358.45,910.59L359.23,910.61L360.00,910.62L360.78,910.63L361.56,910.64L362.33,910.65L363.11,910.67L363.89,910.68L364.66,910.69L365.44,910.70L366.22,910.71L366.99,910.72L367.77,910.73L368.55,910.74L369.32,910.75L370.10,910.76L370.88,910.76L371.65,910.77L372.43,910.78L373.21,910.79L373.98,910.80L374.76,910.80L375.53,910.81L376.31,910.82L377.09,910.83L377.86,910.83L378.64,910.84L379.42,910.84L380.19,910.85L380.97,910.86L381.75,910.86L382.52,910.87L383.30,910.87L384.08,910.88L384.85,910.88L385.63,910.88L386.41,910.89L387.18,910.89L387.96,910.89L388.74,910.90L389.51,910.90L390.29,910.90L391.06,910.90L391.84,910.91L392.62,910.91L393.39,910.91L394.17,910.91L394.95,910.91L395.72,910.91L396.50,910.91" fill="none" stroke="#d81818" stroke-width="1.6" stroke-linejoin="round"/>
<path d="M93.67,723.10L94.44,723.10L95.22,723.10L95.99,723.10L96.77,723.10L97.55,723.10L98.32,723.10L99.10,723.10L99.88,723.11L100.65,723.11L101.43,723.11L102.21,723.11L102.98,723.11L103.76,723.11L104.54,723.12L105.31,723.12L106.09,723.12L106.87,723.13L107.64,723.13L108.42,723.13L109.20,723.14L109.97,723.14L110.75,723.14L111.52,723.15L112.30,723.15L113.08,723.16L113.85,723.16L114.63,723.17L115.41,723.17L116.18,723.18L116.96,723.18L117.74,723.19L118.51,723.19L119.29,723.20L120.07,723.20L120.84,723.21L121.62,723.22L122.40,723.22L123.17,723.23L123.95,723.24L124.73,723.25L125.50,723.25L126.28,723.26L127.05,723.27L127.83,723.28L128.61,723.29L129.38,723.30L130.16,723.30L130.94,723.31L131.71,723.32L132.49,723.33L133.27,723.34L134.04,723.35L134.82,723.36L135.60,723.37L136.37,723.38L137.15,723.39L137.93,723.41L138.70,723.42L139.48,723.43L140.25,723.44L141.03,723.45L141.81,723.46L142.58,723.48L143.36,723.49L144.14,723.50L144.91,723.52L145.69,723.53L146.47,723.54L147.24,723.56L148.02,723.57L148.80,723.58L149.57,723.60L150.35,723.61L151.13,723.63L151.90,723.64L152.68,723.66L153.46,723.68L154.23,723.69L155.01,723.71L155.79,723.72L156.56,723.74L157.34,723.77L158.11,723.79L158.89,723.83L159.67,723.86L160.44,723.91L161.22,723.95L162.00,724.00L162.77,724.06L163.55,724.12L164.33,724.19L165.10,724.26L165.88,724.34L166.66,724.42L167.43,724.51L168.21,724.61L168.99,724.71L169.76,724.81L170.54,724.93L171.31,725.04L172.09,725.17L172.87,725.30L173.64,725.43L174.42,725.58L175.20,725.72L175.97,725.88L176.75,726.04L177.53,726.21L178.30,726.38L179.08,726.59L179.86,726.87L180.63,727.24L181.41,727.68L182.19,728.21L182.96,728.83L183.74,729.52L184.52,730.30L185.29,731.16L186.07,732.11L186.84,733.14L187.62,734.25L188.40,735.44L189.17,736.72L189.95,738.08L190.73,739.52L191.50,741.05L192.28,742.66L193.06,744.86L193.83,748.04L194.61,752.06L195.39,756.75L196.16,761.96L196.94,767.53L197.72,773.30L198.49,779.13L199.27,784.85L200.05,791.12L200.82,798.12L201.60,805.41L202.38,812.57L203.15,819.16L203.93,824.90L204.70,830.16L205.48,835.41L206.26,841.22L207.03,848.69L207.81,855.38L208.59,858.50L209.36,860.38L210.14,861.79L210.92,862.91L211.69,863.93L212.47,864.92L213.25,865.85L214.02,866.72L214.80,867.51L215.58,868.22L216.35,868.82L217.13,869.32L217.91,869.71L218.68,870.04L219.46,870.35L220.23,870.63L221.01,870.89L221.79,871.13L222.56,871.35L223.34,871.56L224.12,871.76L224.89,871.94L225.67,872.11L226.45,872.28L227.22,872.45L228.00,872.61L228.78,872.77L229.55,872.93L230.33,873.10L231.11,873.28L231.88,873.46L232.66,873.66L233.44,873.87L234.21,874.08L234.99,874.30L235.76,874.51L236.54,874.73L237.32,874.95L238.09,875.17L238.87,875.39L239.65,875.61L240.42,875.83L241.20,876.06L241.98,876.28L242.75,876.51L243.53,876.73L244.31,876.95L245.08,877.18L245.86,877.40L246.64,877.63L247.41,877.85L248.19,878.08L248.97,878.30L249.74,878.52L250.52,878.74L251.29,878.96L252.07,879.18L252.85,879.39L253.62,879.61L254.40,879.82L255.18,880.03L255.95,880.24L256.73,880.45L257.51,880.65L258.28,880.86L259.06,881.06L259.84,881.25L260.61,881.45L261.39,881.64L262.17,881.83L262.94,882.01L263.72,882.19L264.50,882.37L265.27,882.54L266.05,882.71L266.82,882.88L267.60,883.05L268.38,883.21L269.15,883.38L269.93,883.55L270.71,883.71L271.48,883.88L272.26,884.04L273.04,884.20L273.81,884.37L274.59,884.53L275.37,884.69L276.14,884.85L276.92,885.01L277.70,885.17L278.47,885.33L279.25,885.48L280.02,885.64L280.80,885.79L281.58,885.94L282.35,886.10L283.13,886.25L283.91,886.40L284.68,886.54L285.46,886.69L286.24,886.84L287.01,886.98L287.79,887.12L288.57,887.26L289.34,887.40L290.12,887.54L290.90,887.68L291.67,887.81L292.45,887.94L293.23,888.07L294.00,888.20L294.78,888.33L295.56,888.46L296.33,888.58L297.11,888.70L297.88,888.82L298.66,888.94L299.44,889.05L300.21,889.17L300.99,889.28L301.77,889.38L302.54,889.49L303.32,889.60L304.10,889.70L304.87,889.80L305.65,889.89L306.43,889.99L307.20,890.08L307.98,890.17L308.76,890.26L309.53,890.34L310.31,890.43L311.09,890.51L311.86,890.60L312.64,890.68L313.41,890.76L314.19,890.84L314.97,890.92L315.74,891.00L316.52,891.08L317.30,891.16L318.07,891.24L318.85,891.31L319.63,891.39L320.40,891.46L321.18,891.54L321.96,891.61L322.73,891.68L323.51,891.75L324.29,891.82L325.06,891.89L325.84,891.96L326.62,892.02L327.39,892.09L328.17,892.16L328.94,892.22L329.72,892.28L330.50,892.35L331.27,892.41L332.05,892.47L332.83,892.53L333.60,892.59L334.38,892.65L335.16,892.70L335.93,892.76L336.71,892.81L337.49,892.87L338.26,892.92L339.04,892.97L339.82,893.02L340.59,893.07L341.37,893.12L342.15,893.17L342.92,893.22L343.70,893.26L344.47,893.31L345.25,893.35L346.03,893.39L346.80,893.43L347.58,893.48L348.36,893.51L349.13,893.55L349.91,893.59L350.69,893.63L351.46,893.67L352.24,893.71L353.02,893.74L353.79,893.78L354.57,893.82L355.35,893.86L356.12,893.89L356.90,893.93L357.68,893.97L358.45,894.00L359.23,894.04L360.00,894.07L360.78,894.11L361.56,894.15L362.33,894.18L363.11,894.22L363.89,894.25L364.66,894.28L365.44,894.32L366.22,894.35L366.99,894.38L367.77,894.42L368.55,894.45L369.32,894.48L370.10,894.51L370.88,894.54L371.65,894.57L372.43,894.60L373.21,894.63L373.98,894.66L374.76,894.69L375.53,894.71L376.31,894.74L377.09,894.77L377.86,894.79L378.64,894.82L379.42,894.84L380.19,894.87L380.97,894.89L381.75,894.91L382.52,894.93L383.30,894.95L384.08,894.98L384.85,895.00L385.63,895.01L386.41,895.03L387.18,895.05L387.96,895.07L388.74,895.08L389.51,895.10L390.29,895.11L391.06,895.13L391.84,895.14L392.62,895.15L393.39,895.16L394.17,895.17L394.95,895.18L395.72,895.19L396.50,895.20" fill="none" stroke="#0a14c8" stroke-width="1.6" stroke-linejoin="round"/>
<path d="M93.67,723.10L94.44,723.10L95.22,723.10L95.99,723.10L96.77,723.10L97.55,723.10L98.32,723.10L99.10,723.10L99.88,723.11L100.65,723.11L101.43,723.11L102.21,723.11L102.98,723.11L103.76,723.11L104.54,723.12L105.31,723.12L106.09,723.12L106.87,723.12L107.64,723.13L108.42,723.13L109.20,723.13L109.97,723.14L110.75,723.14L111.52,723.15L112.30,723.15L113.08,723.15L113.85,723.16L114.63,723.16L115.41,723.17L116.18,723.17L116.96,723.18L117.74,723.19L118.51,723.19L119.29,723.20L120.07,723.20L120.84,723.21L121.62,723.22L122.40,723.22L123.17,723.23L123.95,723.24L124.73,723.24L125.50,723.25L126.28,723.26L127.05,723.27L127.83,723.28L128.61,723.28L129.38,723.29L130.16,723.30L130.94,723.31L131.71,723.32L132.49,723.33L133.27,723.34L134.04,723.35L134.82,723.36L135.60,723.37L136.37,723.38L137.15,723.39L137.93,723.40L138.70,723.41L139.48,723.43L140.25,723.44L141.03,723.45L141.81,723.46L142.58,723.47L143.36,723.49L144.14,723.50L144.91,723.51L145.69,723.53L146.47,723.54L147.24,723.55L148.02,723.57L148.80,723.58L149.57,723.60L150.35,723.61L151.13,723.63L151.90,723.64L152.68,723.66L153.46,723.68L154.23,723.69L155.01,723.71L155.79,723.72L156.56,723.74L157.34,723.77L158.11,723.80L158.89,723.84L159.67,723.88L160.44,723.93L161.22,723.99L162.00,724.05L162.77,724.12L163.55,724.19L164.33,724.27L165.10,724.36L165.88,724.45L166.66,724.55L167.43,724.66L168.21,724.77L168.99,724.89L169.76,725.01L170.54,725.14L171.31,725.28L172.09,725.42L172.87,725.57L173.64,725.73L174.42,725.89L175.20,726.06L175.97,726.23L176.75,726.41L177.53,726.60L178.30,726.80L179.08,727.01L179.86,727.27L180.63,727.59L181.41,727.97L182.19,728.41L182.96,728.90L183.74,729.46L184.52,730.08L185.29,730.77L186.07,731.53L186.84,732.36L187.62,733.26L188.40,734.24L189.17,735.29L189.95,736.42L190.73,737.63L191.50,738.92L192.28,740.30L193.06,741.76L193.83,743.31L194.61,744.95L195.39,747.41L196.16,751.27L196.94,756.29L197.72,762.23L198.49,768.86L199.27,775.93L200.05,783.20L200.82,790.45L201.60,797.53L202.38,805.70L203.15,813.64L203.93,820.22L204.70,826.33L205.48,831.63L206.26,835.79L207.03,839.49L207.81,842.95L208.59,846.01L209.36,848.52L210.14,850.32L210.92,851.31L211.69,852.02L212.47,852.69L213.25,853.31L214.02,853.89L214.80,854.42L215.58,854.92L216.35,855.39L217.13,855.82L217.91,856.22L218.68,856.59L219.46,856.93L220.23,857.26L221.01,857.56L221.79,857.84L222.56,858.10L223.34,858.35L224.12,858.59L224.89,858.82L225.67,859.04L226.45,859.26L227.22,859.48L228.00,859.70L228.78,859.92L229.55,860.14L230.33,860.37L231.11,860.61L231.88,860.87L232.66,861.14L233.44,861.42L234.21,861.70L234.99,861.98L235.76,862.26L236.54,862.54L237.32,862.81L238.09,863.08L238.87,863.35L239.65,863.61L240.42,863.87L241.20,864.13L241.98,864.39L242.75,864.64L243.53,864.89L244.31,865.14L245.08,865.39L245.86,865.63L246.64,865.87L247.41,866.11L248.19,866.35L248.97,866.58L249.74,866.82L250.52,867.05L251.29,867.27L252.07,867.50L252.85,867.73L253.62,867.95L254.40,868.17L255.18,868.39L255.95,868.60L256.73,868.82L257.51,869.03L258.28,869.24L259.06,869.45L259.84,869.66L260.61,869.87L261.39,870.07L262.17,870.27L262.94,870.48L263.72,870.68L264.50,870.87L265.27,871.07L266.05,871.27L266.82,871.46L267.60,871.66L268.38,871.85L269.15,872.04L269.93,872.24L270.71,872.43L271.48,872.62L272.26,872.81L273.04,873.01L273.81,873.20L274.59,873.38L275.37,873.57L276.14,873.76L276.92,873.95L277.70,874.13L278.47,874.32L279.25,874.50L280.02,874.69L280.80,874.87L281.58,875.05L282.35,875.23L283.13,875.41L283.91,875.58L284.68,875.76L285.46,875.93L286.24,876.11L287.01,876.28L287.79,876.45L288.57,876.62L289.34,876.78L290.12,876.95L290.90,877.11L291.67,877.27L292.45,877.43L293.23,877.59L294.00,877.75L294.78,877.90L295.56,878.05L296.33,878.20L297.11,878.35L297.88,878.50L298.66,878.64L299.44,878.78L300.21,878.92L300.99,879.06L301.77,879.19L302.54,879.32L303.32,879.45L304.10,879.58L304.87,879.70L305.65,879.82L306.43,879.94L307.20,880.06L307.98,880.17L308.76,880.28L309.53,880.39L310.31,880.50L311.09,880.61L311.86,880.72L312.64,880.83L313.41,880.94L314.19,881.05L314.97,881.15L315.74,881.26L316.52,881.37L317.30,881.47L318.07,881.57L318.85,881.68L319.63,881.78L320.40,881.88L321.18,881.98L321.96,882.08L322.73,882.18L323.51,882.28L324.29,882.37L325.06,882.47L325.84,882.56L326.62,882.66L327.39,882.75L328.17,882.84L328.94,882.93L329.72,883.01L330.50,883.10L331.27,883.18L332.05,883.27L332.83,883.35L333.60,883.43L334.38,883.50L335.16,883.58L335.93,883.66L336.71,883.73L337.49,883.80L338.26,883.87L339.04,883.93L339.82,884.00L340.59,884.06L341.37,884.12L342.15,884.18L342.92,884.24L343.70,884.29L344.47,884.34L345.25,884.39L346.03,884.44L346.80,884.48L347.58,884.53L348.36,884.57L349.13,884.60L349.91,884.64L350.69,884.68L351.46,884.72L352.24,884.75L353.02,884.79L353.79,884.83L354.57,884.86L355.35,884.90L356.12,884.93L356.90,884.97L357.68,885.00L358.45,885.04L359.23,885.07L360.00,885.11L360.78,885.14L361.56,885.18L362.33,885.21L363.11,885.24L363.89,885.27L364.66,885.31L365.44,885.34L366.22,885.37L366.99,885.40L367.77,885.43L368.55,885.46L369.32,885.49L370.10,885.51L370.88,885.54L371.65,885.57L372.43,885.60L373.21,885.62L373.98,885.65L374.76,885.67L375.53,885.70L376.31,885.72L377.09,885.74L377.86,885.76L378.64,885.79L379.42,885.81L380.19,885.83L380.97,885.85L381.75,885.86L382.52,885.88L383.30,885.90L384.08,885.91L384.85,885.93L385.63,885.94L386.41,885.96L387.18,885.97L387.96,885.98L388.74,885.99L389.51,886.00L390.29,886.01L391.06,886.02L391.84,886.02L392.62,886.03L393.39,886.03L394.17,886.04L394.95,886.04L395.72,886.04L396.50,886.04" fill="none" stroke="#157575" stroke-width="1.6" stroke-linejoin="round"/>
<path d="M93.67,723.10L94.44,723.10L95.22,723.10L95.99,723.10L96.77,723.10L97.55,723.10L98.32,723.10L99.10,723.10L99.88,723.11L100.65,723.11L101.43,723.11L102.21,723.11L102.98,723.11L103.76,723.11L104.54,723.12L105.31,723.12L106.09,723.12L106.87,723.12L107.64,723.13L108.42,723.13L109.20,723.13L109.97,723.14L110.75,723.14L111.52,723.14L112.30,723.15L113.08,723.15L113.85,723.16L114.63,723.16L115.41,723.17L116.18,723.17L116.96,723.18L117.74,723.18L118.51,723.19L119.29,723.20L120.07,723.20L120.84,723.21L121.62,723.22L122.40,723.22L123.17,723.23L123.95,723.24L124.73,723.24L125.50,723.25L126.28,723.26L127.05,723.27L127.83,723.28L128.61,723.29L129.38,723.30L130.16,723.30L130.94,723.31L131.71,723.32L132.49,723.33L133.27,723.34L134.04,723.35L134.82,723.37L135.60,723.38L136.37,723.39L137.15,723.40L137.93,723.41L138.70,723.42L139.48,723.44L140.25,723.45L141.03,723.46L141.81,723.47L142.58,723.49L143.36,723.50L144.14,723.52L144.91,723.54L145.69,723.57L146.47,723.62L147.24,723.67L148.02,723.74L148.80,723.82L149.57,723.92L150.35,724.02L151.13,724.13L151.90,724.26L152.68,724.39L153.46,724.54L154.23,724.70L155.01,724.86L155.79,725.04L156.56,725.22L157.34,725.42L158.11,725.62L158.89,725.83L159.67,726.05L160.44,726.28L161.22,726.51L162.00,726.75L162.77,727.00L163.55,727.26L164.33,727.56L165.10,727.92L165.88,728.34L166.66,728.83L167.43,729.38L168.21,729.99L168.99,730.65L169.76,731.38L170.54,732.16L171.31,732.99L172.09,733.87L172.87,734.81L173.64,735.79L174.42,736.89L175.20,738.17L175.97,739.63L176.75,741.27L177.53,743.10L178.30,745.11L179.08,747.31L179.86,749.70L180.63,752.28L181.41,755.05L182.19,758.02L182.96,761.18L183.74,765.41L184.52,771.13L185.29,777.68L186.07,784.40L186.84,790.64L187.62,795.73L188.40,800.05L189.17,804.37L189.95,808.57L190.73,812.56L191.50,816.23L192.28,819.48L193.06,822.21L193.83,824.32L194.61,825.69L195.39,826.59L196.16,827.35L196.94,827.99L197.72,828.53L198.49,829.01L199.27,829.44L200.05,829.86L200.82,830.26L201.60,830.66L202.38,831.04L203.15,831.42L203.93,831.78L204.70,832.14L205.48,832.49L206.26,832.83L207.03,833.16L207.81,833.48L208.59,833.80L209.36,834.11L210.14,834.41L210.92,834.70L211.69,834.99L212.47,835.27L213.25,835.54L214.02,835.81L214.80,836.08L215.58,836.34L216.35,836.59L217.13,836.84L217.91,837.09L218.68,837.33L219.46,837.57L220.23,837.81L221.01,838.04L221.79,838.27L222.56,838.50L223.34,838.72L224.12,838.95L224.89,839.17L225.67,839.39L226.45,839.61L227.22,839.83L228.00,840.06L228.78,840.28L229.55,840.50L230.33,840.72L231.11,840.94L231.88,841.17L232.66,841.39L233.44,841.62L234.21,841.85L234.99,842.08L235.76,842.30L236.54,842.53L237.32,842.75L238.09,842.97L238.87,843.19L239.65,843.41L240.42,843.63L241.20,843.85L241.98,844.06L242.75,844.27L243.53,844.49L244.31,844.70L245.08,844.91L245.86,845.11L246.64,845.32L247.41,845.52L248.19,845.73L248.97,845.93L249.74,846.13L250.52,846.32L251.29,846.52L252.07,846.71L252.85,846.90L253.62,847.09L254.40,847.28L255.18,847.47L255.95,847.65L256.73,847.83L257.51,848.01L258.28,848.19L259.06,848.36L259.84,848.54L260.61,848.71L261.39,848.88L262.17,849.04L262.94,849.20L263.72,849.37L264.50,849.52L265.27,849.68L266.05,849.83L266.82,849.98L267.60,850.13L268.38,850.28L269.15,850.43L269.93,850.57L270.71,850.72L271.48,850.86L272.26,851.00L273.04,851.14L273.81,851.28L274.59,851.42L275.37,851.55L276.14,851.69L276.92,851.82L277.70,851.96L278.47,852.09L279.25,852.22L280.02,852.35L280.80,852.47L281.58,852.60L282.35,852.73L283.13,852.85L283.91,852.97L284.68,853.10L285.46,853.22L286.24,853.34L287.01,853.46L287.79,853.58L288.57,853.70L289.34,853.81L290.12,853.93L290.90,854.05L291.67,854.16L292.45,854.28L293.23,854.39L294.00,854.50L294.78,854.62L295.56,854.73L296.33,854.84L297.11,854.95L297.88,855.06L298.66,855.17L299.44,855.28L300.21,855.39L300.99,855.49L301.77,855.60L302.54,855.71L303.32,855.82L304.10,855.92L304.87,856.03L305.65,856.13L306.43,856.24L307.20,856.35L307.98,856.45L308.76,856.55L309.53,856.66L310.31,856.76L311.09,856.86L311.86,856.97L312.64,857.07L313.41,857.17L314.19,857.27L314.97,857.37L315.74,857.46L316.52,857.56L317.30,857.66L318.07,857.76L318.85,857.85L319.63,857.95L320.40,858.04L321.18,858.14L321.96,858.23L322.73,858.32L323.51,858.42L324.29,858.51L325.06,858.60L325.84,858.69L326.62,858.78L327.39,858.87L328.17,858.97L328.94,859.06L329.72,859.14L330.50,859.23L331.27,859.32L332.05,859.41L332.83,859.50L333.60,859.59L334.38,859.68L335.16,859.76L335.93,859.85L336.71,859.94L337.49,860.03L338.26,860.11L339.04,860.20L339.82,860.29L340.59,860.37L341.37,860.46L342.15,860.55L342.92,860.63L343.70,860.72L344.47,860.80L345.25,860.89L346.03,860.98L346.80,861.06L347.58,861.15L348.36,861.24L349.13,861.32L349.91,861.41L350.69,861.49L351.46,861.58L352.24,861.67L353.02,861.75L353.79,861.84L354.57,861.92L355.35,862.01L356.12,862.09L356.90,862.18L357.68,862.26L358.45,862.35L359.23,862.43L360.00,862.51L360.78,862.60L361.56,862.68L362.33,862.77L363.11,862.85L363.89,862.93L364.66,863.02L365.44,863.10L366.22,863.18L366.99,863.27L367.77,863.35L368.55,863.43L369.32,863.51L370.10,863.59L370.88,863.68L371.65,863.76L372.43,863.84L373.21,863.92L373.98,864.00L374.76,864.08L375.53,864.16L376.31,864.24L377.09,864.32L377.86,864.40L378.64,864.48L379.42,864.56L380.19,864.64L380.97,864.72L381.75,864.80L382.52,864.88L383.30,864.96L384.08,865.04L384.85,865.12L385.63,865.20L386.41,865.27L387.18,865.35L387.96,865.43L388.74,865.51L389.51,865.59L390.29,865.66L391.06,865.74L391.84,865.82L392.62,865.89L393.39,865.97L394.17,866.05L394.95,866.12L395.72,866.20L396.50,866.27" fill="none" stroke="#d020d8" stroke-width="1.6" stroke-linejoin="round"/>
<rect x="85.9" y="712.6" width="311.1" height="229.89999999999998" fill="none" stroke="#000" stroke-width="1.6"/>
<line x1="80.9" y1="931.20" x2="85.9" y2="931.20" stroke="#000" stroke-width="1.4"/>
<text x="77.9" y="936.20" font-size="14" text-anchor="end" font-weight="normal" fill="#000" >0</text>
<line x1="83.4" y1="910.39" x2="85.9" y2="910.39" stroke="#000" stroke-width="1.4"/>
<line x1="80.9" y1="889.58" x2="85.9" y2="889.58" stroke="#000" stroke-width="1.4"/>
<text x="77.9" y="894.58" font-size="14" text-anchor="end" font-weight="normal" fill="#000" >20</text>
<line x1="83.4" y1="868.77" x2="85.9" y2="868.77" stroke="#000" stroke-width="1.4"/>
<line x1="80.9" y1="847.96" x2="85.9" y2="847.96" stroke="#000" stroke-width="1.4"/>
<text x="77.9" y="852.96" font-size="14" text-anchor="end" font-weight="normal" fill="#000" >40</text>
<line x1="83.4" y1="827.15" x2="85.9" y2="827.15" stroke="#000" stroke-width="1.4"/>
<line x1="80.9" y1="806.34" x2="85.9" y2="806.34" stroke="#000" stroke-width="1.4"/>
<text x="77.9" y="811.34" font-size="14" text-anchor="end" font-weight="normal" fill="#000" >60</text>
<line x1="83.4" y1="785.53" x2="85.9" y2="785.53" stroke="#000" stroke-width="1.4"/>
<line x1="80.9" y1="764.72" x2="85.9" y2="764.72" stroke="#000" stroke-width="1.4"/>
<text x="77.9" y="769.72" font-size="14" text-anchor="end" font-weight="normal" fill="#000" >80</text>
<line x1="83.4" y1="743.91" x2="85.9" y2="743.91" stroke="#000" stroke-width="1.4"/>
<line x1="80.9" y1="723.10" x2="85.9" y2="723.10" stroke="#000" stroke-width="1.4"/>
<text x="77.9" y="728.10" font-size="14" text-anchor="end" font-weight="normal" fill="#000" >100</text>
<line x1="85.90" y1="942.5" x2="85.90" y2="947.5" stroke="#000" stroke-width="1.4"/>
<text x="85.90" y="962.0" font-size="14" text-anchor="middle" font-weight="normal" fill="#000" >0</text>
<line x1="124.73" y1="942.5" x2="124.73" y2="945.0" stroke="#000" stroke-width="1.4"/>
<line x1="163.55" y1="942.5" x2="163.55" y2="947.5" stroke="#000" stroke-width="1.4"/>
<text x="163.55" y="962.0" font-size="14" text-anchor="middle" font-weight="normal" fill="#000" >200</text>
<line x1="202.38" y1="942.5" x2="202.38" y2="945.0" stroke="#000" stroke-width="1.4"/>
<line x1="241.20" y1="942.5" x2="241.20" y2="947.5" stroke="#000" stroke-width="1.4"/>
<text x="241.20" y="962.0" font-size="14" text-anchor="middle" font-weight="normal" fill="#000" >400</text>
<line x1="280.02" y1="942.5" x2="280.02" y2="945.0" stroke="#000" stroke-width="1.4"/>
<line x1="318.85" y1="942.5" x2="318.85" y2="947.5" stroke="#000" stroke-width="1.4"/>
<text x="318.85" y="962.0" font-size="14" text-anchor="middle" font-weight="normal" fill="#000" >600</text>
<line x1="357.68" y1="942.5" x2="357.68" y2="945.0" stroke="#000" stroke-width="1.4"/>
<line x1="396.50" y1="942.5" x2="396.50" y2="947.5" stroke="#000" stroke-width="1.4"/>
<text x="396.50" y="962.0" font-size="14" text-anchor="middle" font-weight="normal" fill="#000" >800</text>
<text x="245.20000000000002" y="983.8" font-size="19" text-anchor="middle">Temperature (<tspan font-size="10.5" dy="-8">o</tspan><tspan dy="8">C)</tspan></text>
<text transform="translate(46.400000000000006,827.55) rotate(-90)" x="0" y="0" font-size="19" text-anchor="middle">Weight (%)</text>
<text x="19.5" y="712.5" font-size="24" text-anchor="start" font-weight="bold" fill="#000" >c</text>
<line x1="254.3" y1="726.9" x2="280.7" y2="726.9" stroke="#000000" stroke-width="1.6"/>
<text x="283.6" y="730.9" font-size="11">Pure BC</text>
<line x1="254.3" y1="740.4" x2="280.7" y2="740.4" stroke="#d81818" stroke-width="1.6"/>
<text x="283.6" y="744.4" font-size="11">0.1 wt% NH<tspan font-size="7.5" dy="3">4</tspan><tspan dy="-3">​</tspan>H<tspan font-size="7.5" dy="3">2</tspan><tspan dy="-3">​</tspan>PO<tspan font-size="7.5" dy="3">4</tspan><tspan dy="-3">​</tspan></text>
<line x1="254.3" y1="758.3" x2="280.7" y2="758.3" stroke="#0a14c8" stroke-width="1.6"/>
<text x="283.6" y="762.3" font-size="11">1.2 wt% NH<tspan font-size="7.5" dy="3">4</tspan><tspan dy="-3">​</tspan>H<tspan font-size="7.5" dy="3">2</tspan><tspan dy="-3">​</tspan>PO<tspan font-size="7.5" dy="3">4</tspan><tspan dy="-3">​</tspan></text>
<line x1="254.3" y1="776.1" x2="280.7" y2="776.1" stroke="#157575" stroke-width="1.6"/>
<text x="283.6" y="780.1" font-size="11">5.4 wt% NH<tspan font-size="7.5" dy="3">4</tspan><tspan dy="-3">​</tspan>H<tspan font-size="7.5" dy="3">2</tspan><tspan dy="-3">​</tspan>PO<tspan font-size="7.5" dy="3">4</tspan><tspan dy="-3">​</tspan></text>
<line x1="254.3" y1="793.7" x2="280.7" y2="793.7" stroke="#d020d8" stroke-width="1.6"/>
<text x="283.6" y="797.7" font-size="11">10.3 wt% NH<tspan font-size="7.5" dy="3">4</tspan><tspan dy="-3">​</tspan>H<tspan font-size="7.5" dy="3">2</tspan><tspan dy="-3">​</tspan>PO<tspan font-size="7.5" dy="3">4</tspan><tspan dy="-3">​</tspan></text>
<line x1="308.2" y1="923" x2="308.2" y2="849.5" stroke="#e0902a" stroke-width="1.5" stroke-dasharray="4,3"/>
<path d="M305.0,850.5 L308.2,842.5 L311.4,850.5 Z" fill="#e0902a"/>
</g>
<g>
<rect x="519.30" y="620.94" width="14.6" height="9.66" fill="#0000f5"/>
<rect x="536.40" y="619.33" width="14.6" height="11.27" fill="#ff8000"/>
<text x="532.5" y="647.6" font-size="11.5" text-anchor="middle" font-weight="bold" fill="#000" >BC</text>
<rect x="569.75" y="596.10" width="14.6" height="34.50" fill="#0000f5"/>
<rect x="586.85" y="560.45" width="14.6" height="70.15" fill="#ff8000"/>
<text x="588.2" y="647.6" font-size="11.5" text-anchor="middle" font-weight="bold" fill="#000" >0.5%</text>
<rect x="620.20" y="568.04" width="14.6" height="62.56" fill="#0000f5"/>
<rect x="637.30" y="499.04" width="14.6" height="131.56" fill="#ff8000"/>
<text x="635" y="647.6" font-size="11.5" text-anchor="middle" font-weight="bold" fill="#000" >4.8%</text>
<rect x="670.65" y="554.01" width="14.6" height="76.59" fill="#0000f5"/>
<rect x="687.75" y="499.73" width="14.6" height="130.87" fill="#ff8000"/>
<text x="685.2" y="647.6" font-size="11.5" text-anchor="middle" font-weight="bold" fill="#000" >16%</text>
<rect x="721.10" y="526.64" width="14.6" height="103.96" fill="#0000f5"/>
<rect x="738.20" y="530.55" width="14.6" height="100.05" fill="#ff8000"/>
<text x="737.7" y="647.6" font-size="11.5" text-anchor="middle" font-weight="bold" fill="#000" >44%</text>
<rect x="771.55" y="521.35" width="14.6" height="109.25" fill="#0000f5"/>
<rect x="788.65" y="583.91" width="14.6" height="46.69" fill="#ff8000"/>
<text x="787.8" y="647.6" font-size="11.5" text-anchor="middle" font-weight="bold" fill="#000" >62%</text>
<rect x="506" y="400.6" width="311" height="230.0" fill="none" stroke="#000" stroke-width="1.8"/>
<line x1="500.5" y1="630.60" x2="506" y2="630.60" stroke="#000" stroke-width="1.5"/>
<text x="496.4" y="635.70" font-size="17.5" text-anchor="end" font-weight="normal" fill="#000" >0</text>
<line x1="503" y1="607.60" x2="506" y2="607.60" stroke="#000" stroke-width="1.5"/>
<line x1="500.5" y1="584.60" x2="506" y2="584.60" stroke="#000" stroke-width="1.5"/>
<text x="496.4" y="589.70" font-size="17.5" text-anchor="end" font-weight="normal" fill="#000" >20</text>
<line x1="503" y1="561.60" x2="506" y2="561.60" stroke="#000" stroke-width="1.5"/>
<line x1="500.5" y1="538.60" x2="506" y2="538.60" stroke="#000" stroke-width="1.5"/>
<text x="496.4" y="543.70" font-size="17.5" text-anchor="end" font-weight="normal" fill="#000" >40</text>
<line x1="503" y1="515.60" x2="506" y2="515.60" stroke="#000" stroke-width="1.5"/>
<line x1="500.5" y1="492.60" x2="506" y2="492.60" stroke="#000" stroke-width="1.5"/>
<text x="496.4" y="497.70" font-size="17.5" text-anchor="end" font-weight="normal" fill="#000" >60</text>
<line x1="503" y1="469.60" x2="506" y2="469.60" stroke="#000" stroke-width="1.5"/>
<line x1="500.5" y1="446.60" x2="506" y2="446.60" stroke="#000" stroke-width="1.5"/>
<text x="496.4" y="451.70" font-size="17.5" text-anchor="end" font-weight="normal" fill="#000" >80</text>
<line x1="503" y1="423.60" x2="506" y2="423.60" stroke="#000" stroke-width="1.5"/>
<line x1="500.5" y1="400.60" x2="506" y2="400.60" stroke="#000" stroke-width="1.5"/>
<text x="496.4" y="405.70" font-size="17.5" text-anchor="end" font-weight="normal" fill="#000" >100</text>
<text transform="translate(462.5,503.2) rotate(-90)" font-size="19" text-anchor="middle">Product remain (%)</text>
<text x="428.5" y="403.5" font-size="24" text-anchor="start" font-weight="bold" fill="#000" >d</text>
<rect x="511" y="406.3" width="32" height="12.2" fill="#0000f5"/>
<rect x="511" y="424.3" width="32" height="12.4" fill="#ff8000"/>
<text x="547.3" y="417.5" font-size="14.3" text-anchor="start" font-weight="normal" fill="#000" >Weight remain</text>
<text x="547.3" y="435" font-size="14.3" text-anchor="start" font-weight="normal" fill="#000" >Volume remain</text>
</g>
<g>
<rect x="513.2" y="912.11" width="15.7" height="39.69" fill="#0000f0"/>
<rect x="677.3" y="893.3" width="15.8" height="58.50" fill="#ff8505"/>
<rect x="540.6" y="906.98" width="15.7" height="44.82" fill="#0000f0"/>
<rect x="705.1" y="882.7" width="15.8" height="69.10" fill="#ff8505"/>
<rect x="568.0" y="900.23" width="15.7" height="51.57" fill="#0000f0"/>
<rect x="732.2" y="866.4" width="15.8" height="85.40" fill="#ff8505"/>
<rect x="595.2" y="836.78" width="15.7" height="115.02" fill="#0000f0"/>
<rect x="760.0" y="861.3" width="15.8" height="90.50" fill="#ff8505"/>
<rect x="623.1" y="785.75" width="15.7" height="166.05" fill="#0000f0"/>
<rect x="787.3" y="801.7" width="15.8" height="150.10" fill="#ff8505"/>
<path d="M521.05,906.3 V917.2 M518.05,906.3 H524.05 M518.05,917.2 H524.05" stroke="#000" stroke-width="1.6" fill="none"/>
<path d="M548.45,899.5 V913.1 M545.45,899.5 H551.45 M545.45,913.1 H551.45" stroke="#000" stroke-width="1.6" fill="none"/>
<path d="M575.85,895.4 V904.1 M572.85,895.4 H578.85 M572.85,904.1 H578.85" stroke="#000" stroke-width="1.6" fill="none"/>
<path d="M603.05,825.7 V846.8 M600.05,825.7 H606.05 M600.05,846.8 H606.05" stroke="#000" stroke-width="1.6" fill="none"/>
<path d="M630.95,758 V812.2 M627.95,758 H633.95 M627.95,812.2 H633.95" stroke="#000" stroke-width="1.6" fill="none"/>
<path d="M685.20,890.9 V894.9 M682.20,890.9 H688.20 M682.20,894.9 H688.20" stroke="#000" stroke-width="1.6" fill="none"/>
<path d="M713.00,875.5 V888.7 M710.00,875.5 H716.00 M710.00,888.7 H716.00" stroke="#000" stroke-width="1.6" fill="none"/>
<path d="M740.10,857.3 V874.5 M737.10,857.3 H743.10 M737.10,874.5 H743.10" stroke="#000" stroke-width="1.6" fill="none"/>
<path d="M767.90,851.3 V870 M764.90,851.3 H770.90 M764.90,870 H770.90" stroke="#000" stroke-width="1.6" fill="none"/>
<path d="M795.20,781.3 V821.5 M792.20,781.3 H798.20 M792.20,821.5 H798.20" stroke="#000" stroke-width="1.6" fill="none"/>
<text x="519.3" y="966.8" font-size="11.6" text-anchor="middle" font-weight="bold" fill="#000" >0.5%</text>
<text x="549.0" y="966.8" font-size="11.6" text-anchor="middle" font-weight="bold" fill="#000" >4.8%</text>
<text x="576.5" y="966.8" font-size="11.6" text-anchor="middle" font-weight="bold" fill="#000" >16%</text>
<text x="604.4" y="966.8" font-size="11.6" text-anchor="middle" font-weight="bold" fill="#000" >44%</text>
<text x="632.0" y="966.8" font-size="11.6" text-anchor="middle" font-weight="bold" fill="#000" >62%</text>
<text x="685.5" y="966.8" font-size="11.6" text-anchor="middle" font-weight="bold" fill="#000" >0.5%</text>
<text x="713.9" y="966.8" font-size="11.6" text-anchor="middle" font-weight="bold" fill="#000" >4.8%</text>
<text x="742.0" y="966.8" font-size="11.6" text-anchor="middle" font-weight="bold" fill="#000" >16%</text>
<text x="770.0" y="966.8" font-size="11.6" text-anchor="middle" font-weight="bold" fill="#000" >44%</text>
<text x="797.4" y="966.8" font-size="11.6" text-anchor="middle" font-weight="bold" fill="#000" >62%</text>
<rect x="493.9" y="709.8" width="329.1" height="242.0" fill="none" stroke="#000" stroke-width="1.8"/>
<line x1="488.9" y1="951.80" x2="493.9" y2="951.80" stroke="#000" stroke-width="1.5"/>
<text x="486" y="956.80" font-size="14" text-anchor="end" font-weight="normal" fill="#000" >0</text>
<line x1="491.4" y1="918.05" x2="493.9" y2="918.05" stroke="#000" stroke-width="1.5"/>
<line x1="488.9" y1="884.30" x2="493.9" y2="884.30" stroke="#000" stroke-width="1.5"/>
<text x="486" y="889.30" font-size="14" text-anchor="end" font-weight="normal" fill="#000" >5</text>
<line x1="491.4" y1="850.55" x2="493.9" y2="850.55" stroke="#000" stroke-width="1.5"/>
<line x1="488.9" y1="816.80" x2="493.9" y2="816.80" stroke="#000" stroke-width="1.5"/>
<text x="486" y="821.80" font-size="14" text-anchor="end" font-weight="normal" fill="#000" >10</text>
<line x1="491.4" y1="783.05" x2="493.9" y2="783.05" stroke="#000" stroke-width="1.5"/>
<line x1="488.9" y1="749.30" x2="493.9" y2="749.30" stroke="#000" stroke-width="1.5"/>
<text x="486" y="754.30" font-size="14" text-anchor="end" font-weight="normal" fill="#000" >15</text>
<line x1="491.4" y1="715.55" x2="493.9" y2="715.55" stroke="#000" stroke-width="1.5"/>
<line x1="823" y1="951.80" x2="828" y2="951.80" stroke="#000" stroke-width="1.5"/>
<text x="830.5" y="957.80" font-size="14" text-anchor="start" font-weight="normal" fill="#000" >0.0</text>
<line x1="823" y1="924.75" x2="825.5" y2="924.75" stroke="#000" stroke-width="1.5"/>
<line x1="823" y1="897.70" x2="828" y2="897.70" stroke="#000" stroke-width="1.5"/>
<text x="830.5" y="903.70" font-size="14" text-anchor="start" font-weight="normal" fill="#000" >0.1</text>
<line x1="823" y1="870.65" x2="825.5" y2="870.65" stroke="#000" stroke-width="1.5"/>
<line x1="823" y1="843.60" x2="828" y2="843.60" stroke="#000" stroke-width="1.5"/>
<text x="830.5" y="849.60" font-size="14" text-anchor="start" font-weight="normal" fill="#000" >0.2</text>
<line x1="823" y1="816.55" x2="825.5" y2="816.55" stroke="#000" stroke-width="1.5"/>
<line x1="823" y1="789.50" x2="828" y2="789.50" stroke="#000" stroke-width="1.5"/>
<text x="830.5" y="795.50" font-size="14" text-anchor="start" font-weight="normal" fill="#000" >0.3</text>
<line x1="823" y1="762.45" x2="825.5" y2="762.45" stroke="#000" stroke-width="1.5"/>
<line x1="823" y1="735.40" x2="828" y2="735.40" stroke="#000" stroke-width="1.5"/>
<text x="830.5" y="741.40" font-size="14" text-anchor="start" font-weight="normal" fill="#000" >0.4</text>
<line x1="507.30" y1="709.8" x2="507.30" y2="714.8" stroke="#000" stroke-width="1.5"/>
<line x1="541.57" y1="709.8" x2="541.57" y2="712.3" stroke="#000" stroke-width="1.5"/>
<line x1="575.84" y1="709.8" x2="575.84" y2="714.8" stroke="#000" stroke-width="1.5"/>
<line x1="610.11" y1="709.8" x2="610.11" y2="712.3" stroke="#000" stroke-width="1.5"/>
<line x1="644.38" y1="709.8" x2="644.38" y2="714.8" stroke="#000" stroke-width="1.5"/>
<line x1="678.65" y1="709.8" x2="678.65" y2="712.3" stroke="#000" stroke-width="1.5"/>
<line x1="712.92" y1="709.8" x2="712.92" y2="714.8" stroke="#000" stroke-width="1.5"/>
<line x1="747.19" y1="709.8" x2="747.19" y2="712.3" stroke="#000" stroke-width="1.5"/>
<line x1="781.46" y1="709.8" x2="781.46" y2="714.8" stroke="#000" stroke-width="1.5"/>
<line x1="815.73" y1="709.8" x2="815.73" y2="712.3" stroke="#000" stroke-width="1.5"/>
<text transform="translate(464,821.9) rotate(-90)" font-size="18.7" text-anchor="middle" fill="#1a1ab8">Density (mg cm<tspan font-size="11" dy="-7">-3</tspan><tspan dy="7">)</tspan></text>
<text transform="translate(869.4,830.5) rotate(-90)" font-size="19" text-anchor="middle" fill="#d0883a">Conductivity (S cm<tspan font-size="11" dy="-7">-1</tspan><tspan dy="7">)</tspan></text>
<text x="428.5" y="714" font-size="24" text-anchor="start" font-weight="bold" fill="#000" >e</text>
<line x1="549" y1="811.9" x2="583" y2="811.9" stroke="#1010c8" stroke-width="1.6" stroke-dasharray="4,2.5"/>
<path d="M540.5,811.9 L550,808.2 L550,815.6 Z" fill="#1010c8"/>
<line x1="723.4" y1="807.3" x2="760" y2="807.3" stroke="#f08a20" stroke-width="1.6" stroke-dasharray="4,2.5"/>
<path d="M770,807.3 L758.5,803.6 L758.5,811 Z" fill="#f08a20"/>
</g>
<defs><filter id="soft" x="-5%" y="-5%" width="110%" height="110%"><feGaussianBlur stdDeviation="0.7"/></filter><filter id="soft2" x="-20%" y="-20%" width="140%" height="140%"><feGaussianBlur stdDeviation="2.5"/></filter></defs>
<text x="867.5" y="403.5" font-size="24" font-weight="bold">f</text>
<defs><clipPath id="fclip"><rect x="889" y="393" width="302" height="234"/></clipPath><linearGradient id="fbg" x1="0" y1="0" x2="1" y2="0"><stop offset="0" stop-color="#d8d9df"/><stop offset="0.25" stop-color="#e0e1e7"/><stop offset="0.5" stop-color="#e8e8ee"/><stop offset="0.8" stop-color="#e4e5eb"/><stop offset="1" stop-color="#dedfe4"/></linearGradient></defs>
<g clip-path="url(#fclip)">
<rect x="889" y="393" width="302" height="234" fill="url(#fbg)"/>
<g filter="url(#soft)">
<polygon points="889.3,392.9 930.3,392.9 936.9,437.9 932.9,490.8 922.3,533.1 889.3,538.4" fill="#d6d7dd" opacity="0.8"/>
<polygon points="889.3,445.8 932.9,448.5 935.5,453.8 889.3,452.4" fill="#b8b9c0" opacity="0.8"/>
<polygon points="1141.8,392.9 1190.8,392.9 1190.8,533.1 1173.6,533.1 1141.8,472.3" fill="#e0e1e7" opacity="0.8"/>
<polygon points="1144.5,437.9 1190.8,430.0 1190.8,435.3 1144.5,444.5" fill="#c4c5cc" opacity="0.7"/>
<polygon points="889.3,538.4 951.4,541.0 956.7,627.0 889.3,627.0" fill="#dadbd7"/>
<polygon points="1144.5,543.7 1190.8,533.1 1190.8,627.0 1147.1,627.0" fill="#e0e1de"/>
<polygon points="951.4,570.1 1144.5,567.5 1147.1,627.0 956.7,627.0" fill="#ededf1"/>
<line x1="1024.1" y1="393" x2="1024.9" y2="627" stroke="#cdced5" stroke-width="1.2"/>
<polyline points="1091.6,570.1 1094.2,601.9 1144.5,596.6" stroke="#cfd0d6" stroke-width="1.2" fill="none"/>
<polyline points="895.9,601.9 917.0,586.0 943.5,596.6" stroke="#9a9a9a" stroke-width="0.8" fill="none"/>
<polygon points="1157.7,484.2 1173.6,485.5 1181.5,496.0 1183.0,509.3 1176.2,519.9 1170.9,533.1 1164.3,541.0 1155.0,538.4 1151.0,517.2 1159.0,501.4" fill="#2a7ce6"/>
<polygon points="1165.0,490.0 1178.0,496.0 1180.0,512.0 1172.0,522.0 1166.0,505.0" fill="#4a94f0" opacity="0.7"/>
<polygon points="908.0,500.0 914.0,502.0 916.0,540.0 910.0,542.0 906.0,520.0" fill="#3a78d0"/>
<polygon points="957.0,431.5 967.3,427.3 1028.0,424.7 1118.0,424.7 1134.0,430.0 1137.9,436.6 1152.4,441.9 1151.0,448.5 1127.3,455.0 1126.0,464.3 1137.9,473.6 1157.7,485.5 1159.0,492.1 1155.0,501.4 1149.8,509.3 1152.4,525.2 1161.7,541.0 1160.3,546.3 1144.5,554.3 1139.2,559.6 1118.0,570.1 1054.6,575.4 1012.2,579.4 946.1,578.0 917.0,575.4 915.7,556.9 909.1,549.0 911.7,541.0 913.1,522.5 914.4,512.0 901.2,501.4 901.2,490.8 917.0,480.2 926.3,469.6 915.7,463.0 921.0,451.0" fill="#181718"/>
<polygon points="958.0,430.0 1118.0,424.7 1137.9,436.6 1126.0,443.2 1065.1,445.8 959.3,451.1 946.1,452.4" fill="#2e2c2d"/>
<polygon points="919.7,457.7 1127.3,453.8 1126.0,464.3 932.9,467.0" fill="#1e1c1d"/>
<polygon points="927.6,472.3 1123.3,464.3 1137.9,474.9 1065.1,488.1 1028.1,493.4 930.3,485.5" fill="#272526"/>
<polygon points="902.5,489.5 1157.7,486.8 1155.1,501.4 959.3,508.0 902.5,501.4" fill="#242223"/>
<polygon points="914.4,510.6 1147.1,505.3 1144.5,517.2 914.4,521.2" fill="#1c1a1b"/>
<polygon points="913.1,529.1 1144.5,523.9 1160.3,541.0 959.3,545.0 911.7,543.7" fill="#222021"/>
<polygon points="917.0,558.2 1139.2,555.6 1118.0,570.1 1012.2,576.7 917.0,574.1" fill="#1f1d1e"/>
<polyline points="917.0,460.4 1127.3,455.1" stroke="#0f0e0f" stroke-width="2.4" fill="none"/>
<polyline points="902.5,489.5 1144.5,480.2" stroke="#0f0e0f" stroke-width="2.4" fill="none"/>
<polyline points="911.7,506.7 1152.4,501.4" stroke="#0f0e0f" stroke-width="2.4" fill="none"/>
<polyline points="914.4,525.2 1141.8,521.2" stroke="#0f0e0f" stroke-width="2.4" fill="none"/>
<polyline points="913.1,546.3 1160.3,543.7" stroke="#0f0e0f" stroke-width="2.4" fill="none"/>
<polyline points="919.7,556.9 1141.8,554.3" stroke="#0f0e0f" stroke-width="2.4" fill="none"/>
</g>
<defs><filter id="mottle" x="0" y="0" width="100%" height="100%"><feTurbulence type="fractalNoise" baseFrequency="0.035 0.12" numOctaves="2" seed="4"/><feColorMatrix type="matrix" values="0 0 0 0 0.38  0 0 0 0 0.37  0 0 0 0 0.37  0 0 0 -2.2 1.25"/></filter><clipPath id="stackclip"><polygon points="957.0,431.5 967.3,427.3 1028.0,424.7 1118.0,424.7 1134.0,430.0 1137.9,436.6 1152.4,441.9 1151.0,448.5 1127.3,455.0 1126.0,464.3 1137.9,473.6 1157.7,485.5 1159.0,492.1 1155.0,501.4 1149.8,509.3 1152.4,525.2 1161.7,541.0 1160.3,546.3 1144.5,554.3 1139.2,559.6 1118.0,570.1 1054.6,575.4 1012.2,579.4 946.1,578.0 917.0,575.4 915.7,556.9 909.1,549.0 911.7,541.0 913.1,522.5 914.4,512.0 901.2,501.4 901.2,490.8 917.0,480.2 926.3,469.6 915.7,463.0 921.0,451.0"/></clipPath></defs>
<g clip-path="url(#stackclip)"><rect x="895" y="420" width="270" height="165" filter="url(#mottle)" opacity="0.16"/></g>
<ellipse cx="1010" cy="437" rx="45" ry="5" fill="#6a6869" opacity="0.35" filter="url(#soft2)"/>
<ellipse cx="1040" cy="483" rx="50" ry="4" fill="#6a6869" opacity="0.3" filter="url(#soft2)"/>
<ellipse cx="980" cy="500" rx="40" ry="3" fill="#6a6869" opacity="0.25" filter="url(#soft2)"/>
<ellipse cx="1070" cy="545" rx="40" ry="3" fill="#6a6869" opacity="0.2" filter="url(#soft2)"/>
<ellipse cx="960" cy="470" rx="20" ry="3" fill="#6a6869" opacity="0.3" filter="url(#soft2)"/>
<ellipse cx="1110" cy="520" rx="25" ry="3" fill="#6a6869" opacity="0.25" filter="url(#soft2)"/>
</g>
<text x="867.3" y="712.6" font-size="24" font-weight="bold">g</text>
<defs><clipPath id="gclip"><rect x="889" y="711" width="302" height="227"/></clipPath></defs>
<g clip-path="url(#gclip)">
<rect x="889" y="711" width="302" height="227" fill="#e4e5ea"/>
<g filter="url(#soft)">
<polygon points="889.3,848.1 1190.8,842.8 1190.8,885.1 889.3,874.6" fill="#dcdcda"/>
<polygon points="889.3,871.9 1190.8,885.1 1190.8,938.0 889.3,938.0" fill="#d3d0c7"/>
<path d="M927.6,874.6 L909.1,938.0 M1176.2,895.7 L1186.8,938.0 M889.3,885.1 L1190.8,895.7" stroke="#bab7ae" stroke-width="1" fill="none"/>
<polygon points="889.3,711.4 1190.8,711.4 1190.8,779.3 1139.2,787.3 1126.0,752.9 943.5,752.9 932.9,766.1 889.3,763.5" fill="#ebebf0"/>
<polygon points="946.1,711.4 1017.5,711.4 1017.5,745.0 959.3,745.0" fill="#e4e4ea"/>
<polygon points="889.3,711.4 943.5,711.4 948.8,745.0 919.7,750.3 889.3,750.3" fill="#f2f2f6"/>
<polygon points="1126.0,711.4 1190.8,711.4 1190.8,747.6 1155.1,750.3 1126.0,766.1" fill="#f2f2f6"/>
<circle cx="1032.1" cy="718.5" r="3.5" fill="#d8d8e0"/>
<polygon points="889.3,751.6 905.1,747.6 922.3,748.9 936.9,756.9 944.8,771.4 946.1,787.3 943.5,805.8 932.9,813.7 919.7,817.7 905.1,821.7 898.5,832.2 893.2,827.0 889.3,819.0" fill="#75b9d3"/>
<polygon points="1155.1,748.9 1170.9,745.0 1184.2,747.6 1190.8,755.5 1190.8,824.3 1181.5,833.6 1173.6,824.3 1163.0,816.4 1147.1,811.1 1140.5,795.2 1141.8,776.7 1148.4,760.8" fill="#72b8d5"/>
<polygon points="895.9,824.3 919.7,817.7 922.3,837.5 911.7,845.5 901.2,842.8" fill="#5fa9c0" opacity="0.6"/>
<polygon points="1155.1,821.7 1173.6,824.3 1170.9,842.8 1157.7,845.5" fill="#5fa9c0" opacity="0.6"/>
<polygon points="932.9,742.3 1133.9,742.3 1176.2,858.7 1133.9,916.9 940.8,916.9 893.2,858.7" fill="#e6e9ec" opacity="0.45"/>
<polyline points="932.9,742.3 1133.9,742.3 1176.2,858.7 1170.9,869.3 1133.9,916.9 940.8,916.9 901.2,869.3 893.2,858.7 932.9,742.3" stroke="#c9cdd1" stroke-width="1.5" fill="none"/>
<polyline points="946.1,752.9 1126.0,752.9 1144.5,811.1" stroke="#d0d4d8" stroke-width="1" fill="none"/>
<polygon points="950.0,778.0 1002.0,776.0 1058.0,784.0 1065.0,779.0 1107.0,779.0 1121.0,798.0 1134.0,820.0 1140.0,848.0 1138.0,856.0 933.0,856.0 932.0,828.0 941.0,805.0" fill="#1a1a1a"/>
<polygon points="950.5,780.9 1002.3,778.2 1003.2,800.0 950.5,802.7" fill="#2a2929" stroke="#4c4a4a" stroke-width="1"/>
<polygon points="942.3,803.6 993.2,800.9 994.1,822.7 941.4,823.6" fill="#2a2929" stroke="#4c4a4a" stroke-width="1"/>
<polygon points="933.2,828.2 995.9,827.3 996.8,849.1 932.3,850.0" fill="#2a2929" stroke="#4c4a4a" stroke-width="1"/>
<polygon points="1014.1,786.4 1057.7,785.5 1058.6,801.8 1014.1,802.7" fill="#2a2929" stroke="#4c4a4a" stroke-width="1"/>
<polygon points="1015.9,804.5 1063.2,803.6 1064.1,823.6 1015.9,823.6" fill="#2a2929" stroke="#4c4a4a" stroke-width="1"/>
<polygon points="1005.0,824.5 1059.5,824.5 1060.5,848.2 1005.0,848.2" fill="#2a2929" stroke="#4c4a4a" stroke-width="1"/>
<polygon points="1065.0,780.9 1106.8,780.0 1120.5,799.1 1066.8,804.5" fill="#2a2929" stroke="#4c4a4a" stroke-width="1"/>
<polygon points="1081.4,802.7 1123.2,800.9 1134.1,821.8 1083.2,828.2" fill="#2a2929" stroke="#4c4a4a" stroke-width="1"/>
<polygon points="1081.4,830.9 1130.5,830.0 1139.5,848.2 1083.2,850.0" fill="#2a2929" stroke="#4c4a4a" stroke-width="1"/>
<path d="M933,852 L997,852 M1005,850 L1061,850 M1083,852 L1140,852 M942,825 L994,825 M1016,825 L1064,825 M1083,829 L1134,829" stroke="#282524" stroke-width="2.5"/>
<polygon points="938.2,871.9 1141.8,871.9 1141.8,911.6 1112.7,916.9 951.4,911.6" fill="#52545c"/>
<polygon points="959.3,877.2 1112.7,877.2 1112.7,911.6 959.3,911.6" fill="#4a4c54" stroke="#c6c9cf" stroke-width="1"/>
<path d="M964.6,885.1 L1107.5,882.5 M964.6,895.7 L1107.5,894.4" stroke="#6a6c74" stroke-width="1.5" fill="none"/>
<polygon points="1014.9,911.6 1022.8,901.0 1033.4,911.6" fill="#dcdce0"/>
<polygon points="1073.1,908.9 1086.3,895.7 1091.6,911.6" fill="#d0d0d6" opacity="0.8"/>
<polygon points="893.2,858.7 1176.2,858.7 1170.9,871.9 901.2,871.9" fill="#eceff2" opacity="0.5"/>
<polygon points="985.8,938.0 991.1,919.5 1012.2,919.5 1012.2,938.0" fill="#e8e8e6"/>
<polygon points="1059.8,938.0 1065.1,919.5 1086.3,919.5 1091.6,938.0" fill="#e8e8e6"/>
</g>
</g>
</svg></body></html>
